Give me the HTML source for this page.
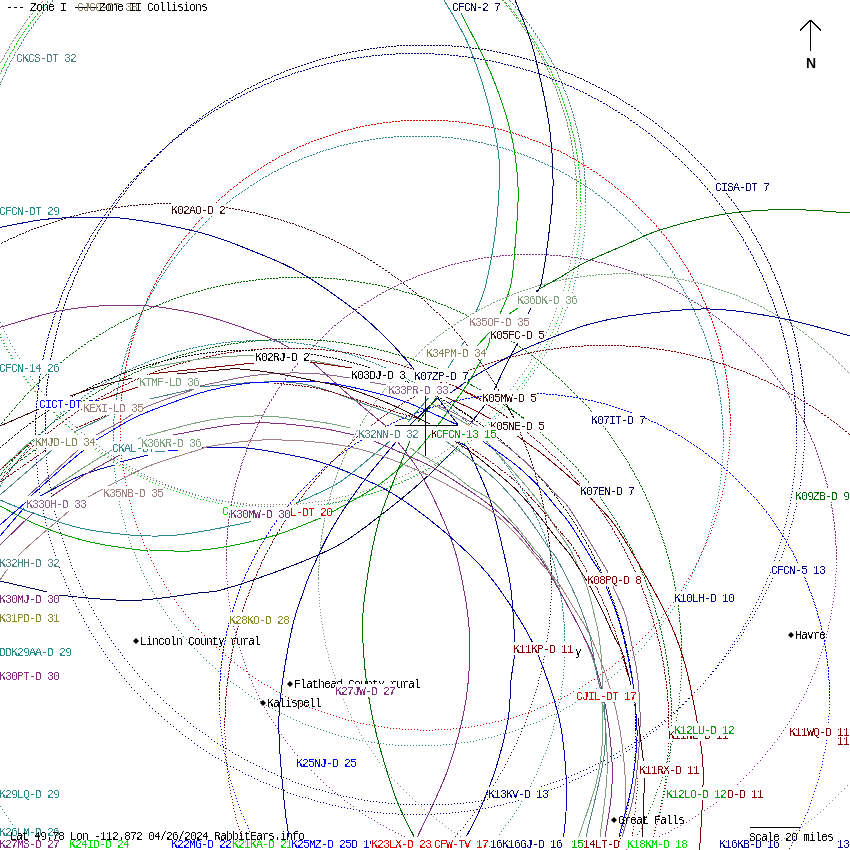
<!DOCTYPE html>
<html><head><meta charset="utf-8"><title>RabbitEars Zone Collisions</title>
<style>
html,body{margin:0;padding:0;background:#fff;}
svg{display:block}
.c path{fill:none;stroke-width:1;shape-rendering:crispEdges}
text{filter:url(#t);font-family:"Liberation Mono",monospace;font-size:11.5px;letter-spacing:-0.9px;}
.n{filter:url(#g);font-family:"Liberation Sans",sans-serif;font-weight:bold;font-size:14px;letter-spacing:0}
</style></head><body>
<svg width="850" height="850" viewBox="0 0 850 850">
<rect width="850" height="850" fill="#fff"/>
<g class="c">
<path d="M502 0.5h1M42 1.5h1M41 2.5h1M504 2.5h1M505 3.5h1M39 4.5h1M38 5.5h1M506 5.5h1M507 6.5h1M37 7.5h1M36 8.5h1M509 8.5h1M510 9.5h1M34 10.5h1M33 11.5h1M511 11.5h1M512 12.5h1M32 13.5h1M31 14.5h1M513 14.5h1M514 15.5h1M29 16.5h1M29 17.5h1M516 17.5h1M516 18.5h1M27 19.5h1M26 20.5h1M518 20.5h1M519 21.5h1M25 22.5h1M24 23.5h1M520 23.5h1M521 24.5h1M23 25.5h1M22 26.5h1M522 26.5h1M523 27.5h1M21 28.5h1M20 29.5h1M524 29.5h1M525 30.5h1M19 31.5h1M18 32.5h1M526 32.5h1M527 33.5h1M17 34.5h1M16 35.5h1M528 35.5h1M529 36.5h1M15 37.5h1M14 38.5h1M530 38.5h1M531 39.5h1M13 40.5h1M12 41.5h1M532 41.5h1M533 42.5h1M11 43.5h1M10 44.5h1M534 44.5h1M534 45.5h1M9 46.5h1M9 47.5h1M536 47.5h1M536 48.5h1M8 49.5h1M7 50.5h1M537 50.5h1M538 51.5h1M6 52.5h1M5 53.5h1M539 53.5h1M539 54.5h1M4 55.5h1M4 56.5h1M541 56.5h1M541 57.5h1M3 58.5h1M2 59.5h1M542 59.5h1M543 60.5h1M1 61.5h1M0 62.5h1M544 62.5h1M544 63.5h1M545 65.5h1M546 66.5h1M547 68.5h1M547 69.5h1M548 71.5h1M549 72.5h1M549 74.5h1M550 75.5h1M551 77.5h1M551 78.5h1M552 80.5h1M552 81.5h1M553 83.5h1M554 84.5h1M555 86.5h1M555 87.5h1M556 89.5h1M556 90.5h1M557 92.5h1M557 93.5h1M558 95.5h1M558 96.5h1M559 98.5h1M559 99.5h1M560 101.5h1M560 102.5h1M561 104.5h1M561 105.5h1M562 107.5h1M562 108.5h1M563 110.5h1M563 111.5h1M564 113.5h1M564 114.5h1M565 116.5h1M565 117.5h1M566 119.5h1M566 120.5h1M567 122.5h1M567 123.5h1M567 125.5h1M567 126.5h1M568 128.5h1M568 129.5h1M569 131.5h1M569 132.5h1M569 134.5h1M570 135.5h1M570 137.5h1M570 138.5h1M571 140.5h1M571 141.5h1M571 143.5h1M571 144.5h1M572 146.5h1M572 147.5h1M572 149.5h1M572 150.5h1M573 152.5h1M573 153.5h1M573 155.5h1M573 156.5h1M574 158.5h1M574 159.5h1M574 161.5h1M574 162.5h1M574 164.5h1M575 165.5h1M575 167.5h1M575 168.5h1M575 170.5h1M575 171.5h1M575 173.5h1M575 174.5h1M576 176.5h1M576 177.5h1M576 179.5h1M576 180.5h1M576 182.5h1M576 183.5h1M576 185.5h1M576 186.5h1M576 188.5h1M576 189.5h1M576 191.5h1M576 192.5h1M576 194.5h1M576 195.5h1M576 197.5h1M576 198.5h1M577 200.5h1M576 203.5h1M576 206.5h1M576 209.5h1M576 212.5h1M576 215.5h1M576 218.5h1M576 221.5h1M576 224.5h1M575 227.5h1M575 230.5h1M575 233.5h1M574 236.5h1M574 239.5h1M574 242.5h1M573 245.5h1M573 248.5h1M572 251.5h1M572 254.5h1M571 257.5h1M570 260.5h1M570 263.5h1M569 266.5h1M568 269.5h1M568 272.5h1M567 275.5h1M566 278.5h1M565 281.5h1M565 284.5h1M564 287.5h1M563 290.5h1M562 293.5h1M561 296.5h1M560 299.5h1M559 302.5h1M558 305.5h1M556 308.5h1M555 311.5h1M554 314.5h1M553 317.5h1M552 320.5h1M550 323.5h1M549 326.5h1M548 329.5h1M546 332.5h1M545 335.5h1M0 337.5h1M543 338.5h1M1 340.5h1M542 341.5h1M3 343.5h1M540 344.5h1M4 346.5h1M538 347.5h1M6 349.5h1M537 350.5h1M8 352.5h1M535 353.5h1M10 355.5h1M533 356.5h1M11 358.5h1M531 359.5h1M13 361.5h1M530 362.5h1M15 364.5h1M528 365.5h1M17 367.5h1M526 368.5h1M19 370.5h1M524 371.5h1M21 373.5h1M522 374.5h1M23 376.5h1M519 377.5h1M25 379.5h1M517 380.5h1M27 382.5h1M515 383.5h1M30 385.5h1M513 386.5h1M32 388.5h1M510 389.5h1M34 391.5h1M508 392.5h1M37 394.5h1M505 395.5h1M39 397.5h1M503 398.5h1M42 400.5h1M500 401.5h1M45 403.5h1M498 404.5h1M48 406.5h1M495 407.5h1M51 409.5h1M492 410.5h1M54 412.5h1M489 413.5h1M57 415.5h1M486 416.5h1M60 418.5h1M483 419.5h1M63 421.5h1M480 422.5h1M66 424.5h1M477 425.5h1M69 427.5h1M474 428.5h1M72 429.5h1M471 431.5h1M75 432.5h1M468 433.5h1M78 435.5h1M465 436.5h1M81 437.5h1M462 438.5h1M84 439.5h1M459 441.5h1M87 442.5h1M456 443.5h1M90 444.5h1M453 445.5h1M93 446.5h1M450 447.5h1M96 448.5h1M447 449.5h1M99 450.5h1M444 451.5h1M102 452.5h1M441 453.5h1M105 454.5h1M108 456.5h1M438 456.5h1M435 457.5h1M111 458.5h1M432 459.5h1M114 460.5h1M429 461.5h1M117 462.5h1M426 463.5h1M120 464.5h1M123 465.5h1M423 465.5h1M420 466.5h1M126 467.5h1M417 468.5h1M129 469.5h1M132 470.5h1M414 470.5h1M411 471.5h1M135 472.5h1M138 473.5h1M408 473.5h1M405 474.5h1M141 475.5h1M144 476.5h1M402 476.5h1M399 477.5h1M147 478.5h1M396 478.5h1M150 479.5h1M153 480.5h1M393 480.5h1M156 481.5h1M390 481.5h1M387 482.5h1M159 483.5h1M384 483.5h1M162 484.5h1M381 484.5h1M165 485.5h1M168 486.5h1M378 486.5h1M171 487.5h1M375 487.5h1M174 488.5h1M372 488.5h1M177 489.5h1M369 489.5h1M180 490.5h1M366 490.5h1M183 491.5h1M363 491.5h1M186 492.5h1M357 492.5h1M360 492.5h1M189 493.5h1M354 493.5h1M192 494.5h1M351 494.5h1M195 495.5h1M198 495.5h1M348 495.5h1M201 496.5h1M342 496.5h1M345 496.5h1M204 497.5h1M207 497.5h1M339 497.5h1M210 498.5h1M333 498.5h1M336 498.5h1M213 499.5h1M216 499.5h1M330 499.5h1M219 500.5h1M222 500.5h1M324 500.5h1M327 500.5h1M225 501.5h1M228 501.5h1M315 501.5h1M318 501.5h1M321 501.5h1M231 502.5h1M234 502.5h1M237 502.5h1M309 502.5h1M312 502.5h1M240 503.5h1M243 503.5h1M246 503.5h1M300 503.5h1M303 503.5h1M306 503.5h1M249 504.5h1M252 504.5h1M255 504.5h1M258 504.5h1M261 504.5h1M264 504.5h1M267 504.5h1M270 504.5h1M273 504.5h1M276 504.5h1M279 504.5h1M282 504.5h1M285 504.5h1M288 504.5h1M291 504.5h1M294 504.5h1M297 504.5h1" stroke="#8a8468" style="shape-rendering:auto"/>
<path d="M503 0.5h1M47 1.5h1M47 2.5h1M505 2.5h1M506 3.5h1M45 4.5h1M44 5.5h1M508 5.5h1M509 6.5h1M42 7.5h1M41 8.5h1M510 8.5h1M511 9.5h1M40 10.5h1M39 11.5h1M513 11.5h1M514 12.5h1M37 13.5h1M37 14.5h1M515 14.5h1M516 15.5h1M35 16.5h1M34 17.5h1M517 17.5h1M518 18.5h1M33 19.5h1M32 20.5h1M520 20.5h1M520 21.5h1M30 22.5h1M30 23.5h1M522 23.5h1M523 24.5h1M28 25.5h1M28 26.5h1M524 26.5h1M525 27.5h1M26 28.5h1M25 29.5h1M526 29.5h1M527 30.5h1M24 31.5h1M23 32.5h1M528 32.5h1M529 33.5h1M22 34.5h1M21 35.5h1M530 35.5h1M531 36.5h1M20 37.5h1M19 38.5h1M532 38.5h1M533 39.5h1M18 40.5h1M17 41.5h1M534 41.5h1M535 42.5h1M16 43.5h1M16 44.5h1M536 44.5h1M537 45.5h1M14 46.5h1M14 47.5h1M538 47.5h1M538 48.5h1M13 49.5h1M12 50.5h1M539 50.5h1M540 51.5h1M11 52.5h1M10 53.5h1M541 53.5h1M542 54.5h1M9 55.5h1M9 56.5h1M543 56.5h1M543 57.5h1M7 58.5h1M7 59.5h1M544 59.5h1M545 60.5h1M6 61.5h1M5 62.5h1M546 62.5h1M547 63.5h1M4 64.5h1M4 65.5h1M548 65.5h1M548 66.5h1M3 67.5h1M2 68.5h1M549 68.5h1M550 69.5h1M1 70.5h1M1 71.5h1M551 71.5h1M551 72.5h1M0 73.5h1M552 74.5h1M552 75.5h1M553 77.5h1M554 78.5h1M555 80.5h1M555 81.5h1M556 83.5h1M556 84.5h1M557 86.5h1M558 87.5h1M559 89.5h1M559 90.5h1M560 92.5h1M560 93.5h1M561 95.5h1M561 96.5h1M562 98.5h1M562 99.5h1M563 101.5h1M563 102.5h1M564 104.5h1M564 105.5h1M565 107.5h1M565 108.5h1M566 110.5h1M566 111.5h1M567 113.5h1M567 114.5h1M568 116.5h1M568 117.5h1M569 119.5h1M569 120.5h1M570 122.5h1M570 123.5h1M570 125.5h1M571 126.5h1M571 128.5h1M571 129.5h1M572 131.5h1M572 132.5h1M573 134.5h1M573 135.5h1M573 137.5h1M574 138.5h1M574 140.5h1M574 141.5h1M575 143.5h1M575 144.5h1M575 146.5h1M575 147.5h1M576 149.5h1M576 150.5h1M576 152.5h1M576 153.5h1M577 155.5h1M577 156.5h1M577 158.5h1M577 159.5h1M578 161.5h1M578 162.5h1M578 164.5h1M578 165.5h1M578 167.5h1M578 168.5h1M579 170.5h1M579 171.5h1M579 173.5h1M579 174.5h1M579 176.5h1M579 177.5h1M580 179.5h1M580 180.5h1M580 182.5h1M580 183.5h1M580 185.5h1M580 186.5h1M580 188.5h1M580 189.5h1M580 191.5h1M580 192.5h1M580 194.5h1M580 195.5h1M580 197.5h1M580 198.5h1M580 200.5h1M580 201.5h1M581 203.5h1M580 206.5h1M580 209.5h1M580 212.5h1M580 215.5h1M580 218.5h1M580 221.5h1M580 224.5h1M580 227.5h1M579 230.5h1M579 233.5h1M579 236.5h1M578 239.5h1M578 242.5h1M578 245.5h1M577 248.5h1M577 251.5h1M576 254.5h1M576 257.5h1M575 260.5h1M575 263.5h1M574 266.5h1M573 269.5h1M573 272.5h1M572 275.5h1M571 278.5h1M570 281.5h1M569 284.5h1M569 287.5h1M568 290.5h1M567 293.5h1M566 296.5h1M565 299.5h1M564 302.5h1M563 305.5h1M562 308.5h1M561 311.5h1M560 314.5h1M558 317.5h1M557 320.5h1M556 323.5h1M555 326.5h1M553 329.5h1M552 332.5h1M0 334.5h1M550 335.5h1M1 337.5h1M549 338.5h1M3 340.5h1M547 341.5h1M4 343.5h1M546 344.5h1M6 346.5h1M544 347.5h1M7 349.5h1M543 350.5h1M9 352.5h1M541 353.5h1M11 355.5h1M539 356.5h1M12 358.5h1M537 359.5h1M14 361.5h1M536 362.5h1M16 364.5h1M534 365.5h1M18 367.5h1M532 368.5h1M20 370.5h1M530 371.5h1M22 373.5h1M528 374.5h1M24 376.5h1M526 377.5h1M26 379.5h1M524 380.5h1M28 382.5h1M522 383.5h1M30 385.5h1M519 386.5h1M33 388.5h1M517 389.5h1M35 391.5h1M515 392.5h1M37 394.5h1M512 395.5h1M40 397.5h1M510 398.5h1M42 400.5h1M507 401.5h1M45 403.5h1M505 404.5h1M47 406.5h1M502 407.5h1M50 409.5h1M499 410.5h1M53 412.5h1M496 413.5h1M56 415.5h1M494 416.5h1M59 418.5h1M491 419.5h1M62 421.5h1M488 422.5h1M65 424.5h1M485 425.5h1M68 426.5h1M482 428.5h1M71 429.5h1M479 431.5h1M74 432.5h1M476 433.5h1M77 434.5h1M473 436.5h1M80 437.5h1M83 439.5h1M470 439.5h1M467 441.5h1M86 442.5h1M464 443.5h1M89 444.5h1M461 446.5h1M92 447.5h1M458 448.5h1M95 449.5h1M455 450.5h1M98 451.5h1M452 452.5h1M101 453.5h1M449 454.5h1M104 455.5h1M446 456.5h1M107 457.5h1M443 458.5h1M110 459.5h1M440 460.5h1M113 461.5h1M437 462.5h1M116 463.5h1M434 464.5h1M119 465.5h1M431 466.5h1M122 467.5h1M125 468.5h1M428 468.5h1M425 469.5h1M128 470.5h1M422 471.5h1M131 472.5h1M134 473.5h1M419 473.5h1M416 474.5h1M137 475.5h1M140 476.5h1M413 476.5h1M410 477.5h1M143 478.5h1M146 479.5h1M407 479.5h1M404 480.5h1M149 481.5h1M401 481.5h1M152 482.5h1M155 483.5h1M398 483.5h1M395 484.5h1M158 485.5h1M392 485.5h1M161 486.5h1M389 486.5h1M164 487.5h1M167 488.5h1M386 488.5h1M170 489.5h1M383 489.5h1M173 490.5h1M380 490.5h1M176 491.5h1M377 491.5h1M179 492.5h1M374 492.5h1M182 493.5h1M371 493.5h1M185 494.5h1M368 494.5h1M188 495.5h1M365 495.5h1M191 496.5h1M362 496.5h1M194 497.5h1M359 497.5h1M197 498.5h1M353 498.5h1M356 498.5h1M200 499.5h1M203 499.5h1M350 499.5h1M206 500.5h1M344 500.5h1M347 500.5h1M209 501.5h1M212 501.5h1M341 501.5h1M215 502.5h1M335 502.5h1M338 502.5h1M218 503.5h1M221 503.5h1M332 503.5h1M224 504.5h1M227 504.5h1M326 504.5h1M329 504.5h1M230 505.5h1M233 505.5h1M317 505.5h1M320 505.5h1M323 505.5h1M236 506.5h1M239 506.5h1M242 506.5h1M308 506.5h1M311 506.5h1M314 506.5h1M245 507.5h1M248 507.5h1M251 507.5h1M254 507.5h1M299 507.5h1M302 507.5h1M305 507.5h1M257 508.5h1M260 508.5h1M263 508.5h1M266 508.5h1M269 508.5h1M272 508.5h1M275 508.5h1M278 508.5h1M281 508.5h1M284 508.5h1M287 508.5h1M290 508.5h1M293 508.5h1M296 508.5h1" stroke="#00dc00" style="shape-rendering:auto"/>
<path d="M52 0.5h1M509 0.5h1M52 1.5h1M510 1.5h1M50 3.5h1M512 3.5h1M49 4.5h1M513 4.5h1M47 6.5h1M515 6.5h1M46 7.5h1M515 7.5h1M45 9.5h1M517 9.5h1M44 10.5h1M518 10.5h1M42 12.5h1M519 12.5h1M42 13.5h1M520 13.5h1M40 15.5h1M522 15.5h1M39 16.5h1M523 16.5h1M38 18.5h1M524 18.5h1M37 19.5h1M525 19.5h1M35 21.5h1M526 21.5h1M35 22.5h1M527 22.5h1M33 24.5h1M529 24.5h1M33 25.5h1M529 25.5h1M31 27.5h1M531 27.5h1M31 28.5h1M531 28.5h1M29 30.5h1M533 30.5h1M28 31.5h1M533 31.5h1M27 33.5h1M535 33.5h1M26 34.5h1M535 34.5h1M25 36.5h1M537 36.5h1M24 37.5h1M537 37.5h1M23 39.5h1M539 39.5h1M23 40.5h1M539 40.5h1M21 42.5h1M540 42.5h1M21 43.5h1M541 43.5h1M20 45.5h1M542 45.5h1M19 46.5h1M543 46.5h1M18 48.5h1M544 48.5h1M17 49.5h1M545 49.5h1M16 51.5h1M546 51.5h1M15 52.5h1M546 52.5h1M14 54.5h1M547 54.5h1M14 55.5h1M548 55.5h1M13 57.5h1M549 57.5h1M12 58.5h1M550 58.5h1M11 60.5h1M551 60.5h1M10 61.5h1M551 61.5h1M9 63.5h1M552 63.5h1M9 64.5h1M553 64.5h1M8 66.5h1M554 66.5h1M7 67.5h1M554 67.5h1M6 69.5h1M555 69.5h1M6 70.5h1M556 70.5h1M5 72.5h1M557 72.5h1M5 73.5h1M557 73.5h1M4 75.5h1M558 75.5h1M3 76.5h1M558 76.5h1M2 78.5h1M559 78.5h1M2 79.5h1M560 79.5h1M1 81.5h1M561 81.5h1M0 82.5h1M561 82.5h1M0 84.5h1M562 84.5h1M562 85.5h1M563 87.5h1M563 88.5h1M564 90.5h1M565 91.5h1M565 93.5h1M566 94.5h1M567 96.5h1M567 97.5h1M568 99.5h1M568 100.5h1M569 102.5h1M569 103.5h1M570 105.5h1M570 106.5h1M571 108.5h1M571 109.5h1M572 111.5h1M572 112.5h1M573 114.5h1M573 115.5h1M573 117.5h1M574 118.5h1M574 120.5h1M575 121.5h1M575 123.5h1M575 124.5h1M576 126.5h1M576 127.5h1M577 129.5h1M577 130.5h1M577 132.5h1M578 133.5h1M578 135.5h1M578 136.5h1M579 138.5h1M579 139.5h1M579 141.5h1M580 142.5h1M580 144.5h1M580 145.5h1M580 147.5h1M581 148.5h1M581 150.5h1M581 151.5h1M582 153.5h1M582 154.5h1M582 156.5h1M582 157.5h1M582 159.5h1M583 160.5h1M583 162.5h1M583 163.5h1M583 165.5h1M583 166.5h1M584 168.5h1M584 169.5h1M584 171.5h1M584 172.5h1M584 174.5h1M584 175.5h1M584 177.5h1M584 178.5h1M585 180.5h1M585 181.5h1M585 183.5h1M585 184.5h1M585 186.5h1M585 187.5h1M585 189.5h1M585 190.5h1M585 192.5h1M585 193.5h1M585 195.5h1M585 196.5h1M585 198.5h1M585 199.5h1M585 201.5h1M585 202.5h1M585 205.5h1M585 208.5h1M585 211.5h1M585 214.5h1M585 217.5h1M585 220.5h1M585 223.5h1M584 226.5h1M584 229.5h1M584 232.5h1M584 235.5h1M583 238.5h1M583 241.5h1M582 244.5h1M582 247.5h1M582 250.5h1M581 253.5h1M580 256.5h1M580 259.5h1M579 262.5h1M579 265.5h1M578 268.5h1M577 271.5h1M577 274.5h1M576 277.5h1M575 280.5h1M574 283.5h1M573 286.5h1M573 289.5h1M572 292.5h1M571 295.5h1M570 298.5h1M569 301.5h1M568 304.5h1M567 307.5h1M565 310.5h1M564 313.5h1M563 316.5h1M562 319.5h1M0 322.5h1M561 322.5h1M2 325.5h1M559 325.5h1M3 328.5h1M558 328.5h1M4 331.5h1M557 331.5h1M6 334.5h1M555 334.5h1M7 337.5h1M554 337.5h1M9 340.5h1M552 340.5h1M10 343.5h1M551 343.5h1M12 346.5h1M549 346.5h1M14 349.5h1M547 349.5h1M15 352.5h1M546 352.5h1M17 355.5h1M544 355.5h1M19 358.5h1M542 358.5h1M20 361.5h1M540 361.5h1M22 364.5h1M538 364.5h1M24 367.5h1M537 367.5h1M26 370.5h1M534 370.5h1M28 373.5h1M533 373.5h1M30 376.5h1M530 376.5h1M32 379.5h1M528 379.5h1M34 382.5h1M526 382.5h1M37 385.5h1M524 385.5h1M39 388.5h1M522 388.5h1M41 391.5h1M519 391.5h1M44 394.5h1M517 394.5h1M46 397.5h1M514 397.5h1M49 400.5h1M512 400.5h1M51 403.5h1M509 403.5h1M54 406.5h1M507 406.5h1M57 409.5h1M504 409.5h1M60 412.5h1M501 412.5h1M63 415.5h1M498 415.5h1M66 418.5h1M495 418.5h1M69 421.5h1M492 421.5h1M72 424.5h1M489 424.5h1M75 426.5h1M486 427.5h1M78 429.5h1M483 430.5h1M81 432.5h1M480 433.5h1M84 434.5h1M477 435.5h1M87 437.5h1M474 438.5h1M90 439.5h1M471 440.5h1M93 442.5h1M468 443.5h1M96 444.5h1M465 445.5h1M99 446.5h1M462 447.5h1M102 449.5h1M459 449.5h1M105 451.5h1M456 451.5h1M108 453.5h1M453 453.5h1M111 455.5h1M450 455.5h1M114 457.5h1M447 457.5h1M117 459.5h1M444 459.5h1M120 461.5h1M441 461.5h1M123 462.5h1M438 463.5h1M126 464.5h1M435 465.5h1M129 466.5h1M432 467.5h1M132 468.5h1M429 468.5h1M135 469.5h1M426 470.5h1M138 471.5h1M423 471.5h1M141 473.5h1M420 473.5h1M144 474.5h1M417 475.5h1M147 476.5h1M414 476.5h1M150 477.5h1M153 478.5h1M411 478.5h1M408 479.5h1M156 480.5h1M405 480.5h1M159 481.5h1M162 482.5h1M402 482.5h1M399 483.5h1M165 484.5h1M396 484.5h1M168 485.5h1M393 485.5h1M171 486.5h1M390 486.5h1M174 487.5h1M177 488.5h1M387 488.5h1M180 489.5h1M384 489.5h1M183 490.5h1M381 490.5h1M186 491.5h1M378 491.5h1M189 492.5h1M375 492.5h1M192 493.5h1M372 493.5h1M195 494.5h1M366 494.5h1M369 494.5h1M198 495.5h1M363 495.5h1M201 496.5h1M360 496.5h1M204 497.5h1M207 497.5h1M357 497.5h1M210 498.5h1M351 498.5h1M354 498.5h1M213 499.5h1M348 499.5h1M216 500.5h1M219 500.5h1M342 500.5h1M345 500.5h1M222 501.5h1M225 501.5h1M339 501.5h1M228 502.5h1M231 502.5h1M333 502.5h1M336 502.5h1M234 503.5h1M237 503.5h1M327 503.5h1M330 503.5h1M240 504.5h1M243 504.5h1M318 504.5h1M321 504.5h1M324 504.5h1M246 505.5h1M249 505.5h1M252 505.5h1M255 505.5h1M309 505.5h1M312 505.5h1M315 505.5h1M258 506.5h1M261 506.5h1M264 506.5h1M267 506.5h1M270 506.5h1M273 506.5h1M291 506.5h1M294 506.5h1M297 506.5h1M300 506.5h1M303 506.5h1M306 506.5h1M276 507.5h1M279 507.5h1M282 507.5h1M285 507.5h1M288 507.5h1" stroke="#4f8282" style="shape-rendering:auto"/>
<path d="M397 45.5h2M400 45.5h2M403 45.5h2M406 45.5h2M409 45.5h2M412 45.5h2M415 45.5h2M418 45.5h2M421 45.5h2M424 45.5h2M427 45.5h2M430 45.5h2M433 45.5h2M436 45.5h2M439 45.5h2M442 45.5h2M445 45.5h2M448 45.5h2M451 45.5h1M386 46.5h1M388 46.5h2M391 46.5h2M394 46.5h2M452 46.5h1M454 46.5h2M457 46.5h2M460 46.5h2M463 46.5h1M377 47.5h1M379 47.5h2M382 47.5h2M385 47.5h1M464 47.5h1M466 47.5h2M469 47.5h2M370 48.5h2M373 48.5h2M376 48.5h1M472 48.5h2M475 48.5h2M478 48.5h2M364 49.5h2M367 49.5h2M481 49.5h2M484 49.5h2M358 50.5h2M361 50.5h2M487 50.5h2M490 50.5h2M352 51.5h2M355 51.5h2M493 51.5h2M496 51.5h1M347 52.5h1M349 52.5h2M497 52.5h1M499 52.5h2M343 53.5h2M346 53.5h1M502 53.5h2M505 53.5h2M338 54.5h1M340 54.5h2M508 54.5h2M334 55.5h2M337 55.5h1M511 55.5h2M514 55.5h1M331 56.5h2M515 56.5h1M517 56.5h2M326 57.5h1M328 57.5h2M520 57.5h2M322 58.5h2M325 58.5h1M523 58.5h2M526 58.5h1M319 59.5h2M527 59.5h1M529 59.5h1M316 60.5h2M530 60.5h1M532 60.5h2M313 61.5h2M535 61.5h2M310 62.5h2M538 62.5h2M307 63.5h2M541 63.5h2M304 64.5h2M544 64.5h2M301 65.5h2M547 65.5h2M298 66.5h2M550 66.5h2M295 67.5h2M553 67.5h2M292 68.5h2M556 68.5h2M289 69.5h2M559 69.5h1M286 70.5h2M560 70.5h1M562 70.5h1M284 71.5h1M563 71.5h1M281 72.5h1M283 72.5h1M565 72.5h2M280 73.5h1M568 73.5h2M277 74.5h2M571 74.5h2M274 75.5h2M574 75.5h1M272 76.5h1M575 76.5h1M271 77.5h1M577 77.5h2M268 78.5h2M580 78.5h2M265 79.5h2M583 79.5h1M263 80.5h1M584 80.5h1M262 81.5h1M586 81.5h2M259 82.5h2M589 82.5h1M257 83.5h1M590 83.5h1M256 84.5h1M592 84.5h2M253 85.5h2M595 85.5h1M251 86.5h1M596 86.5h1M250 87.5h1M598 87.5h2M247 88.5h2M601 88.5h1M245 89.5h1M602 89.5h1M244 90.5h1M604 90.5h2M242 91.5h1M607 91.5h1M241 92.5h1M608 92.5h1M238 93.5h2M610 93.5h1M236 94.5h1M611 94.5h1M235 95.5h1M613 95.5h2M233 96.5h1M616 96.5h1M232 97.5h1M617 97.5h1M229 98.5h2M619 98.5h1M620 99.5h1M226 100.5h2M622 100.5h1M224 101.5h1M623 101.5h1M223 102.5h1M625 102.5h1M221 103.5h1M626 103.5h1M220 104.5h1M628 104.5h2M218 105.5h1M217 106.5h1M631 106.5h2M215 107.5h1M214 108.5h1M634 108.5h2M212 109.5h1M211 110.5h1M637 110.5h2M209 111.5h1M208 112.5h1M640 112.5h1M206 113.5h1M641 113.5h1M205 114.5h1M643 114.5h1M203 115.5h1M644 115.5h1M202 116.5h1M646 116.5h1M647 117.5h1M199 118.5h2M649 118.5h1M650 119.5h1M197 120.5h1M652 120.5h1M196 121.5h1M653 121.5h1M194 122.5h1M193 123.5h1M655 123.5h2M191 124.5h1M190 125.5h1M658 125.5h1M659 126.5h1M188 127.5h1M661 127.5h1M187 128.5h1M662 128.5h1M185 129.5h1M184 130.5h1M664 130.5h1M665 131.5h1M182 132.5h1M667 132.5h1M181 133.5h1M668 133.5h1M179 134.5h1M178 135.5h1M670 135.5h1M671 136.5h1M176 137.5h1M673 137.5h1M175 138.5h1M674 138.5h1M173 139.5h1M172 140.5h1M676 140.5h1M677 141.5h1M170 142.5h1M169 143.5h1M679 143.5h1M680 144.5h1M167 145.5h1M682 145.5h1M166 146.5h1M683 146.5h1M164 148.5h1M685 148.5h1M163 149.5h1M686 149.5h1M161 151.5h1M688 151.5h1M160 152.5h1M689 152.5h1M158 154.5h1M691 154.5h1M157 155.5h1M692 155.5h1M155 157.5h1M694 157.5h1M154 158.5h1M695 158.5h1M152 160.5h1M697 160.5h1M151 161.5h1M698 161.5h1M149 163.5h1M700 163.5h1M148 164.5h1M701 164.5h1M146 166.5h1M703 166.5h1M145 167.5h1M704 167.5h1M144 169.5h1M706 169.5h1M143 170.5h1M707 170.5h1M141 172.5h1M709 172.5h1M140 173.5h1M710 173.5h1M138 175.5h1M711 175.5h1M137 176.5h1M712 176.5h1M136 178.5h1M714 178.5h1M135 179.5h1M715 179.5h1M133 181.5h1M717 181.5h1M132 182.5h1M717 182.5h1M131 184.5h1M719 184.5h1M130 185.5h1M720 185.5h1M128 187.5h1M721 187.5h1M127 188.5h1M722 188.5h1M126 190.5h1M724 190.5h1M125 191.5h1M725 191.5h1M124 193.5h1M726 193.5h1M123 194.5h1M727 194.5h1M121 196.5h1M728 196.5h1M120 197.5h1M729 197.5h1M119 199.5h1M731 199.5h1M118 200.5h1M731 200.5h1M117 202.5h1M733 202.5h1M116 203.5h1M734 203.5h1M115 205.5h1M735 205.5h1M114 206.5h1M736 206.5h1M112 208.5h1M737 208.5h1M112 209.5h1M738 209.5h1M110 211.5h1M739 211.5h1M110 212.5h1M740 212.5h1M108 214.5h1M741 214.5h1M108 215.5h1M742 215.5h1M106 217.5h1M743 217.5h1M106 218.5h1M744 218.5h1M105 220.5h1M745 220.5h1M104 221.5h1M746 221.5h1M103 223.5h1M747 223.5h1M102 224.5h1M748 224.5h1M101 226.5h1M749 226.5h1M100 227.5h1M749 227.5h1M99 229.5h1M751 229.5h1M98 230.5h1M751 230.5h1M97 232.5h1M752 232.5h1M97 233.5h1M753 233.5h1M95 235.5h1M754 235.5h1M95 236.5h1M755 236.5h1M94 238.5h1M756 238.5h1M93 239.5h1M756 239.5h1M92 241.5h1M757 241.5h1M91 242.5h1M758 242.5h1M90 244.5h1M759 244.5h1M90 245.5h1M760 245.5h1M89 247.5h1M761 247.5h1M88 248.5h1M761 248.5h1M87 250.5h1M762 250.5h1M87 251.5h1M763 251.5h1M86 253.5h1M764 253.5h1M85 254.5h1M764 254.5h1M84 256.5h1M765 256.5h1M84 257.5h1M766 257.5h1M83 259.5h1M767 259.5h1M82 260.5h1M767 260.5h1M81 262.5h1M768 262.5h1M81 263.5h1M769 263.5h1M80 265.5h1M770 265.5h1M79 266.5h1M770 266.5h1M78 268.5h1M771 268.5h1M78 269.5h1M771 269.5h1M77 271.5h1M772 271.5h1M77 272.5h1M773 272.5h1M76 274.5h1M774 274.5h1M75 275.5h1M774 275.5h1M74 277.5h1M775 277.5h1M74 278.5h1M775 278.5h1M73 280.5h1M776 280.5h1M73 281.5h1M777 281.5h1M72 283.5h1M777 283.5h1M72 284.5h1M778 284.5h1M71 286.5h1M779 286.5h1M70 287.5h1M779 287.5h1M70 289.5h1M780 289.5h1M69 290.5h1M780 290.5h1M68 292.5h1M781 292.5h1M68 293.5h1M781 293.5h1M67 295.5h1M782 295.5h1M67 296.5h1M782 296.5h1M66 298.5h1M783 298.5h1M66 299.5h1M783 299.5h1M65 301.5h1M784 301.5h1M65 302.5h1M784 302.5h1M64 304.5h1M785 304.5h1M64 305.5h1M785 305.5h1M63 307.5h1M786 307.5h1M63 308.5h1M786 308.5h1M62 310.5h1M787 310.5h1M62 311.5h1M787 311.5h1M61 313.5h1M788 313.5h1M61 314.5h1M788 314.5h1M60 316.5h1M789 316.5h1M60 317.5h1M789 317.5h1M60 319.5h1M790 319.5h1M59 320.5h1M790 320.5h1M59 322.5h1M790 322.5h1M58 323.5h1M791 323.5h1M58 325.5h1M791 325.5h1M58 326.5h1M792 326.5h1M57 328.5h1M792 328.5h1M57 329.5h1M792 329.5h1M56 331.5h1M793 331.5h1M56 332.5h1M793 332.5h1M56 334.5h1M794 334.5h1M55 335.5h1M794 335.5h1M55 337.5h1M794 337.5h1M55 338.5h1M795 338.5h1M54 340.5h1M795 340.5h1M54 341.5h1M795 341.5h1M53 343.5h1M796 343.5h1M53 344.5h1M796 344.5h1M53 346.5h1M796 346.5h1M53 347.5h1M797 347.5h1M52 349.5h1M797 349.5h1M52 350.5h1M797 350.5h1M52 352.5h1M798 352.5h1M51 353.5h1M798 353.5h1M51 355.5h1M798 355.5h1M51 356.5h1M798 356.5h1M50 358.5h1M799 358.5h1M50 359.5h1M799 359.5h1M50 361.5h1M799 361.5h1M50 362.5h1M799 362.5h1M49 364.5h1M800 364.5h1M49 365.5h1M800 365.5h1M49 367.5h1M800 367.5h1M49 368.5h1M800 368.5h1M48 370.5h1M801 370.5h1M48 371.5h1M801 371.5h1M48 373.5h1M801 373.5h1M48 374.5h1M801 374.5h1M48 376.5h1M801 376.5h1M48 377.5h1M802 377.5h1M47 379.5h1M802 379.5h1M47 380.5h1M802 380.5h1M47 382.5h1M802 382.5h1M47 383.5h1M802 383.5h1M47 385.5h1M802 385.5h1M46 386.5h1M803 386.5h1M46 388.5h1M803 388.5h1M46 389.5h1M803 389.5h1M46 391.5h1M803 391.5h1M46 392.5h1M803 392.5h1M46 394.5h1M803 394.5h1M46 395.5h1M803 395.5h1M46 397.5h1M804 397.5h1M45 398.5h1M804 398.5h1M45 400.5h1M804 400.5h1M45 401.5h1M804 401.5h1M45 403.5h1M804 403.5h1M45 404.5h1M804 404.5h1M45 406.5h1M804 406.5h1M45 407.5h1M804 407.5h1M45 409.5h1M804 409.5h1M45 410.5h1M804 410.5h1M45 412.5h1M804 412.5h1M45 413.5h1M804 413.5h1M45 415.5h1M804 415.5h1M45 416.5h1M804 416.5h1M45 418.5h1M804 418.5h1M45 419.5h1M804 419.5h1M45 421.5h1M804 421.5h1M45 422.5h1M804 422.5h1M45 424.5h1M805 424.5h1M45 425.5h1M805 425.5h1M45 427.5h1M804 428.5h1M45 430.5h1M804 431.5h1M45 433.5h1M804 434.5h1M45 436.5h1M804 437.5h1M45 439.5h1M804 440.5h1M45 442.5h1M804 443.5h1M45 445.5h1M804 446.5h1M45 448.5h1M804 449.5h1M45 451.5h1M803 452.5h1M46 454.5h1M803 455.5h1M46 457.5h1M803 458.5h1M46 460.5h1M803 461.5h1M46 463.5h1M802 464.5h1M47 466.5h1M802 467.5h1M47 469.5h1M802 470.5h1M47 472.5h1M801 473.5h1M48 475.5h1M801 476.5h1M48 478.5h1M801 479.5h1M49 481.5h1M800 482.5h1M49 484.5h1M800 485.5h1M50 487.5h1M799 488.5h1M50 490.5h1M799 491.5h1M51 493.5h1M798 494.5h1M51 496.5h1M797 497.5h1M52 499.5h1M797 500.5h1M52 502.5h1M796 503.5h1M53 505.5h1M796 506.5h1M54 508.5h1M795 509.5h1M54 511.5h1M794 512.5h1M55 514.5h1M793 515.5h1M56 517.5h1M793 518.5h1M57 520.5h1M792 521.5h1M57 523.5h1M791 524.5h1M58 526.5h1M790 527.5h1M59 529.5h1M789 530.5h1M60 532.5h1M789 533.5h1M61 535.5h1M788 536.5h1M62 538.5h1M787 539.5h1M63 541.5h1M786 542.5h1M64 544.5h1M785 545.5h1M65 547.5h1M784 548.5h1M66 550.5h1M783 551.5h1M67 553.5h1M782 554.5h1M68 556.5h1M781 557.5h1M69 559.5h1M779 560.5h1M70 562.5h1M778 563.5h1M71 565.5h1M777 566.5h1M72 568.5h1M776 569.5h1M74 571.5h1M775 572.5h1M75 574.5h1M773 575.5h1M76 577.5h1M772 578.5h1M78 580.5h1M771 581.5h1M79 583.5h1M769 584.5h1M80 586.5h1M768 587.5h1M82 589.5h1M766 590.5h1M83 592.5h1M765 593.5h1M85 595.5h1M763 596.5h1M86 598.5h1M762 599.5h1M88 601.5h1M760 602.5h1M89 604.5h1M759 605.5h1M91 607.5h1M757 608.5h1M93 610.5h1M755 611.5h1M94 613.5h1M754 614.5h1M96 616.5h1M752 617.5h1M98 619.5h1M750 620.5h1M100 622.5h1M748 623.5h1M101 625.5h1M746 626.5h1M103 628.5h1M744 629.5h1M105 631.5h1M743 632.5h1M107 634.5h1M741 635.5h1M109 637.5h1M739 638.5h1M111 640.5h1M737 641.5h1M113 643.5h1M734 644.5h1M115 646.5h1M732 647.5h1M118 649.5h1M730 650.5h1M120 652.5h1M728 653.5h1M122 655.5h1M725 656.5h1M124 658.5h1M723 659.5h1M127 661.5h1M721 662.5h1M129 664.5h1M718 665.5h1M132 667.5h1M716 668.5h1M134 670.5h1M713 671.5h1M137 673.5h1M711 674.5h1M139 676.5h1M708 677.5h1M142 679.5h1M705 680.5h1M145 682.5h1M703 683.5h1M148 685.5h1M700 686.5h1M151 688.5h1M697 689.5h1M154 691.5h1M694 692.5h1M157 694.5h1M691 695.5h1M160 697.5h1M688 698.5h1M163 700.5h1M685 701.5h1M166 703.5h1M682 704.5h1M169 705.5h1M679 707.5h1M172 708.5h1M676 710.5h1M175 711.5h1M673 712.5h1M178 713.5h1M670 715.5h1M181 716.5h1M667 717.5h1M184 718.5h1M664 720.5h1M187 721.5h1M661 722.5h1M190 723.5h1M658 725.5h1M193 726.5h1M655 727.5h1M196 728.5h1M652 729.5h1M199 730.5h1M649 731.5h1M202 732.5h1M205 734.5h1M646 734.5h1M208 736.5h1M643 736.5h1M640 738.5h1M211 739.5h1M637 740.5h1M214 741.5h1M634 742.5h1M217 743.5h1M631 744.5h1M220 745.5h1M223 746.5h1M628 746.5h1M226 748.5h1M625 748.5h1M622 749.5h1M229 750.5h1M619 751.5h1M232 752.5h1M616 753.5h1M235 754.5h1M238 755.5h1M613 755.5h1M610 756.5h1M241 757.5h1M607 758.5h1M244 759.5h1M247 760.5h1M604 760.5h1M601 761.5h1M250 762.5h1M253 763.5h1M598 763.5h1M595 764.5h1M256 765.5h1M259 766.5h1M592 766.5h1M589 767.5h1M262 768.5h1M265 769.5h1M586 769.5h1M583 770.5h1M268 771.5h1M580 771.5h1M271 772.5h1M274 773.5h1M577 773.5h1M574 774.5h1M277 775.5h1M571 775.5h1M280 776.5h1M283 777.5h1M568 777.5h1M286 778.5h1M565 778.5h1M289 779.5h1M562 779.5h1M559 780.5h1M292 781.5h1M556 781.5h1M295 782.5h1M553 782.5h1M298 783.5h1M550 783.5h1M301 784.5h1M547 784.5h1M304 785.5h1M544 785.5h1M307 786.5h1M541 786.5h1M310 787.5h1M538 787.5h1M313 788.5h1M535 788.5h1M316 789.5h1M319 789.5h1M532 789.5h1M322 790.5h1M529 790.5h1M325 791.5h1M526 791.5h1M328 792.5h1M520 792.5h1M523 792.5h1M331 793.5h1M334 793.5h1M517 793.5h1M337 794.5h1M514 794.5h1M340 795.5h1M508 795.5h1M511 795.5h1M343 796.5h1M346 796.5h1M505 796.5h1M349 797.5h1M352 797.5h1M499 797.5h1M502 797.5h1M355 798.5h1M493 798.5h1M496 798.5h1M358 799.5h1M361 799.5h1M487 799.5h1M490 799.5h1M364 800.5h1M367 800.5h1M481 800.5h1M484 800.5h1M370 801.5h1M373 801.5h1M376 801.5h1M475 801.5h1M478 801.5h1M379 802.5h1M382 802.5h1M385 802.5h1M466 802.5h1M469 802.5h1M472 802.5h1M388 803.5h1M391 803.5h1M394 803.5h1M397 803.5h1M454 803.5h1M457 803.5h1M460 803.5h1M463 803.5h1M400 804.5h1M403 804.5h1M406 804.5h1M409 804.5h1M412 804.5h1M415 804.5h1M418 804.5h1M421 804.5h1M424 804.5h1M427 804.5h1M430 804.5h1M433 804.5h1M436 804.5h1M439 804.5h1M442 804.5h1M445 804.5h1M448 804.5h1M451 804.5h1" stroke="#000058" style="shape-rendering:auto"/>
<path d="M396 53.5h2M399 53.5h2M402 53.5h2M405 53.5h2M408 53.5h2M411 53.5h2M414 53.5h2M417 53.5h2M420 53.5h2M423 53.5h2M426 53.5h2M429 53.5h2M432 53.5h2M382 54.5h1M384 54.5h2M387 54.5h2M390 54.5h2M393 54.5h2M435 54.5h2M438 54.5h2M441 54.5h2M444 54.5h2M447 54.5h2M372 55.5h2M375 55.5h2M378 55.5h2M381 55.5h1M450 55.5h2M453 55.5h2M456 55.5h2M364 56.5h1M366 56.5h2M369 56.5h2M459 56.5h2M462 56.5h2M465 56.5h2M357 57.5h2M360 57.5h2M363 57.5h1M468 57.5h2M471 57.5h2M351 58.5h2M354 58.5h2M474 58.5h2M477 58.5h2M346 59.5h1M348 59.5h2M480 59.5h2M483 59.5h2M340 60.5h1M342 60.5h2M345 60.5h1M486 60.5h2M489 60.5h2M336 61.5h2M339 61.5h1M492 61.5h2M495 61.5h1M331 62.5h1M333 62.5h2M496 62.5h1M498 62.5h2M327 63.5h2M330 63.5h1M501 63.5h2M324 64.5h2M504 64.5h2M507 64.5h1M319 65.5h1M321 65.5h2M508 65.5h1M510 65.5h2M315 66.5h2M318 66.5h1M513 66.5h2M312 67.5h2M516 67.5h2M519 67.5h1M309 68.5h2M520 68.5h1M522 68.5h1M306 69.5h2M523 69.5h1M525 69.5h1M303 70.5h2M526 70.5h1M528 70.5h2M298 71.5h1M300 71.5h2M531 71.5h2M295 72.5h1M297 72.5h1M534 72.5h2M292 73.5h1M294 73.5h1M537 73.5h2M291 74.5h1M540 74.5h2M288 75.5h2M543 75.5h2M285 76.5h2M546 76.5h1M282 77.5h2M547 77.5h1M549 77.5h1M279 78.5h2M550 78.5h1M276 79.5h2M552 79.5h2M274 80.5h1M555 80.5h2M271 81.5h1M273 81.5h1M558 81.5h2M270 82.5h1M561 82.5h1M267 83.5h2M562 83.5h1M564 83.5h1M264 84.5h2M565 84.5h1M262 85.5h1M567 85.5h2M261 86.5h1M570 86.5h2M258 87.5h2M573 87.5h1M255 88.5h2M574 88.5h1M253 89.5h1M576 89.5h2M252 90.5h1M579 90.5h1M249 91.5h2M580 91.5h1M582 91.5h1M247 92.5h1M583 92.5h1M246 93.5h1M585 93.5h2M243 94.5h2M241 95.5h1M588 95.5h2M240 96.5h1M591 96.5h1M237 97.5h2M592 97.5h1M235 98.5h1M594 98.5h2M234 99.5h1M597 99.5h1M231 100.5h2M598 100.5h1M600 101.5h2M228 102.5h2M226 103.5h1M603 103.5h2M225 104.5h1M606 104.5h1M223 105.5h1M607 105.5h1M222 106.5h1M609 106.5h1M219 107.5h2M610 107.5h1M612 108.5h1M216 109.5h2M613 109.5h1M214 110.5h1M615 110.5h2M213 111.5h1M211 112.5h1M618 112.5h2M210 113.5h1M208 114.5h1M621 114.5h2M207 115.5h1M624 115.5h1M205 116.5h1M625 116.5h1M204 117.5h1M627 117.5h1M202 118.5h1M628 118.5h1M201 119.5h1M199 120.5h1M630 120.5h2M198 121.5h1M196 122.5h1M633 122.5h2M195 123.5h1M636 124.5h2M192 125.5h2M639 126.5h1M189 127.5h2M640 127.5h1M642 128.5h1M187 129.5h1M643 129.5h1M186 130.5h1M645 130.5h1M184 131.5h1M646 131.5h1M183 132.5h1M648 133.5h2M180 134.5h2M651 135.5h1M178 136.5h1M652 136.5h1M177 137.5h1M654 137.5h1M175 138.5h1M655 138.5h1M174 139.5h1M657 140.5h1M172 141.5h1M658 141.5h1M171 142.5h1M660 142.5h1M169 143.5h1M661 143.5h1M168 144.5h1M663 145.5h1M166 146.5h1M664 146.5h1M165 147.5h1M666 147.5h1M667 148.5h1M162 149.5h2M669 150.5h1M160 151.5h1M670 151.5h1M159 152.5h1M672 153.5h1M157 154.5h1M673 154.5h1M156 155.5h1M675 156.5h2M154 157.5h1M153 158.5h1M678 158.5h1M679 159.5h1M151 160.5h1M150 161.5h1M681 161.5h1M682 162.5h1M148 163.5h1M147 164.5h1M684 164.5h1M685 165.5h1M145 166.5h1M144 167.5h1M687 167.5h1M688 168.5h1M142 169.5h1M141 170.5h1M690 170.5h1M691 171.5h1M139 172.5h1M139 173.5h1M693 173.5h1M694 174.5h1M137 175.5h1M136 176.5h1M696 176.5h1M697 177.5h1M134 178.5h1M133 179.5h1M699 179.5h1M700 180.5h1M131 181.5h1M130 182.5h1M701 182.5h1M702 183.5h1M128 184.5h1M128 185.5h1M704 185.5h1M705 186.5h1M126 187.5h1M125 188.5h1M707 188.5h1M707 189.5h1M123 190.5h1M123 191.5h1M709 191.5h1M710 192.5h1M121 193.5h1M120 194.5h1M712 194.5h1M712 195.5h1M119 196.5h1M118 197.5h1M714 197.5h1M715 198.5h1M116 199.5h1M115 200.5h1M716 200.5h1M717 201.5h1M114 202.5h1M113 203.5h1M719 203.5h1M719 204.5h1M112 205.5h1M111 206.5h1M721 206.5h1M722 207.5h1M109 208.5h1M109 209.5h1M723 209.5h1M724 210.5h1M107 211.5h1M106 212.5h1M725 212.5h1M726 213.5h1M105 214.5h1M104 215.5h1M727 215.5h1M728 216.5h1M103 217.5h1M102 218.5h1M729 218.5h1M730 219.5h1M101 220.5h1M100 221.5h1M731 221.5h1M732 222.5h1M99 223.5h1M98 224.5h1M733 224.5h1M734 225.5h1M97 226.5h1M96 227.5h1M735 227.5h1M736 228.5h1M95 229.5h1M94 230.5h1M737 230.5h1M738 231.5h1M93 232.5h1M92 233.5h1M739 233.5h1M740 234.5h1M91 235.5h1M90 236.5h1M741 236.5h1M742 237.5h1M89 238.5h1M89 239.5h1M743 239.5h1M743 240.5h1M88 241.5h1M87 242.5h1M745 242.5h1M745 243.5h1M86 244.5h1M85 245.5h1M746 245.5h1M747 246.5h1M84 247.5h1M84 248.5h1M748 248.5h1M748 249.5h1M82 250.5h1M82 251.5h1M750 251.5h1M750 252.5h1M81 253.5h1M80 254.5h1M751 254.5h1M752 255.5h1M79 256.5h1M79 257.5h1M753 257.5h1M753 258.5h1M78 259.5h1M77 260.5h1M754 260.5h1M755 261.5h1M76 262.5h1M76 263.5h1M756 263.5h1M756 264.5h1M75 265.5h1M74 266.5h1M757 266.5h1M758 267.5h1M73 268.5h1M73 269.5h1M759 269.5h1M759 270.5h1M72 271.5h1M71 272.5h1M760 272.5h1M761 273.5h1M70 274.5h1M70 275.5h1M762 275.5h1M762 276.5h1M69 277.5h1M68 278.5h1M763 278.5h1M763 279.5h1M68 280.5h1M67 281.5h1M764 281.5h1M765 282.5h1M66 283.5h1M66 284.5h1M766 284.5h1M766 285.5h1M65 286.5h1M64 287.5h1M767 287.5h1M767 288.5h1M64 289.5h1M63 290.5h1M768 290.5h1M768 291.5h1M62 292.5h1M62 293.5h1M769 293.5h1M770 294.5h1M61 295.5h1M61 296.5h1M770 296.5h1M771 297.5h1M60 298.5h1M60 299.5h1M772 299.5h1M772 300.5h1M59 301.5h1M59 302.5h1M773 302.5h1M773 303.5h1M58 304.5h1M58 305.5h1M774 305.5h1M774 306.5h1M57 307.5h1M56 308.5h1M775 308.5h1M775 309.5h1M56 310.5h1M55 311.5h1M776 311.5h1M776 312.5h1M55 313.5h1M54 314.5h1M777 314.5h1M777 315.5h1M54 316.5h1M53 317.5h1M778 317.5h1M778 318.5h1M53 319.5h1M52 320.5h1M779 320.5h1M779 321.5h1M52 322.5h1M52 323.5h1M780 323.5h1M780 324.5h1M51 325.5h1M51 326.5h1M781 326.5h1M781 327.5h1M50 328.5h1M50 329.5h1M781 329.5h1M782 330.5h1M49 331.5h1M49 332.5h1M782 332.5h1M783 333.5h1M48 334.5h1M48 335.5h1M783 335.5h1M783 336.5h1M48 337.5h1M47 338.5h1M784 338.5h1M784 339.5h1M47 340.5h1M46 341.5h1M785 341.5h1M785 342.5h1M46 343.5h1M46 344.5h1M785 344.5h1M786 345.5h1M45 346.5h1M45 347.5h1M786 347.5h1M786 348.5h1M45 349.5h1M44 350.5h1M787 350.5h1M787 351.5h1M44 352.5h1M44 353.5h1M787 353.5h1M788 354.5h1M43 355.5h1M43 356.5h1M788 356.5h1M788 357.5h1M43 358.5h1M42 359.5h1M789 359.5h1M789 360.5h1M42 361.5h1M42 362.5h1M789 362.5h1M789 363.5h1M41 364.5h1M41 365.5h1M790 365.5h1M790 366.5h1M41 367.5h1M41 368.5h1M790 368.5h1M791 369.5h1M40 370.5h1M40 371.5h1M791 371.5h1M791 372.5h1M40 373.5h1M40 374.5h1M791 374.5h1M792 375.5h1M39 376.5h1M39 377.5h1M792 377.5h1M792 378.5h1M39 379.5h1M39 380.5h1M792 380.5h1M792 381.5h1M39 382.5h1M38 383.5h1M793 383.5h1M793 384.5h1M38 385.5h1M38 386.5h1M793 386.5h1M793 387.5h1M38 388.5h1M38 389.5h1M793 389.5h1M794 390.5h1M37 391.5h1M37 392.5h1M794 392.5h1M794 393.5h1M37 394.5h1M37 395.5h1M794 395.5h1M794 396.5h1M37 397.5h1M37 398.5h1M794 398.5h1M794 399.5h1M37 400.5h1M36 401.5h1M795 401.5h1M795 402.5h1M36 403.5h1M36 404.5h1M795 404.5h1M795 405.5h1M36 406.5h1M36 407.5h1M795 407.5h1M795 408.5h1M36 409.5h1M36 410.5h1M795 410.5h1M795 411.5h1M36 412.5h1M36 413.5h1M795 413.5h1M796 414.5h1M35 415.5h1M35 416.5h1M796 416.5h1M796 417.5h1M35 418.5h1M35 419.5h1M796 419.5h1M796 420.5h1M35 421.5h1M35 422.5h1M796 422.5h1M796 423.5h1M35 424.5h1M35 425.5h1M796 425.5h1M796 426.5h1M35 427.5h1M35 428.5h1M796 428.5h1M796 429.5h1M35 430.5h1M35 431.5h1M796 431.5h1M796 432.5h1M35 433.5h1M35 434.5h1M796 434.5h1M35 435.5h1M796 437.5h1M35 438.5h1M796 440.5h1M35 441.5h1M796 443.5h1M35 444.5h1M796 446.5h1M35 447.5h1M796 449.5h1M35 450.5h1M796 452.5h1M35 453.5h1M795 455.5h1M36 456.5h1M795 458.5h1M36 459.5h1M795 461.5h1M36 462.5h1M795 464.5h1M36 465.5h1M794 467.5h1M37 468.5h1M794 470.5h1M37 471.5h1M794 473.5h1M37 474.5h1M794 476.5h1M37 477.5h1M793 479.5h1M38 480.5h1M793 482.5h1M38 483.5h1M792 485.5h1M39 486.5h1M792 488.5h1M39 489.5h1M792 491.5h1M39 492.5h1M791 494.5h1M40 495.5h1M791 497.5h1M40 498.5h1M790 500.5h1M41 501.5h1M790 503.5h1M42 504.5h1M789 506.5h1M42 507.5h1M788 509.5h1M43 510.5h1M788 512.5h1M43 513.5h1M787 515.5h1M44 516.5h1M786 518.5h1M45 519.5h1M786 521.5h1M45 522.5h1M785 524.5h1M46 525.5h1M784 527.5h1M47 528.5h1M783 530.5h1M48 531.5h1M783 533.5h1M48 534.5h1M782 536.5h1M49 537.5h1M781 539.5h1M50 540.5h1M780 542.5h1M51 543.5h1M779 545.5h1M52 546.5h1M778 548.5h1M53 549.5h1M777 551.5h1M54 552.5h1M776 554.5h1M55 555.5h1M775 557.5h1M56 558.5h1M774 560.5h1M57 561.5h1M773 563.5h1M58 564.5h1M772 566.5h1M59 567.5h1M771 569.5h1M60 570.5h1M770 572.5h1M61 573.5h1M769 575.5h1M63 576.5h1M767 578.5h1M64 579.5h1M766 581.5h1M65 582.5h1M765 584.5h1M66 585.5h1M763 587.5h1M68 588.5h1M762 590.5h1M69 591.5h1M761 593.5h1M70 594.5h1M759 596.5h1M72 597.5h1M758 599.5h1M73 600.5h1M756 602.5h1M75 603.5h1M755 605.5h1M76 606.5h1M753 608.5h1M78 609.5h1M752 611.5h1M79 612.5h1M750 614.5h1M81 615.5h1M749 617.5h1M83 618.5h1M747 620.5h1M84 621.5h1M745 623.5h1M86 624.5h1M743 626.5h1M88 627.5h1M742 629.5h1M89 630.5h1M740 632.5h1M91 633.5h1M738 635.5h1M93 636.5h1M736 638.5h1M95 639.5h1M734 641.5h1M97 642.5h1M732 644.5h1M99 645.5h1M730 647.5h1M101 648.5h1M728 650.5h1M103 651.5h1M726 653.5h1M105 654.5h1M724 656.5h1M107 657.5h1M722 659.5h1M109 660.5h1M719 662.5h1M112 663.5h1M717 665.5h1M114 666.5h1M715 668.5h1M116 669.5h1M712 671.5h1M119 672.5h1M710 674.5h1M121 675.5h1M708 677.5h1M124 678.5h1M705 680.5h1M126 681.5h1M703 683.5h1M129 684.5h1M700 686.5h1M131 687.5h1M697 689.5h1M134 690.5h1M694 692.5h1M137 693.5h1M692 695.5h1M140 696.5h1M689 698.5h1M143 699.5h1M686 701.5h1M146 702.5h1M683 704.5h1M149 705.5h1M680 707.5h1M152 708.5h1M677 710.5h1M155 711.5h1M158 713.5h1M674 713.5h1M161 716.5h1M671 716.5h1M668 718.5h1M164 719.5h1M167 721.5h1M665 721.5h1M170 724.5h1M662 724.5h1M173 726.5h1M659 726.5h1M176 729.5h1M656 729.5h1M179 731.5h1M653 731.5h1M650 733.5h1M182 734.5h1M185 736.5h1M647 736.5h1M188 738.5h1M644 738.5h1M191 740.5h1M641 740.5h1M638 742.5h1M194 743.5h1M197 745.5h1M635 745.5h1M200 747.5h1M632 747.5h1M203 749.5h1M629 749.5h1M206 751.5h1M626 751.5h1M209 753.5h1M623 753.5h1M212 755.5h1M620 755.5h1M215 757.5h1M617 757.5h1M218 758.5h1M614 758.5h1M221 760.5h1M611 760.5h1M224 762.5h1M608 762.5h1M227 764.5h1M605 764.5h1M602 765.5h1M230 766.5h1M233 767.5h1M599 767.5h1M236 769.5h1M596 769.5h1M239 770.5h1M593 770.5h1M242 772.5h1M590 772.5h1M587 773.5h1M245 774.5h1M248 775.5h1M584 775.5h1M251 776.5h1M581 776.5h1M254 778.5h1M578 778.5h1M257 779.5h1M575 779.5h1M572 780.5h1M260 781.5h1M263 782.5h1M569 782.5h1M266 783.5h1M566 783.5h1M269 784.5h1M563 784.5h1M272 786.5h1M560 786.5h1M275 787.5h1M557 787.5h1M278 788.5h1M554 788.5h1M281 789.5h1M551 789.5h1M284 790.5h1M548 790.5h1M545 791.5h1M287 792.5h1M542 792.5h1M290 793.5h1M293 794.5h1M539 794.5h1M296 795.5h1M536 795.5h1M299 796.5h1M530 796.5h1M533 796.5h1M302 797.5h1M305 797.5h1M527 797.5h1M308 798.5h1M524 798.5h1M311 799.5h1M521 799.5h1M314 800.5h1M518 800.5h1M317 801.5h1M515 801.5h1M320 802.5h1M323 802.5h1M509 802.5h1M512 802.5h1M326 803.5h1M506 803.5h1M329 804.5h1M503 804.5h1M332 805.5h1M335 805.5h1M497 805.5h1M500 805.5h1M338 806.5h1M494 806.5h1M341 807.5h1M344 807.5h1M488 807.5h1M491 807.5h1M347 808.5h1M350 808.5h1M482 808.5h1M485 808.5h1M353 809.5h1M356 809.5h1M476 809.5h1M479 809.5h1M359 810.5h1M362 810.5h1M470 810.5h1M473 810.5h1M365 811.5h1M368 811.5h1M371 811.5h1M461 811.5h1M464 811.5h1M467 811.5h1M374 812.5h1M377 812.5h1M380 812.5h1M452 812.5h1M455 812.5h1M458 812.5h1M383 813.5h1M386 813.5h1M389 813.5h1M392 813.5h1M395 813.5h1M437 813.5h1M440 813.5h1M443 813.5h1M446 813.5h1M449 813.5h1M398 814.5h1M401 814.5h1M404 814.5h1M407 814.5h1M410 814.5h1M413 814.5h1M416 814.5h1M419 814.5h1M422 814.5h1M425 814.5h1M428 814.5h1M431 814.5h1M434 814.5h1" stroke="#000090" style="shape-rendering:auto"/>
<path d="M401 120.5h2M404 120.5h2M407 120.5h2M410 120.5h2M413 120.5h2M416 120.5h2M419 120.5h2M422 120.5h2M425 120.5h2M428 120.5h2M431 120.5h2M434 120.5h2M437 120.5h2M440 120.5h2M443 120.5h2M446 120.5h2M392 121.5h2M395 121.5h2M398 121.5h2M449 121.5h2M452 121.5h2M455 121.5h2M458 121.5h1M383 122.5h2M386 122.5h2M389 122.5h2M459 122.5h1M461 122.5h2M464 122.5h2M377 123.5h2M380 123.5h2M467 123.5h2M470 123.5h2M371 124.5h2M374 124.5h2M473 124.5h2M476 124.5h2M365 125.5h2M368 125.5h2M479 125.5h2M482 125.5h2M360 126.5h1M362 126.5h2M485 126.5h2M488 126.5h1M356 127.5h2M359 127.5h1M489 127.5h1M491 127.5h2M353 128.5h2M494 128.5h2M497 128.5h1M348 129.5h1M350 129.5h2M498 129.5h1M500 129.5h2M344 130.5h2M347 130.5h1M503 130.5h2M341 131.5h2M506 131.5h2M338 132.5h2M509 132.5h2M512 132.5h1M335 133.5h2M513 133.5h1M515 133.5h1M332 134.5h2M516 134.5h1M518 134.5h1M329 135.5h2M519 135.5h1M521 135.5h1M326 136.5h2M522 136.5h1M524 136.5h1M323 137.5h2M525 137.5h1M527 137.5h1M320 138.5h2M528 138.5h1M317 139.5h2M530 139.5h2M314 140.5h2M533 140.5h2M311 141.5h2M536 141.5h2M309 142.5h1M539 142.5h2M306 143.5h1M308 143.5h1M542 143.5h1M305 144.5h1M543 144.5h1M545 144.5h1M302 145.5h2M546 145.5h1M299 146.5h2M548 146.5h2M297 147.5h1M551 147.5h1M296 148.5h1M552 148.5h1M293 149.5h2M554 149.5h2M291 150.5h1M557 150.5h2M290 151.5h1M560 151.5h1M287 152.5h2M561 152.5h1M285 153.5h1M563 153.5h2M284 154.5h1M566 154.5h1M281 155.5h2M567 155.5h1M279 156.5h1M569 156.5h1M278 157.5h1M570 157.5h1M276 158.5h1M572 158.5h2M275 159.5h1M575 159.5h1M272 160.5h2M576 160.5h1M578 161.5h1M269 162.5h2M579 162.5h1M267 163.5h1M581 163.5h1M266 164.5h1M582 164.5h1M264 165.5h1M584 165.5h2M263 166.5h1M261 167.5h1M587 167.5h2M260 168.5h1M258 169.5h1M590 169.5h2M257 170.5h1M255 171.5h1M593 171.5h2M254 172.5h1M596 172.5h1M252 173.5h1M597 173.5h1M251 174.5h1M249 175.5h1M599 175.5h2M248 176.5h1M246 177.5h1M602 177.5h2M245 178.5h1M243 179.5h1M605 179.5h1M242 180.5h1M606 180.5h1M608 181.5h1M239 182.5h2M609 182.5h1M611 183.5h1M237 184.5h1M612 184.5h1M236 185.5h1M234 186.5h1M614 186.5h1M233 187.5h1M615 187.5h1M617 188.5h1M230 189.5h2M618 189.5h1M228 191.5h1M620 191.5h1M227 192.5h1M621 192.5h1M623 193.5h1M225 194.5h1M624 194.5h1M224 195.5h1M222 196.5h1M626 196.5h1M221 197.5h1M627 197.5h1M629 198.5h1M219 199.5h1M630 199.5h1M218 200.5h1M632 201.5h1M216 202.5h1M633 202.5h1M215 203.5h1M635 204.5h1M213 205.5h1M636 205.5h1M212 206.5h1M638 207.5h1M210 208.5h1M639 208.5h1M209 209.5h1M641 210.5h1M207 211.5h1M642 211.5h1M206 212.5h1M644 213.5h1M204 214.5h1M645 214.5h1M203 215.5h1M647 216.5h1M202 217.5h1M648 217.5h1M201 218.5h1M650 219.5h1M199 220.5h1M651 220.5h1M198 221.5h1M653 222.5h1M196 223.5h1M654 223.5h1M195 224.5h1M656 225.5h1M194 226.5h1M656 226.5h1M193 227.5h1M658 228.5h1M191 229.5h1M659 229.5h1M190 230.5h1M661 231.5h1M189 232.5h1M661 232.5h1M188 233.5h1M663 234.5h1M186 235.5h1M664 235.5h1M185 236.5h1M666 237.5h1M184 238.5h1M666 238.5h1M183 239.5h1M668 240.5h1M181 241.5h1M669 241.5h1M181 242.5h1M670 243.5h1M179 244.5h1M671 244.5h1M178 245.5h1M672 246.5h1M177 247.5h1M673 247.5h1M176 248.5h1M674 249.5h1M175 250.5h1M675 250.5h1M174 251.5h1M676 252.5h1M173 253.5h1M677 253.5h1M172 254.5h1M679 255.5h1M171 256.5h1M679 256.5h1M170 257.5h1M680 258.5h1M169 259.5h1M681 259.5h1M168 260.5h1M682 261.5h1M167 262.5h1M683 262.5h1M166 263.5h1M684 264.5h1M165 265.5h1M685 265.5h1M164 266.5h1M686 267.5h1M163 268.5h1M687 268.5h1M163 269.5h1M688 270.5h1M161 271.5h1M688 271.5h1M161 272.5h1M690 273.5h1M160 274.5h1M690 274.5h1M159 275.5h1M691 276.5h1M158 277.5h1M692 277.5h1M157 278.5h1M693 279.5h1M156 280.5h1M693 280.5h1M156 281.5h1M694 282.5h1M155 283.5h1M695 283.5h1M154 284.5h1M696 285.5h1M153 286.5h1M697 286.5h1M153 287.5h1M698 288.5h1M152 289.5h1M698 289.5h1M151 290.5h1M699 291.5h1M150 292.5h1M700 292.5h1M150 293.5h1M701 294.5h1M149 295.5h1M701 295.5h1M148 296.5h1M702 297.5h1M147 298.5h1M702 298.5h1M147 299.5h1M703 300.5h1M146 301.5h1M704 301.5h1M146 302.5h1M705 303.5h1M145 304.5h1M705 304.5h1M144 305.5h1M706 306.5h1M143 307.5h1M706 307.5h1M143 308.5h1M707 309.5h1M142 310.5h1M708 310.5h1M142 311.5h1M708 312.5h1M141 313.5h1M709 313.5h1M141 314.5h1M709 315.5h1M140 316.5h1M710 316.5h1M139 317.5h1M711 318.5h1M139 319.5h1M711 319.5h1M138 320.5h1M712 321.5h1M138 322.5h1M712 322.5h1M137 323.5h1M713 324.5h1M137 325.5h1M713 325.5h1M136 326.5h1M714 327.5h1M136 328.5h1M714 328.5h1M135 329.5h1M715 330.5h1M135 331.5h1M715 331.5h1M134 332.5h1M716 333.5h1M134 334.5h1M716 334.5h1M133 335.5h1M717 336.5h1M133 337.5h1M717 337.5h1M132 338.5h1M718 339.5h1M132 340.5h1M718 340.5h1M131 341.5h1M718 342.5h1M131 343.5h1M719 343.5h1M131 344.5h1M719 345.5h1M130 346.5h1M720 346.5h1M130 347.5h1M720 348.5h1M129 349.5h1M720 349.5h1M129 350.5h1M721 351.5h1M129 352.5h1M721 352.5h1M128 353.5h1M722 354.5h1M128 355.5h1M722 355.5h1M128 356.5h1M722 357.5h1M127 358.5h1M722 358.5h1M127 359.5h1M723 360.5h1M126 361.5h1M723 361.5h1M126 362.5h1M723 363.5h1M126 364.5h1M724 364.5h1M126 365.5h1M724 366.5h1M125 367.5h1M724 367.5h1M125 368.5h1M725 369.5h1M125 370.5h1M725 370.5h1M125 371.5h1M725 372.5h1M124 373.5h1M725 373.5h1M124 374.5h1M726 375.5h1M124 376.5h1M726 376.5h1M124 377.5h1M726 378.5h1M123 379.5h1M726 379.5h1M123 380.5h1M727 381.5h1M123 382.5h1M727 382.5h1M123 383.5h1M727 384.5h1M122 385.5h1M727 385.5h1M122 386.5h1M727 387.5h1M122 388.5h1M728 388.5h1M122 389.5h1M728 390.5h1M122 391.5h1M728 391.5h1M121 392.5h1M728 393.5h1M121 394.5h1M728 394.5h1M121 395.5h1M728 396.5h1M121 397.5h1M728 397.5h1M121 398.5h1M729 399.5h1M121 400.5h1M729 400.5h1M121 401.5h1M729 402.5h1M120 403.5h1M729 403.5h1M120 404.5h1M729 405.5h1M120 406.5h1M729 406.5h1M120 407.5h1M729 408.5h1M120 409.5h1M729 409.5h1M120 410.5h1M729 411.5h1M120 412.5h1M729 412.5h1M120 413.5h1M730 414.5h1M120 415.5h1M730 415.5h1M120 416.5h1M730 417.5h1M120 418.5h1M730 418.5h1M120 419.5h1M730 420.5h1M120 421.5h1M730 421.5h1M120 422.5h1M730 423.5h1M120 424.5h1M730 424.5h1M120 425.5h1M730 425.5h1M120 428.5h1M730 428.5h1M120 431.5h1M730 431.5h1M120 434.5h1M730 434.5h1M120 437.5h1M729 437.5h1M120 440.5h1M729 440.5h1M120 443.5h1M729 443.5h1M120 446.5h1M729 446.5h1M121 449.5h1M729 449.5h1M121 452.5h1M728 452.5h1M121 455.5h1M728 455.5h1M121 458.5h1M728 458.5h1M122 461.5h1M727 461.5h1M122 464.5h1M727 464.5h1M123 467.5h1M727 467.5h1M123 470.5h1M726 470.5h1M124 473.5h1M726 473.5h1M124 476.5h1M725 476.5h1M125 479.5h1M725 479.5h1M125 482.5h1M724 482.5h1M126 485.5h1M724 485.5h1M126 488.5h1M723 488.5h1M127 491.5h1M722 491.5h1M128 494.5h1M722 494.5h1M128 497.5h1M721 497.5h1M129 500.5h1M720 500.5h1M130 503.5h1M719 503.5h1M131 506.5h1M719 506.5h1M131 509.5h1M718 509.5h1M132 512.5h1M717 512.5h1M133 515.5h1M716 515.5h1M134 518.5h1M715 518.5h1M135 521.5h1M714 521.5h1M136 524.5h1M713 524.5h1M137 527.5h1M712 527.5h1M138 530.5h1M711 530.5h1M140 533.5h1M710 533.5h1M141 536.5h1M708 536.5h1M142 539.5h1M707 539.5h1M143 542.5h1M706 542.5h1M144 545.5h1M705 545.5h1M146 548.5h1M703 548.5h1M147 551.5h1M702 551.5h1M148 554.5h1M701 554.5h1M150 557.5h1M699 557.5h1M151 560.5h1M698 560.5h1M153 563.5h1M696 563.5h1M154 566.5h1M695 566.5h1M156 569.5h1M693 569.5h1M157 572.5h1M692 572.5h1M159 575.5h1M690 575.5h1M161 578.5h1M688 578.5h1M163 581.5h1M686 581.5h1M164 584.5h1M684 584.5h1M166 587.5h1M683 587.5h1M168 590.5h1M681 590.5h1M170 593.5h1M679 593.5h1M172 596.5h1M677 596.5h1M174 599.5h1M675 599.5h1M176 602.5h1M673 602.5h1M178 605.5h1M670 605.5h1M181 608.5h1M668 608.5h1M183 611.5h1M666 611.5h1M185 614.5h1M663 614.5h1M188 617.5h1M661 617.5h1M190 620.5h1M659 620.5h1M193 623.5h1M656 623.5h1M195 626.5h1M653 626.5h1M198 629.5h1M651 629.5h1M201 632.5h1M648 632.5h1M204 635.5h1M645 635.5h1M207 638.5h1M642 638.5h1M210 641.5h1M639 641.5h1M213 644.5h1M636 644.5h1M216 647.5h1M633 647.5h1M219 649.5h1M630 650.5h1M222 652.5h1M627 653.5h1M225 655.5h1M624 656.5h1M228 657.5h1M621 658.5h1M231 660.5h1M618 661.5h1M234 662.5h1M615 663.5h1M237 665.5h1M612 666.5h1M240 667.5h1M609 668.5h1M243 669.5h1M606 670.5h1M246 671.5h1M603 672.5h1M249 674.5h1M600 674.5h1M252 676.5h1M597 677.5h1M255 678.5h1M594 679.5h1M258 680.5h1M591 680.5h1M261 682.5h1M588 682.5h1M264 684.5h1M585 684.5h1M267 685.5h1M582 686.5h1M270 687.5h1M579 688.5h1M273 689.5h1M576 690.5h1M276 691.5h1M573 691.5h1M279 692.5h1M570 693.5h1M282 694.5h1M567 695.5h1M285 696.5h1M564 696.5h1M288 697.5h1M561 698.5h1M291 699.5h1M558 699.5h1M294 700.5h1M297 701.5h1M555 701.5h1M552 702.5h1M300 703.5h1M549 703.5h1M303 704.5h1M306 705.5h1M546 705.5h1M543 706.5h1M309 707.5h1M540 707.5h1M312 708.5h1M537 708.5h1M315 709.5h1M318 710.5h1M534 710.5h1M321 711.5h1M531 711.5h1M324 712.5h1M528 712.5h1M327 713.5h1M525 713.5h1M330 714.5h1M522 714.5h1M333 715.5h1M519 715.5h1M336 716.5h1M516 716.5h1M339 717.5h1M513 717.5h1M342 718.5h1M507 718.5h1M510 718.5h1M345 719.5h1M504 719.5h1M348 720.5h1M351 720.5h1M501 720.5h1M354 721.5h1M495 721.5h1M498 721.5h1M357 722.5h1M492 722.5h1M360 723.5h1M363 723.5h1M486 723.5h1M489 723.5h1M366 724.5h1M369 724.5h1M483 724.5h1M372 725.5h1M375 725.5h1M477 725.5h1M480 725.5h1M378 726.5h1M381 726.5h1M471 726.5h1M474 726.5h1M384 727.5h1M387 727.5h1M462 727.5h1M465 727.5h1M468 727.5h1M390 728.5h1M393 728.5h1M396 728.5h1M399 728.5h1M453 728.5h1M456 728.5h1M459 728.5h1M402 729.5h1M405 729.5h1M408 729.5h1M411 729.5h1M414 729.5h1M417 729.5h1M435 729.5h1M438 729.5h1M441 729.5h1M444 729.5h1M447 729.5h1M450 729.5h1M420 730.5h1M423 730.5h1M426 730.5h1M429 730.5h1M432 730.5h1" stroke="#e00000" style="shape-rendering:auto"/>
<path d="M394 136.5h2M397 136.5h2M400 136.5h2M403 136.5h2M406 136.5h2M409 136.5h2M412 136.5h2M415 136.5h2M418 136.5h2M421 136.5h2M424 136.5h2M427 136.5h2M430 136.5h2M433 136.5h2M436 136.5h2M439 136.5h2M383 137.5h1M385 137.5h2M388 137.5h2M391 137.5h2M442 137.5h2M445 137.5h2M448 137.5h2M451 137.5h2M376 138.5h2M379 138.5h2M382 138.5h1M454 138.5h2M457 138.5h2M460 138.5h1M370 139.5h2M373 139.5h2M461 139.5h1M463 139.5h2M466 139.5h1M364 140.5h2M367 140.5h2M467 140.5h1M469 140.5h2M472 140.5h1M358 141.5h2M361 141.5h2M473 141.5h1M475 141.5h2M353 142.5h1M355 142.5h2M478 142.5h2M481 142.5h2M349 143.5h2M352 143.5h1M484 143.5h2M344 144.5h1M346 144.5h2M487 144.5h2M490 144.5h1M340 145.5h2M343 145.5h1M491 145.5h1M493 145.5h2M337 146.5h2M496 146.5h2M334 147.5h2M499 147.5h2M502 147.5h1M331 148.5h2M503 148.5h1M505 148.5h1M326 149.5h1M328 149.5h2M506 149.5h1M508 149.5h1M323 150.5h1M325 150.5h1M509 150.5h1M511 150.5h1M320 151.5h1M322 151.5h1M512 151.5h1M514 151.5h1M317 152.5h1M319 152.5h1M515 152.5h1M517 152.5h1M316 153.5h1M518 153.5h1M520 153.5h1M313 154.5h2M521 154.5h1M523 154.5h1M310 155.5h2M524 155.5h1M526 155.5h1M307 156.5h2M527 156.5h1M304 157.5h2M529 157.5h2M302 158.5h1M532 158.5h2M299 159.5h1M301 159.5h1M535 159.5h1M298 160.5h1M536 160.5h1M538 160.5h1M295 161.5h2M539 161.5h1M292 162.5h2M541 162.5h2M290 163.5h1M544 163.5h1M289 164.5h1M545 164.5h1M547 164.5h1M286 165.5h2M548 165.5h1M284 166.5h1M550 166.5h2M283 167.5h1M553 167.5h1M280 168.5h2M554 168.5h1M278 169.5h1M556 169.5h2M277 170.5h1M559 170.5h1M274 171.5h2M560 171.5h1M272 172.5h1M562 172.5h2M271 173.5h1M269 174.5h1M565 174.5h2M268 175.5h1M568 175.5h1M265 176.5h2M569 176.5h1M263 177.5h1M571 177.5h1M262 178.5h1M572 178.5h1M260 179.5h1M574 179.5h2M259 180.5h1M257 181.5h1M577 181.5h2M256 182.5h1M580 182.5h1M254 183.5h1M581 183.5h1M253 184.5h1M583 184.5h1M250 185.5h2M584 185.5h1M586 186.5h1M248 187.5h1M587 187.5h1M247 188.5h1M589 188.5h1M245 189.5h1M590 189.5h1M244 190.5h1M592 190.5h1M242 191.5h1M593 191.5h1M241 192.5h1M239 193.5h1M595 193.5h2M238 194.5h1M236 195.5h1M598 195.5h2M235 196.5h1M233 197.5h1M601 197.5h1M232 198.5h1M602 198.5h1M604 199.5h1M230 200.5h1M605 200.5h1M229 201.5h1M227 202.5h1M607 202.5h2M226 203.5h1M610 204.5h1M223 205.5h2M611 205.5h1M221 207.5h1M613 207.5h2M220 208.5h1M616 209.5h1M218 210.5h1M617 210.5h1M217 211.5h1M215 212.5h1M619 212.5h1M214 213.5h1M620 213.5h1M622 214.5h1M212 215.5h1M623 215.5h1M211 216.5h1M625 217.5h1M209 218.5h1M626 218.5h1M208 219.5h1M628 220.5h1M206 221.5h1M629 221.5h1M205 222.5h1M631 223.5h1M203 224.5h1M632 224.5h1M202 225.5h1M634 226.5h1M200 227.5h1M635 227.5h1M199 228.5h1M637 229.5h1M197 230.5h1M638 230.5h1M196 231.5h1M640 232.5h1M195 233.5h1M641 233.5h1M194 234.5h1M643 235.5h1M192 236.5h1M644 236.5h1M191 237.5h1M646 238.5h1M189 239.5h1M647 239.5h1M188 240.5h1M649 241.5h1M187 242.5h1M650 242.5h1M186 243.5h1M651 244.5h1M184 245.5h1M652 245.5h1M183 246.5h1M654 247.5h1M181 248.5h1M655 248.5h1M181 249.5h1M656 250.5h1M179 251.5h1M657 251.5h1M178 252.5h1M659 253.5h1M177 254.5h1M659 254.5h1M176 255.5h1M661 256.5h1M174 257.5h1M662 257.5h1M174 258.5h1M663 259.5h1M172 260.5h1M664 260.5h1M171 261.5h1M665 262.5h1M170 263.5h1M666 263.5h1M169 264.5h1M667 265.5h1M168 266.5h1M668 266.5h1M167 267.5h1M670 268.5h1M166 269.5h1M670 269.5h1M165 270.5h1M672 271.5h1M164 272.5h1M672 272.5h1M163 273.5h1M674 274.5h1M162 275.5h1M674 275.5h1M161 276.5h1M675 277.5h1M160 278.5h1M676 278.5h1M159 279.5h1M677 280.5h1M158 281.5h1M678 281.5h1M157 282.5h1M679 283.5h1M156 284.5h1M680 284.5h1M156 285.5h1M681 286.5h1M154 287.5h1M682 287.5h1M154 288.5h1M683 289.5h1M153 290.5h1M683 290.5h1M152 291.5h1M684 292.5h1M151 293.5h1M685 293.5h1M150 294.5h1M686 295.5h1M149 296.5h1M687 296.5h1M149 297.5h1M688 298.5h1M148 299.5h1M688 299.5h1M147 300.5h1M689 301.5h1M146 302.5h1M690 302.5h1M146 303.5h1M691 304.5h1M145 305.5h1M691 305.5h1M144 306.5h1M692 307.5h1M143 308.5h1M693 308.5h1M143 309.5h1M694 310.5h1M142 311.5h1M694 311.5h1M141 312.5h1M695 313.5h1M140 314.5h1M695 314.5h1M140 315.5h1M696 316.5h1M139 317.5h1M697 317.5h1M139 318.5h1M698 319.5h1M138 320.5h1M698 320.5h1M137 321.5h1M699 322.5h1M136 323.5h1M699 323.5h1M136 324.5h1M700 325.5h1M135 326.5h1M701 326.5h1M135 327.5h1M701 328.5h1M134 329.5h1M702 329.5h1M134 330.5h1M703 331.5h1M133 332.5h1M703 332.5h1M132 333.5h1M704 334.5h1M132 335.5h1M704 335.5h1M131 336.5h1M705 337.5h1M131 338.5h1M705 338.5h1M130 339.5h1M706 340.5h1M130 341.5h1M706 341.5h1M129 342.5h1M707 343.5h1M128 344.5h1M707 344.5h1M128 345.5h1M708 346.5h1M128 347.5h1M708 347.5h1M127 348.5h1M709 349.5h1M127 350.5h1M709 350.5h1M126 351.5h1M710 352.5h1M126 353.5h1M710 353.5h1M125 354.5h1M711 355.5h1M125 356.5h1M711 356.5h1M124 357.5h1M711 358.5h1M124 359.5h1M712 359.5h1M124 360.5h1M712 361.5h1M123 362.5h1M713 362.5h1M123 363.5h1M713 364.5h1M122 365.5h1M713 365.5h1M122 366.5h1M714 367.5h1M122 368.5h1M714 368.5h1M121 369.5h1M715 370.5h1M121 371.5h1M715 371.5h1M121 372.5h1M715 373.5h1M120 374.5h1M715 374.5h1M120 375.5h1M716 376.5h1M119 377.5h1M716 377.5h1M119 378.5h1M717 379.5h1M119 380.5h1M717 380.5h1M119 381.5h1M717 382.5h1M118 383.5h1M717 383.5h1M118 384.5h1M718 385.5h1M118 386.5h1M718 386.5h1M118 387.5h1M718 388.5h1M117 389.5h1M718 389.5h1M117 390.5h1M719 391.5h1M117 392.5h1M719 392.5h1M116 393.5h1M719 394.5h1M116 395.5h1M719 395.5h1M116 396.5h1M720 397.5h1M116 398.5h1M720 398.5h1M116 399.5h1M720 400.5h1M115 401.5h1M720 401.5h1M115 402.5h1M720 403.5h1M115 404.5h1M721 404.5h1M115 405.5h1M721 406.5h1M115 407.5h1M721 407.5h1M114 408.5h1M721 409.5h1M114 410.5h1M721 410.5h1M114 411.5h1M721 412.5h1M114 413.5h1M721 413.5h1M114 414.5h1M722 415.5h1M114 416.5h1M722 416.5h1M114 417.5h1M722 418.5h1M113 419.5h1M722 419.5h1M113 420.5h1M722 421.5h1M113 422.5h1M722 422.5h1M113 423.5h1M722 424.5h1M113 425.5h1M722 425.5h1M113 426.5h1M722 427.5h1M113 428.5h1M722 428.5h1M113 429.5h1M723 430.5h1M113 431.5h1M723 431.5h1M113 432.5h1M723 433.5h1M113 434.5h1M723 434.5h1M113 435.5h1M723 436.5h1M113 437.5h1M723 437.5h1M113 438.5h1M723 439.5h1M113 440.5h1M723 440.5h1M113 441.5h1M723 441.5h1M113 444.5h1M723 444.5h1M113 447.5h1M723 447.5h1M113 450.5h1M723 450.5h1M113 453.5h1M722 453.5h1M113 456.5h1M722 456.5h1M113 459.5h1M722 459.5h1M113 462.5h1M722 462.5h1M114 465.5h1M722 465.5h1M114 468.5h1M721 468.5h1M114 471.5h1M721 471.5h1M115 474.5h1M721 474.5h1M115 477.5h1M720 477.5h1M115 480.5h1M720 480.5h1M116 483.5h1M720 483.5h1M116 486.5h1M719 486.5h1M117 489.5h1M719 489.5h1M117 492.5h1M718 492.5h1M118 495.5h1M718 495.5h1M118 498.5h1M717 498.5h1M119 501.5h1M717 501.5h1M119 504.5h1M716 504.5h1M120 507.5h1M715 507.5h1M121 510.5h1M715 510.5h1M121 513.5h1M714 513.5h1M122 516.5h1M713 516.5h1M123 519.5h1M712 519.5h1M124 522.5h1M711 522.5h1M125 525.5h1M711 525.5h1M125 528.5h1M710 528.5h1M126 531.5h1M709 531.5h1M127 534.5h1M708 534.5h1M128 537.5h1M707 537.5h1M129 540.5h1M706 540.5h1M130 543.5h1M705 543.5h1M131 546.5h1M704 546.5h1M133 549.5h1M703 549.5h1M134 552.5h1M701 552.5h1M135 555.5h1M700 555.5h1M136 558.5h1M699 558.5h1M137 561.5h1M698 561.5h1M139 564.5h1M696 564.5h1M140 567.5h1M695 567.5h1M141 570.5h1M694 570.5h1M143 573.5h1M692 573.5h1M144 576.5h1M691 576.5h1M146 579.5h1M689 579.5h1M147 582.5h1M688 582.5h1M149 585.5h1M686 585.5h1M151 588.5h1M685 588.5h1M152 591.5h1M683 591.5h1M154 594.5h1M681 594.5h1M156 597.5h1M679 597.5h1M157 600.5h1M677 600.5h1M159 603.5h1M676 603.5h1M161 606.5h1M674 606.5h1M163 609.5h1M672 609.5h1M165 612.5h1M670 612.5h1M167 615.5h1M668 615.5h1M169 618.5h1M665 618.5h1M171 621.5h1M663 621.5h1M174 624.5h1M661 624.5h1M176 627.5h1M659 627.5h1M178 630.5h1M656 630.5h1M181 633.5h1M654 633.5h1M183 636.5h1M651 636.5h1M186 639.5h1M649 639.5h1M188 642.5h1M646 642.5h1M191 645.5h1M644 645.5h1M194 648.5h1M641 648.5h1M197 651.5h1M638 651.5h1M200 654.5h1M635 654.5h1M203 657.5h1M632 657.5h1M206 660.5h1M629 660.5h1M209 663.5h1M626 663.5h1M212 665.5h1M623 666.5h1M215 668.5h1M620 669.5h1M218 671.5h1M617 672.5h1M221 673.5h1M614 674.5h1M224 676.5h1M611 677.5h1M227 678.5h1M608 679.5h1M230 681.5h1M605 681.5h1M233 683.5h1M602 684.5h1M236 685.5h1M599 686.5h1M239 687.5h1M596 688.5h1M242 689.5h1M593 690.5h1M245 692.5h1M590 692.5h1M248 694.5h1M587 694.5h1M251 696.5h1M584 696.5h1M254 698.5h1M581 698.5h1M257 699.5h1M578 700.5h1M260 701.5h1M575 702.5h1M263 703.5h1M572 704.5h1M266 705.5h1M569 706.5h1M269 707.5h1M566 707.5h1M272 708.5h1M563 709.5h1M275 710.5h1M278 711.5h1M560 711.5h1M557 712.5h1M281 713.5h1M284 714.5h1M554 714.5h1M551 715.5h1M287 716.5h1M548 716.5h1M290 717.5h1M545 718.5h1M293 719.5h1M542 719.5h1M296 720.5h1M299 721.5h1M539 721.5h1M536 722.5h1M302 723.5h1M533 723.5h1M305 724.5h1M530 724.5h1M308 725.5h1M527 725.5h1M311 726.5h1M524 726.5h1M314 727.5h1M317 728.5h1M521 728.5h1M320 729.5h1M518 729.5h1M323 730.5h1M515 730.5h1M326 731.5h1M512 731.5h1M329 732.5h1M509 732.5h1M332 733.5h1M503 733.5h1M506 733.5h1M335 734.5h1M500 734.5h1M338 735.5h1M497 735.5h1M341 736.5h1M344 736.5h1M494 736.5h1M347 737.5h1M488 737.5h1M491 737.5h1M350 738.5h1M353 738.5h1M485 738.5h1M356 739.5h1M479 739.5h1M482 739.5h1M359 740.5h1M362 740.5h1M476 740.5h1M365 741.5h1M368 741.5h1M470 741.5h1M473 741.5h1M371 742.5h1M374 742.5h1M461 742.5h1M464 742.5h1M467 742.5h1M377 743.5h1M380 743.5h1M383 743.5h1M455 743.5h1M458 743.5h1M386 744.5h1M389 744.5h1M392 744.5h1M443 744.5h1M446 744.5h1M449 744.5h1M452 744.5h1M395 745.5h1M398 745.5h1M401 745.5h1M404 745.5h1M407 745.5h1M410 745.5h1M413 745.5h1M416 745.5h1M419 745.5h1M422 745.5h1M425 745.5h1M428 745.5h1M431 745.5h1M434 745.5h1M437 745.5h1M440 745.5h1" stroke="#2a8a8a" style="shape-rendering:auto"/>
<path d="M512 254.5h1M514 254.5h2M517 254.5h2M520 254.5h2M523 254.5h2M526 254.5h2M529 254.5h2M532 254.5h2M535 254.5h2M538 254.5h2M541 254.5h2M544 254.5h2M547 254.5h2M500 255.5h1M502 255.5h2M505 255.5h2M508 255.5h2M511 255.5h1M550 255.5h2M553 255.5h2M556 255.5h2M559 255.5h2M491 256.5h1M493 256.5h2M496 256.5h2M499 256.5h1M562 256.5h2M565 256.5h2M568 256.5h2M484 257.5h2M487 257.5h2M490 257.5h1M571 257.5h2M574 257.5h2M577 257.5h1M478 258.5h2M481 258.5h2M578 258.5h1M580 258.5h2M583 258.5h1M473 259.5h1M475 259.5h2M584 259.5h1M586 259.5h2M469 260.5h2M472 260.5h1M589 260.5h2M592 260.5h2M463 261.5h2M466 261.5h2M595 261.5h2M460 262.5h2M598 262.5h2M601 262.5h2M455 263.5h1M457 263.5h2M604 263.5h2M451 264.5h2M454 264.5h1M607 264.5h2M610 264.5h1M448 265.5h2M611 265.5h1M613 265.5h1M445 266.5h2M614 266.5h1M616 266.5h2M442 267.5h2M619 267.5h2M439 268.5h2M622 268.5h2M436 269.5h2M625 269.5h2M433 270.5h2M628 270.5h2M430 271.5h2M631 271.5h2M427 272.5h2M634 272.5h2M424 273.5h2M637 273.5h1M421 274.5h2M638 274.5h1M640 274.5h1M418 275.5h2M641 275.5h1M643 275.5h1M416 276.5h1M644 276.5h1M413 277.5h1M415 277.5h1M646 277.5h2M412 278.5h1M649 278.5h2M409 279.5h2M652 279.5h1M406 280.5h2M653 280.5h1M655 280.5h1M404 281.5h1M656 281.5h1M403 282.5h1M658 282.5h2M400 283.5h2M661 283.5h1M398 284.5h1M662 284.5h1M397 285.5h1M664 285.5h2M394 286.5h2M667 286.5h1M392 287.5h1M668 287.5h1M391 288.5h1M670 288.5h2M388 289.5h2M673 289.5h1M386 290.5h1M674 290.5h1M385 291.5h1M676 291.5h2M382 292.5h2M679 293.5h2M379 294.5h2M682 294.5h1M377 295.5h1M683 295.5h1M376 296.5h1M685 296.5h1M374 297.5h1M686 297.5h1M373 298.5h1M688 298.5h2M371 299.5h1M370 300.5h1M691 300.5h2M367 301.5h2M694 302.5h2M364 303.5h2M697 303.5h1M698 304.5h1M361 305.5h2M700 305.5h1M701 306.5h1M358 307.5h2M703 307.5h1M704 308.5h1M355 309.5h2M706 309.5h1M707 310.5h1M353 311.5h1M352 312.5h1M709 312.5h2M350 313.5h1M349 314.5h1M712 314.5h1M347 315.5h1M713 315.5h1M346 316.5h1M715 316.5h1M344 317.5h1M716 317.5h1M343 318.5h1M718 318.5h1M719 319.5h1M341 320.5h1M340 321.5h1M721 321.5h1M338 322.5h1M722 322.5h1M337 323.5h1M724 323.5h1M725 324.5h1M334 325.5h2M727 326.5h1M332 327.5h1M728 327.5h1M331 328.5h1M730 328.5h1M731 329.5h1M329 330.5h1M328 331.5h1M733 331.5h1M734 332.5h1M326 333.5h1M325 334.5h1M736 334.5h1M737 335.5h1M323 336.5h1M739 336.5h1M322 337.5h1M740 337.5h1M320 339.5h1M742 339.5h1M319 340.5h1M743 340.5h1M317 342.5h1M745 342.5h1M316 343.5h1M746 343.5h1M314 345.5h1M748 345.5h1M313 346.5h1M749 346.5h1M311 348.5h1M751 348.5h1M310 349.5h1M752 349.5h1M308 351.5h1M754 351.5h1M307 352.5h1M755 352.5h1M305 354.5h1M757 354.5h1M304 355.5h1M758 355.5h1M303 357.5h1M760 357.5h1M302 358.5h1M761 358.5h1M300 360.5h1M762 360.5h1M299 361.5h1M763 361.5h1M297 363.5h1M765 363.5h1M297 364.5h1M766 364.5h1M295 366.5h1M767 366.5h1M294 367.5h1M768 367.5h1M292 369.5h1M770 369.5h1M292 370.5h1M771 370.5h1M290 372.5h1M772 372.5h1M289 373.5h1M773 373.5h1M288 375.5h1M774 375.5h1M287 376.5h1M775 376.5h1M285 378.5h1M777 378.5h1M285 379.5h1M777 379.5h1M283 381.5h1M779 381.5h1M283 382.5h1M780 382.5h1M281 384.5h1M781 384.5h1M281 385.5h1M782 385.5h1M279 387.5h1M783 387.5h1M278 388.5h1M784 388.5h1M277 390.5h1M785 390.5h1M276 391.5h1M786 391.5h1M275 393.5h1M787 393.5h1M275 394.5h1M788 394.5h1M273 396.5h1M789 396.5h1M273 397.5h1M789 397.5h1M271 399.5h1M791 399.5h1M271 400.5h1M791 400.5h1M269 402.5h1M793 402.5h1M269 403.5h1M793 403.5h1M268 405.5h1M794 405.5h1M267 406.5h1M795 406.5h1M266 408.5h1M796 408.5h1M265 409.5h1M797 409.5h1M264 411.5h1M798 411.5h1M264 412.5h1M798 412.5h1M263 414.5h1M799 414.5h1M262 415.5h1M800 415.5h1M261 417.5h1M801 417.5h1M261 418.5h1M802 418.5h1M259 420.5h1M803 420.5h1M259 421.5h1M803 421.5h1M258 423.5h1M804 423.5h1M257 424.5h1M805 424.5h1M257 426.5h1M806 426.5h1M256 427.5h1M806 427.5h1M255 429.5h1M807 429.5h1M255 430.5h1M807 430.5h1M254 432.5h1M808 432.5h1M253 433.5h1M809 433.5h1M252 435.5h1M810 435.5h1M252 436.5h1M810 436.5h1M251 438.5h1M811 438.5h1M250 439.5h1M811 439.5h1M250 441.5h1M812 441.5h1M249 442.5h1M813 442.5h1M248 444.5h1M814 444.5h1M248 445.5h1M814 445.5h1M247 447.5h1M815 447.5h1M247 448.5h1M815 448.5h1M246 450.5h1M816 450.5h1M246 451.5h1M816 451.5h1M245 453.5h1M817 453.5h1M245 454.5h1M817 454.5h1M244 456.5h1M818 456.5h1M243 457.5h1M818 457.5h1M243 459.5h1M819 459.5h1M242 460.5h1M819 460.5h1M242 462.5h1M820 462.5h1M241 463.5h1M820 463.5h1M241 465.5h1M821 465.5h1M240 466.5h1M821 466.5h1M240 468.5h1M822 468.5h1M240 469.5h1M822 469.5h1M239 471.5h1M823 471.5h1M239 472.5h1M823 472.5h1M238 474.5h1M824 474.5h1M238 475.5h1M824 475.5h1M237 477.5h1M825 477.5h1M237 478.5h1M825 478.5h1M236 480.5h1M825 480.5h1M236 481.5h1M826 481.5h1M235 483.5h1M826 483.5h1M235 484.5h1M827 484.5h1M235 486.5h1M827 486.5h1M234 487.5h1M827 487.5h1M234 489.5h1M828 489.5h1M234 490.5h1M828 490.5h1M233 492.5h1M828 492.5h1M233 493.5h1M829 493.5h1M233 495.5h1M829 495.5h1M232 496.5h1M829 496.5h1M232 498.5h1M830 498.5h1M232 499.5h1M830 499.5h1M231 501.5h1M830 501.5h1M231 502.5h1M831 502.5h1M231 504.5h1M831 504.5h1M231 505.5h1M831 505.5h1M230 507.5h1M831 507.5h1M230 508.5h1M832 508.5h1M230 510.5h1M832 510.5h1M230 511.5h1M832 511.5h1M229 513.5h1M832 513.5h1M229 514.5h1M833 514.5h1M229 516.5h1M833 516.5h1M229 517.5h1M833 517.5h1M228 519.5h1M833 519.5h1M228 520.5h1M833 520.5h1M228 522.5h1M834 522.5h1M228 523.5h1M834 523.5h1M228 525.5h1M834 525.5h1M228 526.5h1M834 526.5h1M227 528.5h1M834 528.5h1M227 529.5h1M834 529.5h1M227 531.5h1M835 531.5h1M227 532.5h1M835 532.5h1M227 534.5h1M835 534.5h1M227 535.5h1M835 535.5h1M227 537.5h1M835 537.5h1M227 538.5h1M835 538.5h1M226 540.5h1M835 540.5h1M226 541.5h1M835 541.5h1M226 543.5h1M835 543.5h1M226 544.5h1M835 544.5h1M226 546.5h1M836 546.5h1M226 547.5h1M836 547.5h1M226 549.5h1M836 549.5h1M226 550.5h1M836 550.5h1M226 552.5h1M836 552.5h1M226 553.5h1M836 553.5h1M226 555.5h1M836 555.5h1M226 556.5h1M836 556.5h1M226 558.5h1M836 558.5h1M226 559.5h1M836 559.5h1M226 560.5h1M836 562.5h1M226 563.5h1M836 565.5h1M226 566.5h1M836 568.5h1M226 569.5h1M836 571.5h1M226 572.5h1M835 574.5h1M226 575.5h1M835 577.5h1M226 578.5h1M835 580.5h1M227 581.5h1M835 583.5h1M227 584.5h1M835 586.5h1M227 587.5h1M834 589.5h1M227 590.5h1M834 592.5h1M228 593.5h1M834 595.5h1M228 596.5h1M833 598.5h1M228 599.5h1M833 601.5h1M229 602.5h1M832 604.5h1M229 605.5h1M832 607.5h1M230 608.5h1M831 610.5h1M230 611.5h1M831 613.5h1M231 614.5h1M830 616.5h1M231 617.5h1M830 619.5h1M232 620.5h1M829 622.5h1M233 623.5h1M828 625.5h1M233 626.5h1M828 628.5h1M234 629.5h1M827 631.5h1M235 632.5h1M826 634.5h1M235 635.5h1M826 637.5h1M236 638.5h1M825 640.5h1M237 641.5h1M824 643.5h1M238 644.5h1M823 646.5h1M239 647.5h1M822 649.5h1M240 650.5h1M821 652.5h1M241 653.5h1M820 655.5h1M242 656.5h1M819 658.5h1M243 659.5h1M818 661.5h1M244 662.5h1M817 664.5h1M245 665.5h1M816 667.5h1M246 668.5h1M815 670.5h1M247 671.5h1M814 673.5h1M248 674.5h1M812 676.5h1M249 677.5h1M811 679.5h1M251 680.5h1M810 682.5h1M252 683.5h1M808 685.5h1M253 686.5h1M807 688.5h1M255 689.5h1M806 691.5h1M256 692.5h1M804 694.5h1M258 695.5h1M803 697.5h1M259 698.5h1M801 700.5h1M261 701.5h1M799 703.5h1M262 704.5h1M798 706.5h1M264 707.5h1M796 709.5h1M266 710.5h1M794 712.5h1M267 713.5h1M793 715.5h1M269 716.5h1M791 718.5h1M271 719.5h1M789 721.5h1M273 722.5h1M787 724.5h1M275 725.5h1M785 727.5h1M277 728.5h1M783 730.5h1M279 731.5h1M781 733.5h1M281 734.5h1M779 736.5h1M283 737.5h1M777 739.5h1M285 740.5h1M774 742.5h1M287 743.5h1M772 745.5h1M290 746.5h1M770 748.5h1M292 749.5h1M767 751.5h1M294 752.5h1M765 754.5h1M297 755.5h1M762 757.5h1M299 758.5h1M760 760.5h1M302 761.5h1M757 763.5h1M305 764.5h1M754 766.5h1M308 767.5h1M752 769.5h1M311 770.5h1M749 772.5h1M314 773.5h1M746 775.5h1M317 776.5h1M743 778.5h1M320 779.5h1M740 781.5h1M323 782.5h1M737 784.5h1M326 785.5h1M329 787.5h1M734 787.5h1M731 789.5h1M332 790.5h1M335 792.5h1M728 792.5h1M725 794.5h1M338 795.5h1M341 797.5h1M722 797.5h1M719 799.5h1M344 800.5h1M347 802.5h1M716 802.5h1M350 804.5h1M713 804.5h1M353 806.5h1M710 806.5h1M707 808.5h1M356 809.5h1M704 810.5h1M359 811.5h1M701 812.5h1M362 813.5h1M698 814.5h1M365 815.5h1M695 816.5h1M368 817.5h1M371 818.5h1M692 818.5h1M374 820.5h1M689 820.5h1M377 822.5h1M686 822.5h1M683 823.5h1M380 824.5h1M383 825.5h1M680 825.5h1M386 827.5h1M677 827.5h1M674 828.5h1M389 829.5h1M392 830.5h1M671 830.5h1M395 832.5h1M668 832.5h1M398 833.5h1M665 833.5h1M662 834.5h1M401 835.5h1M404 836.5h1M659 836.5h1M407 837.5h1M656 837.5h1M410 839.5h1M653 839.5h1M413 840.5h1M650 840.5h1M416 841.5h1M647 841.5h1M644 842.5h1M419 843.5h1M641 843.5h1M422 844.5h1M425 845.5h1M638 845.5h1M428 846.5h1M635 846.5h1M431 847.5h1M632 847.5h1M434 848.5h1M629 848.5h1M437 849.5h1M626 849.5h1" stroke="#823082" style="shape-rendering:auto"/>
<path d="M613 273.5h2M616 273.5h2M619 273.5h2M622 273.5h2M625 273.5h2M628 273.5h2M631 273.5h2M596 274.5h1M598 274.5h2M601 274.5h2M604 274.5h2M607 274.5h2M610 274.5h2M634 274.5h2M637 274.5h2M640 274.5h2M643 274.5h2M646 274.5h2M649 274.5h1M587 275.5h1M589 275.5h2M592 275.5h2M595 275.5h1M650 275.5h1M652 275.5h2M655 275.5h2M658 275.5h2M580 276.5h2M583 276.5h2M586 276.5h1M661 276.5h2M664 276.5h2M574 277.5h2M577 277.5h2M667 277.5h2M670 277.5h2M673 277.5h1M568 278.5h2M571 278.5h2M674 278.5h1M676 278.5h2M562 279.5h2M565 279.5h2M679 279.5h2M682 279.5h2M557 280.5h1M559 280.5h2M685 280.5h2M688 280.5h1M553 281.5h2M556 281.5h1M689 281.5h1M691 281.5h2M550 282.5h2M694 282.5h2M697 282.5h1M545 283.5h1M547 283.5h2M698 283.5h1M700 283.5h2M541 284.5h2M544 284.5h1M703 284.5h2M538 285.5h2M706 285.5h2M535 286.5h2M709 286.5h2M532 287.5h2M712 287.5h2M529 288.5h2M715 288.5h2M526 289.5h2M718 289.5h2M523 290.5h2M721 290.5h2M520 291.5h2M724 291.5h2M517 292.5h2M727 292.5h2M514 293.5h2M730 293.5h2M512 294.5h1M733 294.5h2M509 295.5h1M511 295.5h1M736 295.5h2M508 296.5h1M739 296.5h1M505 297.5h2M740 297.5h1M502 298.5h2M742 298.5h2M500 299.5h1M745 299.5h2M497 300.5h1M499 300.5h1M748 300.5h1M496 301.5h1M749 301.5h1M493 302.5h2M751 302.5h2M491 303.5h1M754 303.5h2M490 304.5h1M757 304.5h1M487 305.5h2M758 305.5h1M485 306.5h1M760 306.5h2M484 307.5h1M763 307.5h1M481 308.5h2M764 308.5h1M479 309.5h1M766 309.5h1M478 310.5h1M767 310.5h1M475 311.5h2M769 311.5h2M772 312.5h1M472 313.5h2M773 313.5h1M470 314.5h1M775 314.5h1M469 315.5h1M776 315.5h1M467 316.5h1M778 316.5h2M466 317.5h1M464 318.5h1M781 318.5h2M463 319.5h1M784 319.5h1M460 320.5h2M785 320.5h1M787 321.5h1M457 322.5h2M788 322.5h1M790 323.5h1M454 324.5h2M791 324.5h1M793 325.5h1M451 326.5h2M794 326.5h1M796 327.5h1M448 328.5h2M797 328.5h1M799 329.5h1M445 330.5h2M800 330.5h1M802 331.5h1M443 332.5h1M803 332.5h1M442 333.5h1M440 334.5h1M805 334.5h2M439 335.5h1M437 336.5h1M808 336.5h1M436 337.5h1M809 337.5h1M811 338.5h1M434 339.5h1M812 339.5h1M433 340.5h1M431 341.5h1M814 341.5h1M430 342.5h1M815 342.5h1M817 343.5h1M427 344.5h2M818 344.5h1M425 346.5h1M820 346.5h1M424 347.5h1M821 347.5h1M823 348.5h1M422 349.5h1M824 349.5h1M421 350.5h1M826 351.5h1M419 352.5h1M827 352.5h1M418 353.5h1M829 354.5h2M416 355.5h1M415 356.5h1M832 356.5h1M833 357.5h1M413 358.5h1M412 359.5h1M835 359.5h1M836 360.5h1M410 361.5h1M409 362.5h1M838 362.5h1M839 363.5h1M407 364.5h1M406 365.5h1M841 365.5h1M842 366.5h1M404 367.5h1M403 368.5h1M844 368.5h1M845 369.5h1M401 370.5h1M400 371.5h1M847 371.5h1M848 372.5h1M398 373.5h1M397 374.5h1M395 376.5h1M394 377.5h1M393 379.5h1M392 380.5h1M390 382.5h1M389 383.5h1M388 385.5h1M387 386.5h1M385 388.5h1M384 389.5h1M383 391.5h1M382 392.5h1M380 394.5h1M380 395.5h1M378 397.5h1M377 398.5h1M376 400.5h1M375 401.5h1M374 403.5h1M373 404.5h1M372 406.5h1M371 407.5h1M370 409.5h1M369 410.5h1M368 412.5h1M367 413.5h1M366 415.5h1M365 416.5h1M364 418.5h1M363 419.5h1M362 421.5h1M362 422.5h1M360 424.5h1M360 425.5h1M359 427.5h1M358 428.5h1M357 430.5h1M356 431.5h1M355 433.5h1M355 434.5h1M354 436.5h1M353 437.5h1M352 439.5h1M352 440.5h1M351 442.5h1M350 443.5h1M349 445.5h1M349 446.5h1M348 448.5h1M347 449.5h1M346 451.5h1M346 452.5h1M345 454.5h1M344 455.5h1M344 457.5h1M343 458.5h1M342 460.5h1M342 461.5h1M341 463.5h1M341 464.5h1M340 466.5h1M339 467.5h1M339 469.5h1M338 470.5h1M337 472.5h1M337 473.5h1M336 475.5h1M336 476.5h1M335 478.5h1M335 479.5h1M334 481.5h1M334 482.5h1M333 484.5h1M333 485.5h1M332 487.5h1M332 488.5h1M331 490.5h1M331 491.5h1M330 493.5h1M330 494.5h1M330 496.5h1M329 497.5h1M329 499.5h1M329 500.5h1M328 502.5h1M328 503.5h1M327 505.5h1M327 506.5h1M326 508.5h1M326 509.5h1M326 511.5h1M326 512.5h1M325 514.5h1M325 515.5h1M324 517.5h1M324 518.5h1M324 520.5h1M324 521.5h1M323 523.5h1M323 524.5h1M323 526.5h1M323 527.5h1M322 529.5h1M322 530.5h1M322 532.5h1M322 533.5h1M321 535.5h1M321 536.5h1M321 538.5h1M321 539.5h1M321 541.5h1M320 542.5h1M320 544.5h1M320 545.5h1M320 547.5h1M320 548.5h1M320 550.5h1M319 551.5h1M319 553.5h1M319 554.5h1M319 556.5h1M319 557.5h1M319 559.5h1M319 560.5h1M319 562.5h1M319 563.5h1M319 565.5h1M318 566.5h1M318 568.5h1M318 569.5h1M318 571.5h1M318 572.5h1M318 574.5h1M318 575.5h1M318 577.5h1M318 578.5h1M318 579.5h1M318 582.5h1M318 585.5h1M318 588.5h1M318 591.5h1M319 594.5h1M319 597.5h1M319 600.5h1M319 603.5h1M319 606.5h1M320 609.5h1M320 612.5h1M320 615.5h1M321 618.5h1M321 621.5h1M322 624.5h1M322 627.5h1M323 630.5h1M323 633.5h1M324 636.5h1M324 639.5h1M325 642.5h1M325 645.5h1M326 648.5h1M327 651.5h1M328 654.5h1M328 657.5h1M329 660.5h1M330 663.5h1M331 666.5h1M332 669.5h1M333 672.5h1M334 675.5h1M335 678.5h1M336 681.5h1M337 684.5h1M338 687.5h1M339 690.5h1M340 693.5h1M342 696.5h1M343 699.5h1M344 702.5h1M346 705.5h1M347 708.5h1M348 711.5h1M350 714.5h1M351 717.5h1M353 720.5h1M354 723.5h1M356 726.5h1M358 729.5h1M359 732.5h1M361 735.5h1M363 738.5h1M365 741.5h1M367 744.5h1M369 747.5h1M371 750.5h1M373 753.5h1M375 756.5h1M377 759.5h1M379 762.5h1M382 765.5h1M384 768.5h1M386 771.5h1M389 774.5h1M391 777.5h1M394 780.5h1M397 783.5h1M847 785.5h1M400 786.5h1M844 788.5h1M403 789.5h1M841 791.5h1M406 792.5h1M838 794.5h1M409 795.5h1M835 797.5h1M412 798.5h1M832 800.5h1M415 801.5h1M829 803.5h1M418 804.5h1M421 806.5h1M826 806.5h1M424 809.5h1M823 809.5h1M427 812.5h1M820 812.5h1M430 814.5h1M817 814.5h1M433 816.5h1M814 817.5h1M436 819.5h1M811 819.5h1M439 821.5h1M808 821.5h1M442 823.5h1M805 823.5h1M445 826.5h1M802 826.5h1M448 828.5h1M799 828.5h1M451 830.5h1M796 830.5h1M454 832.5h1M793 832.5h1M457 834.5h1M790 834.5h1M460 836.5h1M787 836.5h1M463 838.5h1M784 838.5h1M466 839.5h1M781 840.5h1M469 841.5h1M778 841.5h1M472 843.5h1M775 843.5h1M475 845.5h1M772 845.5h1M478 846.5h1M769 846.5h1M481 848.5h1M766 848.5h1M484 849.5h1" stroke="#7da07d" style="shape-rendering:auto"/>
<path d="M279 277.5h2M282 277.5h2M285 277.5h2M288 277.5h2M291 277.5h2M294 277.5h2M297 277.5h2M300 277.5h2M303 277.5h2M306 277.5h2M309 277.5h2M312 277.5h2M315 277.5h2M318 277.5h2M321 277.5h2M265 278.5h1M267 278.5h2M270 278.5h2M273 278.5h2M276 278.5h2M324 278.5h2M327 278.5h2M330 278.5h2M333 278.5h2M336 278.5h1M256 279.5h1M258 279.5h2M261 279.5h2M264 279.5h1M337 279.5h1M339 279.5h2M342 279.5h2M345 279.5h1M249 280.5h2M252 280.5h2M255 280.5h1M346 280.5h1M348 280.5h2M351 280.5h2M241 281.5h1M243 281.5h2M246 281.5h2M354 281.5h2M357 281.5h2M235 282.5h1M237 282.5h2M240 282.5h1M360 282.5h2M363 282.5h2M231 283.5h2M234 283.5h1M366 283.5h2M369 283.5h2M225 284.5h2M228 284.5h2M372 284.5h2M375 284.5h2M220 285.5h1M222 285.5h2M378 285.5h2M381 285.5h1M216 286.5h2M219 286.5h1M382 286.5h1M384 286.5h2M211 287.5h1M213 287.5h2M387 287.5h2M207 288.5h2M210 288.5h1M390 288.5h2M393 288.5h1M204 289.5h2M394 289.5h1M396 289.5h2M201 290.5h2M399 290.5h2M196 291.5h1M198 291.5h2M402 291.5h2M193 292.5h1M195 292.5h1M405 292.5h2M408 292.5h1M189 293.5h2M192 293.5h1M409 293.5h1M411 293.5h1M186 294.5h2M412 294.5h1M414 294.5h2M183 295.5h2M417 295.5h2M180 296.5h2M420 296.5h2M177 297.5h2M423 297.5h2M174 298.5h2M426 298.5h1M171 299.5h2M427 299.5h1M429 299.5h1M169 300.5h1M430 300.5h1M432 300.5h1M166 301.5h1M168 301.5h1M433 301.5h1M435 301.5h1M163 302.5h1M165 302.5h1M436 302.5h1M162 303.5h1M438 303.5h2M159 304.5h2M441 304.5h2M156 305.5h2M444 305.5h2M154 306.5h1M447 306.5h1M151 307.5h1M153 307.5h1M448 307.5h1M450 307.5h1M150 308.5h1M451 308.5h1M147 309.5h2M453 309.5h2M144 310.5h2M456 310.5h1M142 311.5h1M457 311.5h1M459 311.5h1M141 312.5h1M460 312.5h1M138 313.5h2M462 313.5h2M136 314.5h1M465 314.5h1M135 315.5h1M466 315.5h1M132 316.5h2M468 316.5h2M130 317.5h1M471 317.5h1M129 318.5h1M472 318.5h1M126 319.5h2M474 319.5h2M124 320.5h1M477 320.5h1M123 321.5h1M478 321.5h1M120 322.5h2M480 322.5h2M118 323.5h1M117 324.5h1M483 324.5h2M115 325.5h1M486 325.5h1M114 326.5h1M487 326.5h1M111 327.5h2M489 327.5h2M109 328.5h1M108 329.5h1M492 329.5h2M106 330.5h1M495 330.5h1M105 331.5h1M496 331.5h1M103 332.5h1M498 332.5h1M102 333.5h1M499 333.5h1M99 334.5h2M501 334.5h1M502 335.5h1M96 336.5h2M504 336.5h1M505 337.5h1M93 338.5h2M507 338.5h2M90 340.5h2M510 340.5h1M88 341.5h1M511 341.5h1M87 342.5h1M513 342.5h2M84 344.5h2M516 344.5h1M517 345.5h1M81 346.5h2M519 346.5h1M520 347.5h1M78 348.5h2M522 348.5h1M523 349.5h1M76 350.5h1M525 350.5h1M75 351.5h1M526 351.5h1M73 352.5h1M528 352.5h1M72 353.5h1M529 353.5h1M70 354.5h1M69 355.5h1M531 355.5h2M66 357.5h2M534 357.5h1M535 358.5h1M64 359.5h1M537 359.5h1M63 360.5h1M538 360.5h1M60 362.5h2M540 362.5h1M541 363.5h1M58 364.5h1M543 364.5h1M57 365.5h1M544 365.5h1M55 366.5h1M54 367.5h1M546 367.5h1M547 368.5h1M52 369.5h1M549 369.5h1M51 370.5h1M550 370.5h1M49 372.5h1M552 372.5h1M48 373.5h1M553 373.5h1M46 374.5h1M45 375.5h1M555 375.5h1M556 376.5h1M43 377.5h1M558 377.5h1M42 378.5h1M559 378.5h1M40 380.5h1M561 380.5h1M39 381.5h1M562 381.5h1M37 383.5h1M564 383.5h1M36 384.5h1M565 384.5h1M34 386.5h1M567 386.5h1M33 387.5h1M568 387.5h1M31 389.5h1M570 389.5h1M30 390.5h1M571 390.5h1M28 392.5h1M573 392.5h1M27 393.5h1M574 393.5h1M25 395.5h1M576 395.5h1M24 396.5h1M577 396.5h1M23 398.5h1M579 398.5h1M22 399.5h1M580 399.5h1M20 401.5h1M582 401.5h1M19 402.5h1M583 402.5h1M17 404.5h1M585 404.5h1M16 405.5h1M586 405.5h1M15 407.5h1M588 407.5h1M14 408.5h1M589 408.5h1M12 410.5h1M590 410.5h1M11 411.5h1M591 411.5h1M9 413.5h1M593 413.5h1M9 414.5h1M594 414.5h1M7 416.5h1M595 416.5h1M6 417.5h1M596 417.5h1M4 419.5h1M598 419.5h1M4 420.5h1M598 420.5h1M2 422.5h1M600 422.5h1M1 423.5h1M601 423.5h1M0 425.5h1M602 425.5h1M603 426.5h1M605 428.5h1M605 429.5h1M607 431.5h1M608 432.5h1M609 434.5h1M610 435.5h1M611 437.5h1M612 438.5h1M613 440.5h1M614 441.5h1M615 443.5h1M616 444.5h1M617 446.5h1M618 447.5h1M619 449.5h1M620 450.5h1M621 452.5h1M622 453.5h1M623 455.5h1M624 456.5h1M625 458.5h1M626 459.5h1M627 461.5h1M628 462.5h1M629 464.5h1M629 465.5h1M630 467.5h1M631 468.5h1M632 470.5h1M633 471.5h1M634 473.5h1M634 474.5h1M635 476.5h1M636 477.5h1M637 479.5h1M638 480.5h1M639 482.5h1M639 483.5h1M640 485.5h1M641 486.5h1M642 488.5h1M642 489.5h1M643 491.5h1M644 492.5h1M645 494.5h1M645 495.5h1M646 497.5h1M646 498.5h1M647 500.5h1M648 501.5h1M649 503.5h1M649 504.5h1M650 506.5h1M650 507.5h1M651 509.5h1M652 510.5h1M652 512.5h1M653 513.5h1M654 515.5h1M654 516.5h1M655 518.5h1M655 519.5h1M656 521.5h1M656 522.5h1M657 524.5h1M658 525.5h1M658 527.5h1M659 528.5h1M659 530.5h1M660 531.5h1M660 533.5h1M661 534.5h1M661 536.5h1M662 537.5h1M662 539.5h1M663 540.5h1M663 542.5h1M664 543.5h1M664 545.5h1M665 546.5h1M665 548.5h1M666 549.5h1M666 551.5h1M666 552.5h1M667 554.5h1M667 555.5h1M668 557.5h1M668 558.5h1M669 560.5h1M669 561.5h1M669 563.5h1M670 564.5h1M670 566.5h1M670 567.5h1M671 569.5h1M671 570.5h1M672 572.5h1M672 573.5h1M672 575.5h1M673 576.5h1M673 578.5h1M673 579.5h1M674 581.5h1M674 582.5h1M674 584.5h1M674 585.5h1M675 587.5h1M675 588.5h1M675 590.5h1M675 591.5h1M676 593.5h1M676 594.5h1M676 596.5h1M676 597.5h1M677 599.5h1M677 600.5h1M677 602.5h1M677 603.5h1M678 605.5h1M678 606.5h1M678 608.5h1M678 609.5h1M678 611.5h1M679 612.5h1M679 614.5h1M679 615.5h1M679 617.5h1M679 618.5h1M679 620.5h1M679 621.5h1M680 623.5h1M680 624.5h1M680 626.5h1M680 627.5h1M680 629.5h1M680 630.5h1M680 632.5h1M680 633.5h1M681 635.5h1M681 636.5h1M681 638.5h1M681 639.5h1M681 641.5h1M681 642.5h1M681 644.5h1M681 645.5h1M681 647.5h1M681 648.5h1M681 650.5h1M681 651.5h1M681 653.5h1M681 654.5h1M681 656.5h1M681 657.5h1M681 660.5h1M681 663.5h1M681 666.5h1M681 669.5h1M681 672.5h1M681 675.5h1M681 678.5h1M680 681.5h1M680 684.5h1M680 687.5h1M680 690.5h1M679 693.5h1M679 696.5h1M679 699.5h1M679 702.5h1M678 705.5h1M678 708.5h1M677 711.5h1M677 714.5h1M676 717.5h1M676 720.5h1M675 723.5h1M675 726.5h1M674 729.5h1M674 732.5h1M673 735.5h1M672 738.5h1M672 741.5h1M671 744.5h1M670 747.5h1M670 750.5h1M669 753.5h1M668 756.5h1M667 759.5h1M666 762.5h1M666 765.5h1M665 768.5h1M664 771.5h1M663 774.5h1M662 777.5h1M661 780.5h1M660 783.5h1M659 786.5h1M657 789.5h1M656 792.5h1M655 795.5h1M654 798.5h1M653 801.5h1M652 804.5h1M650 807.5h1M649 810.5h1M648 813.5h1M646 816.5h1M645 819.5h1M644 822.5h1M642 825.5h1M641 828.5h1M639 831.5h1M637 834.5h1M636 837.5h1M634 840.5h1M633 843.5h1M631 846.5h1M629 849.5h1" stroke="#006800" style="shape-rendering:auto"/>
<path d="M154 203.5h2M157 203.5h2M160 203.5h2M163 203.5h2M166 203.5h2M169 203.5h2M172 203.5h2M175 203.5h2M178 203.5h2M181 203.5h2M184 203.5h2M187 203.5h1M139 204.5h2M142 204.5h2M145 204.5h2M148 204.5h2M151 204.5h2M188 204.5h1M190 204.5h2M193 204.5h2M196 204.5h2M199 204.5h2M202 204.5h1M128 205.5h1M130 205.5h2M133 205.5h2M136 205.5h2M203 205.5h1M205 205.5h2M208 205.5h2M211 205.5h2M121 206.5h2M124 206.5h2M127 206.5h1M214 206.5h2M217 206.5h2M220 206.5h1M113 207.5h1M115 207.5h2M118 207.5h2M221 207.5h1M223 207.5h2M226 207.5h2M107 208.5h1M109 208.5h2M112 208.5h1M229 208.5h2M232 208.5h2M101 209.5h1M103 209.5h2M106 209.5h1M235 209.5h2M238 209.5h2M97 210.5h2M100 210.5h1M241 210.5h2M244 210.5h1M91 211.5h2M94 211.5h2M245 211.5h1M247 211.5h2M86 212.5h1M88 212.5h2M250 212.5h2M253 212.5h2M82 213.5h2M85 213.5h1M256 213.5h2M79 214.5h2M259 214.5h2M262 214.5h1M74 215.5h1M76 215.5h2M263 215.5h1M265 215.5h2M70 216.5h2M73 216.5h1M268 216.5h2M67 217.5h2M271 217.5h2M64 218.5h2M274 218.5h2M277 218.5h1M61 219.5h2M278 219.5h1M280 219.5h1M58 220.5h2M281 220.5h1M283 220.5h1M55 221.5h2M284 221.5h1M286 221.5h1M52 222.5h2M287 222.5h1M289 222.5h1M49 223.5h2M290 223.5h1M292 223.5h2M46 224.5h2M295 224.5h1M43 225.5h2M296 225.5h1M298 225.5h1M40 226.5h2M299 226.5h1M301 226.5h1M37 227.5h2M302 227.5h1M304 227.5h1M34 228.5h2M305 228.5h1M31 229.5h2M307 229.5h2M29 230.5h1M310 230.5h2M26 231.5h1M28 231.5h1M313 231.5h2M25 232.5h1M316 232.5h1M22 233.5h2M317 233.5h1M19 234.5h2M319 234.5h2M17 235.5h1M322 235.5h2M16 236.5h1M325 236.5h1M13 237.5h2M326 237.5h1M328 237.5h1M10 238.5h2M329 238.5h1M8 239.5h1M331 239.5h2M7 240.5h1M334 240.5h1M4 241.5h2M335 241.5h1M2 242.5h1M337 242.5h2M1 243.5h1M340 243.5h1M341 244.5h1M343 245.5h2M346 246.5h1M347 247.5h1M349 248.5h2M352 249.5h1M353 250.5h1M355 251.5h1M356 252.5h1M358 253.5h2M361 255.5h2M364 256.5h1M365 257.5h1M367 258.5h1M368 259.5h1M370 260.5h2M373 262.5h2M376 264.5h2M379 266.5h2M382 268.5h2M385 270.5h2M388 272.5h2M391 274.5h1M392 275.5h1M394 276.5h1M395 277.5h1M397 278.5h1M398 279.5h1M400 280.5h1M401 281.5h1M403 283.5h1M404 284.5h1M406 285.5h1M407 286.5h1M409 288.5h2M412 290.5h1M413 291.5h1M415 292.5h1M416 293.5h1M418 295.5h1M419 296.5h1M421 298.5h2M424 300.5h1M425 301.5h1M427 303.5h1M428 304.5h1M430 306.5h1M431 307.5h1M433 309.5h1M434 310.5h1M436 312.5h2M439 314.5h1M440 315.5h1M442 317.5h1M443 318.5h1M445 320.5h1M446 321.5h1M448 323.5h1M449 324.5h1M451 326.5h1M452 327.5h1M454 329.5h1M454 330.5h1M456 332.5h1M457 333.5h1M459 335.5h1M460 336.5h1M461 338.5h1M462 339.5h1M464 341.5h1M465 342.5h1M466 344.5h1M467 345.5h1M469 347.5h1M470 348.5h1M471 350.5h1M472 351.5h1M473 353.5h1M474 354.5h1M476 356.5h1M476 357.5h1M478 359.5h1M479 360.5h1M480 362.5h1M481 363.5h1M482 365.5h1M483 366.5h1M484 368.5h1M485 369.5h1M486 371.5h1M487 372.5h1M488 374.5h1M489 375.5h1M490 377.5h1M491 378.5h1M492 380.5h1M493 381.5h1M494 383.5h1M495 384.5h1M496 386.5h1M496 387.5h1M498 389.5h1M498 390.5h1M499 392.5h1M500 393.5h1M501 395.5h1M502 396.5h1M503 398.5h1M503 399.5h1M504 401.5h1M505 402.5h1M506 404.5h1M507 405.5h1M508 407.5h1M508 408.5h1M509 410.5h1M510 411.5h1M511 413.5h1M511 414.5h1M512 416.5h1M513 417.5h1M514 419.5h1M514 420.5h1M515 422.5h1M516 423.5h1M516 425.5h1M517 426.5h1M518 428.5h1M518 429.5h1M519 431.5h1M520 432.5h1M520 434.5h1M521 435.5h1M522 437.5h1M522 438.5h1M523 440.5h1M523 441.5h1M524 443.5h1M525 444.5h1M525 446.5h1M526 447.5h1M526 449.5h1M527 450.5h1M528 452.5h1M528 453.5h1M529 455.5h1M529 456.5h1M530 458.5h1M530 459.5h1M531 461.5h1M531 462.5h1M532 464.5h1M532 465.5h1M533 467.5h1M533 468.5h1M534 470.5h1M534 471.5h1M535 473.5h1M535 474.5h1M535 476.5h1M536 477.5h1M536 479.5h1M537 480.5h1M537 482.5h1M537 483.5h1M538 485.5h1M538 486.5h1M539 488.5h1M539 489.5h1M540 491.5h1M540 492.5h1M540 494.5h1M541 495.5h1M541 497.5h1M541 498.5h1M542 500.5h1M542 501.5h1M542 503.5h1M543 504.5h1M543 506.5h1M543 507.5h1M544 509.5h1M544 510.5h1M544 512.5h1M544 513.5h1M545 515.5h1M545 516.5h1M545 518.5h1M545 519.5h1M546 521.5h1M546 522.5h1M546 524.5h1M546 525.5h1M547 527.5h1M547 528.5h1M547 530.5h1M547 531.5h1M548 533.5h1M548 534.5h1M548 536.5h1M548 537.5h1M548 539.5h1M548 540.5h1M549 542.5h1M549 543.5h1M549 545.5h1M549 546.5h1M549 548.5h1M549 549.5h1M550 551.5h1M550 552.5h1M550 554.5h1M550 555.5h1M550 557.5h1M550 558.5h1M550 560.5h1M550 561.5h1M550 563.5h1M550 564.5h1M551 566.5h1M551 567.5h1M551 569.5h1M551 570.5h1M551 572.5h1M551 573.5h1M551 575.5h1M551 576.5h1M551 578.5h1M551 579.5h1M551 581.5h1M551 582.5h1M551 584.5h1M551 587.5h1M551 590.5h1M551 593.5h1M551 596.5h1M551 599.5h1M550 602.5h1M550 605.5h1M550 608.5h1M550 611.5h1M550 614.5h1M549 617.5h1M549 620.5h1M549 623.5h1M549 626.5h1M548 629.5h1M548 632.5h1M547 635.5h1M547 638.5h1M546 641.5h1M546 644.5h1M546 647.5h1M545 650.5h1M544 653.5h1M544 656.5h1M543 659.5h1M543 662.5h1M542 665.5h1M541 668.5h1M541 671.5h1M540 674.5h1M539 677.5h1M538 680.5h1M538 683.5h1M537 686.5h1M536 689.5h1M535 692.5h1M534 695.5h1M533 698.5h1M532 701.5h1M531 704.5h1M530 707.5h1M529 710.5h1M528 713.5h1M527 716.5h1M526 719.5h1M525 722.5h1M524 725.5h1M522 728.5h1M521 731.5h1M520 734.5h1M518 737.5h1M517 740.5h1M516 743.5h1M514 746.5h1M513 749.5h1M511 752.5h1M510 755.5h1M508 758.5h1M507 761.5h1M505 764.5h1M504 767.5h1M502 770.5h1M500 773.5h1M498 776.5h1M497 779.5h1M495 782.5h1M493 785.5h1M491 788.5h1M489 791.5h1M487 794.5h1M485 797.5h1M483 800.5h1M481 803.5h1M479 806.5h1M477 809.5h1M474 812.5h1M472 815.5h1M470 818.5h1M467 821.5h1M465 824.5h1M463 827.5h1M460 830.5h1M457 833.5h1M455 836.5h1M452 839.5h1M449 842.5h1M447 845.5h1M444 848.5h1" stroke="#3c0a0a" style="shape-rendering:auto"/>
<path d="M502 393.5h1M504 393.5h2M507 393.5h2M510 393.5h2M513 393.5h2M516 393.5h2M519 393.5h2M522 393.5h2M525 393.5h2M528 393.5h2M531 393.5h2M534 393.5h2M537 393.5h2M540 393.5h2M543 393.5h2M492 394.5h2M495 394.5h2M498 394.5h2M501 394.5h1M546 394.5h2M549 394.5h2M552 394.5h2M555 394.5h2M483 395.5h2M486 395.5h2M489 395.5h2M558 395.5h2M561 395.5h2M564 395.5h1M477 396.5h2M480 396.5h2M565 396.5h1M567 396.5h2M570 396.5h2M471 397.5h2M474 397.5h2M573 397.5h2M576 397.5h2M465 398.5h2M468 398.5h2M579 398.5h2M582 398.5h1M460 399.5h1M462 399.5h2M583 399.5h1M585 399.5h2M456 400.5h2M459 400.5h1M588 400.5h2M591 400.5h2M451 401.5h1M453 401.5h2M594 401.5h2M447 402.5h2M450 402.5h1M597 402.5h2M600 402.5h1M444 403.5h2M601 403.5h1M603 403.5h2M441 404.5h2M606 404.5h2M438 405.5h2M609 405.5h2M433 406.5h1M435 406.5h2M612 406.5h2M430 407.5h1M432 407.5h1M615 407.5h2M427 408.5h1M429 408.5h1M618 408.5h2M424 409.5h1M426 409.5h1M621 409.5h2M423 410.5h1M624 410.5h2M420 411.5h2M627 411.5h2M417 412.5h2M630 412.5h2M414 413.5h2M633 413.5h2M411 414.5h2M636 414.5h1M408 415.5h2M637 415.5h1M639 415.5h1M406 416.5h1M640 416.5h1M405 417.5h1M642 417.5h2M402 418.5h2M645 418.5h2M399 419.5h2M648 419.5h1M397 420.5h1M649 420.5h1M396 421.5h1M651 421.5h2M393 422.5h2M654 422.5h2M391 423.5h1M657 423.5h1M390 424.5h1M658 424.5h1M387 425.5h2M660 425.5h2M385 426.5h1M663 426.5h1M384 427.5h1M664 427.5h1M381 428.5h2M666 428.5h1M379 429.5h1M667 429.5h1M378 430.5h1M669 430.5h2M375 431.5h2M672 431.5h1M373 432.5h1M673 432.5h1M372 433.5h1M675 433.5h2M370 434.5h1M369 435.5h1M678 435.5h2M367 436.5h1M681 436.5h1M366 437.5h1M682 437.5h1M363 438.5h2M684 438.5h1M685 439.5h1M360 440.5h2M687 440.5h1M688 441.5h1M357 442.5h2M690 442.5h1M355 443.5h1M691 443.5h1M354 444.5h1M693 444.5h1M694 445.5h1M351 446.5h2M696 446.5h1M697 447.5h1M348 448.5h2M699 448.5h1M700 449.5h1M345 450.5h2M702 450.5h1M703 451.5h1M343 452.5h1M342 453.5h1M705 453.5h2M340 454.5h1M339 455.5h1M708 455.5h1M337 456.5h1M709 456.5h1M336 457.5h1M711 457.5h1M712 458.5h1M334 459.5h1M714 459.5h1M333 460.5h1M715 460.5h1M331 461.5h1M330 462.5h1M717 462.5h1M718 463.5h1M327 464.5h2M720 464.5h1M721 465.5h1M325 466.5h1M324 467.5h1M723 467.5h1M724 468.5h1M322 469.5h1M321 470.5h1M726 470.5h2M319 472.5h1M729 472.5h1M318 473.5h1M730 473.5h1M316 475.5h1M732 475.5h1M315 476.5h1M733 476.5h1M313 478.5h1M735 478.5h1M312 479.5h1M736 479.5h1M310 481.5h1M738 481.5h1M309 482.5h1M739 482.5h1M307 484.5h1M741 484.5h1M306 485.5h1M742 485.5h1M304 487.5h1M744 487.5h1M303 488.5h1M745 488.5h1M301 490.5h1M747 490.5h1M300 491.5h1M748 491.5h1M298 493.5h1M750 493.5h1M297 494.5h1M751 494.5h1M296 496.5h1M753 496.5h1M295 497.5h1M754 497.5h1M293 499.5h1M756 499.5h1M292 500.5h1M757 500.5h1M290 502.5h1M758 502.5h1M290 503.5h1M759 503.5h1M288 505.5h1M761 505.5h1M287 506.5h1M762 506.5h1M286 508.5h1M763 508.5h1M285 509.5h1M764 509.5h1M283 511.5h1M766 511.5h1M282 512.5h1M766 512.5h1M281 514.5h1M768 514.5h1M280 515.5h1M769 515.5h1M279 517.5h1M770 517.5h1M278 518.5h1M771 518.5h1M276 520.5h1M772 520.5h1M276 521.5h1M773 521.5h1M274 523.5h1M774 523.5h1M274 524.5h1M775 524.5h1M272 526.5h1M776 526.5h1M271 527.5h1M777 527.5h1M270 529.5h1M778 529.5h1M270 530.5h1M779 530.5h1M268 532.5h1M780 532.5h1M268 533.5h1M781 533.5h1M266 535.5h1M782 535.5h1M266 536.5h1M783 536.5h1M264 538.5h1M784 538.5h1M264 539.5h1M785 539.5h1M263 541.5h1M786 541.5h1M262 542.5h1M786 542.5h1M261 544.5h1M788 544.5h1M260 545.5h1M788 545.5h1M259 547.5h1M789 547.5h1M259 548.5h1M790 548.5h1M257 550.5h1M791 550.5h1M257 551.5h1M792 551.5h1M256 553.5h1M793 553.5h1M255 554.5h1M793 554.5h1M254 556.5h1M794 556.5h1M254 557.5h1M795 557.5h1M253 559.5h1M796 559.5h1M252 560.5h1M796 560.5h1M251 562.5h1M797 562.5h1M251 563.5h1M798 563.5h1M250 565.5h1M799 565.5h1M249 566.5h1M799 566.5h1M248 568.5h1M800 568.5h1M248 569.5h1M801 569.5h1M247 571.5h1M802 571.5h1M246 572.5h1M802 572.5h1M245 574.5h1M803 574.5h1M245 575.5h1M803 575.5h1M244 577.5h1M804 577.5h1M244 578.5h1M805 578.5h1M243 580.5h1M805 580.5h1M242 581.5h1M806 581.5h1M242 583.5h1M807 583.5h1M241 584.5h1M807 584.5h1M240 586.5h1M808 586.5h1M240 587.5h1M808 587.5h1M239 589.5h1M809 589.5h1M239 590.5h1M809 590.5h1M238 592.5h1M810 592.5h1M238 593.5h1M811 593.5h1M237 595.5h1M811 595.5h1M237 596.5h1M812 596.5h1M236 598.5h1M812 598.5h1M236 599.5h1M813 599.5h1M235 601.5h1M813 601.5h1M235 602.5h1M814 602.5h1M234 604.5h1M814 604.5h1M234 605.5h1M815 605.5h1M233 607.5h1M815 607.5h1M233 608.5h1M816 608.5h1M232 610.5h1M816 610.5h1M232 611.5h1M817 611.5h1M231 613.5h1M817 613.5h1M231 614.5h1M817 614.5h1M230 616.5h1M818 616.5h1M230 617.5h1M818 617.5h1M229 619.5h1M819 619.5h1M229 620.5h1M819 620.5h1M229 622.5h1M820 622.5h1M228 623.5h1M820 623.5h1M228 625.5h1M820 625.5h1M228 626.5h1M821 626.5h1M227 628.5h1M821 628.5h1M227 629.5h1M821 629.5h1M226 631.5h1M822 631.5h1M226 632.5h1M822 632.5h1M226 634.5h1M822 634.5h1M226 635.5h1M823 635.5h1M225 637.5h1M823 637.5h1M225 638.5h1M823 638.5h1M225 640.5h1M824 640.5h1M224 641.5h1M824 641.5h1M224 643.5h1M824 643.5h1M224 644.5h1M824 644.5h1M223 646.5h1M825 646.5h1M223 647.5h1M825 647.5h1M223 649.5h1M825 649.5h1M223 650.5h1M825 650.5h1M223 652.5h1M826 652.5h1M222 653.5h1M826 653.5h1M222 655.5h1M826 655.5h1M222 656.5h1M826 656.5h1M222 658.5h1M826 658.5h1M222 659.5h1M827 659.5h1M221 661.5h1M827 661.5h1M221 662.5h1M827 662.5h1M221 664.5h1M827 664.5h1M221 665.5h1M827 665.5h1M221 667.5h1M828 667.5h1M220 668.5h1M828 668.5h1M220 670.5h1M828 670.5h1M220 671.5h1M828 671.5h1M220 673.5h1M828 673.5h1M220 674.5h1M828 674.5h1M220 676.5h1M828 676.5h1M220 677.5h1M828 677.5h1M220 679.5h1M828 679.5h1M220 680.5h1M829 680.5h1M219 682.5h1M829 682.5h1M219 683.5h1M829 683.5h1M219 685.5h1M829 685.5h1M219 686.5h1M829 686.5h1M219 688.5h1M829 688.5h1M219 689.5h1M829 689.5h1M219 691.5h1M829 691.5h1M219 692.5h1M829 692.5h1M219 694.5h1M829 694.5h1M219 695.5h1M829 695.5h1M219 697.5h1M829 697.5h1M219 698.5h1M829 698.5h1M219 699.5h1M829 701.5h1M219 702.5h1M829 704.5h1M219 705.5h1M829 707.5h1M219 708.5h1M829 710.5h1M219 711.5h1M829 713.5h1M219 714.5h1M828 716.5h1M220 717.5h1M828 719.5h1M220 720.5h1M828 722.5h1M220 723.5h1M828 725.5h1M220 726.5h1M827 728.5h1M221 729.5h1M827 731.5h1M221 732.5h1M827 734.5h1M221 735.5h1M826 737.5h1M222 738.5h1M826 740.5h1M222 741.5h1M826 743.5h1M222 744.5h1M825 746.5h1M223 747.5h1M825 749.5h1M223 750.5h1M824 752.5h1M224 753.5h1M823 755.5h1M225 756.5h1M823 758.5h1M225 759.5h1M822 761.5h1M226 762.5h1M822 764.5h1M226 765.5h1M821 767.5h1M227 768.5h1M820 770.5h1M228 771.5h1M819 773.5h1M229 774.5h1M819 776.5h1M229 777.5h1M818 779.5h1M230 780.5h1M817 782.5h1M231 783.5h1M816 785.5h1M232 786.5h1M815 788.5h1M233 789.5h1M814 791.5h1M234 792.5h1M813 794.5h1M235 795.5h1M812 797.5h1M236 798.5h1M811 800.5h1M237 801.5h1M810 803.5h1M238 804.5h1M809 806.5h1M239 807.5h1M808 809.5h1M240 810.5h1M807 812.5h1M241 813.5h1M805 815.5h1M243 816.5h1M804 818.5h1M244 819.5h1M803 821.5h1M245 822.5h1M801 824.5h1M247 825.5h1M800 827.5h1M248 828.5h1M799 830.5h1M249 831.5h1M797 833.5h1M251 834.5h1M796 836.5h1M252 837.5h1M794 839.5h1M254 840.5h1M792 842.5h1M256 843.5h1M791 845.5h1M257 846.5h1M789 848.5h1M259 849.5h1" stroke="#0000ff" style="shape-rendering:auto"/>
<path d="M584 345.5h2M587 345.5h2M590 345.5h2M593 345.5h2M596 345.5h2M599 345.5h2M602 345.5h2M605 345.5h2M608 345.5h2M611 345.5h2M614 345.5h2M617 345.5h2M620 345.5h2M623 345.5h2M570 346.5h1M572 346.5h2M575 346.5h2M578 346.5h2M581 346.5h2M626 346.5h2M629 346.5h2M632 346.5h2M635 346.5h2M638 346.5h2M561 347.5h1M563 347.5h2M566 347.5h2M569 347.5h1M641 347.5h2M644 347.5h2M647 347.5h2M554 348.5h2M557 348.5h2M560 348.5h1M650 348.5h2M653 348.5h2M656 348.5h1M546 349.5h1M548 349.5h2M551 349.5h2M657 349.5h1M659 349.5h2M662 349.5h2M540 350.5h1M542 350.5h2M545 350.5h1M665 350.5h2M668 350.5h2M534 351.5h1M536 351.5h2M539 351.5h1M671 351.5h2M674 351.5h2M530 352.5h2M533 352.5h1M677 352.5h2M680 352.5h1M525 353.5h1M527 353.5h2M681 353.5h1M683 353.5h2M521 354.5h2M524 354.5h1M686 354.5h2M689 354.5h1M516 355.5h1M518 355.5h2M690 355.5h1M692 355.5h2M512 356.5h2M515 356.5h1M695 356.5h2M509 357.5h2M698 357.5h2M701 357.5h1M504 358.5h1M506 358.5h2M702 358.5h1M704 358.5h2M501 359.5h1M503 359.5h1M707 359.5h2M497 360.5h2M500 360.5h1M710 360.5h2M494 361.5h2M713 361.5h2M491 362.5h2M716 362.5h2M488 363.5h2M719 363.5h2M722 363.5h1M485 364.5h2M723 364.5h1M725 364.5h1M482 365.5h2M726 365.5h1M728 365.5h1M479 366.5h2M729 366.5h1M476 367.5h2M731 367.5h2M473 368.5h2M734 368.5h2M470 369.5h2M737 369.5h2M468 370.5h1M740 370.5h2M465 371.5h1M467 371.5h1M743 371.5h2M464 372.5h1M746 372.5h1M461 373.5h2M747 373.5h1M749 373.5h1M458 374.5h2M750 374.5h1M456 375.5h1M752 375.5h2M453 376.5h1M455 376.5h1M755 376.5h2M452 377.5h1M758 377.5h1M449 378.5h2M759 378.5h1M446 379.5h2M761 379.5h2M444 380.5h1M764 380.5h2M443 381.5h1M767 381.5h1M440 382.5h2M768 382.5h1M438 383.5h1M770 383.5h2M437 384.5h1M773 384.5h1M434 385.5h2M774 385.5h1M432 386.5h1M776 386.5h2M431 387.5h1M779 387.5h1M428 388.5h2M780 388.5h1M426 389.5h1M782 389.5h2M425 390.5h1M785 390.5h1M423 391.5h1M786 391.5h1M422 392.5h1M788 392.5h1M419 393.5h2M789 393.5h1M417 394.5h1M791 394.5h2M416 395.5h1M794 395.5h1M414 396.5h1M795 396.5h1M413 397.5h1M797 397.5h1M410 398.5h2M798 398.5h1M800 399.5h1M407 400.5h2M801 400.5h1M405 401.5h1M803 401.5h2M404 402.5h1M402 403.5h1M806 403.5h2M401 404.5h1M399 405.5h1M809 405.5h2M398 406.5h1M812 406.5h1M396 407.5h1M813 407.5h1M395 408.5h1M815 408.5h1M393 409.5h1M816 409.5h1M392 410.5h1M818 410.5h1M390 411.5h1M819 411.5h1M389 412.5h1M387 413.5h1M821 413.5h2M386 414.5h1M384 415.5h1M824 415.5h2M383 416.5h1M381 417.5h1M827 417.5h2M380 418.5h1M830 419.5h1M377 420.5h2M831 420.5h1M833 421.5h1M375 422.5h1M834 422.5h1M374 423.5h1M836 423.5h1M372 424.5h1M837 424.5h1M371 425.5h1M839 426.5h1M368 427.5h2M840 427.5h1M842 428.5h1M366 429.5h1M843 429.5h1M365 430.5h1M363 431.5h1M845 431.5h2M362 432.5h1M848 433.5h1M360 434.5h1M849 434.5h1M359 435.5h1M357 436.5h1M356 437.5h1M354 439.5h1M353 440.5h1M351 442.5h1M350 443.5h1M348 445.5h1M347 446.5h1M345 448.5h1M344 449.5h1M342 451.5h1M341 452.5h1M339 454.5h1M338 455.5h1M336 457.5h1M335 458.5h1M333 460.5h1M332 461.5h1M330 463.5h1M329 464.5h1M327 466.5h1M326 467.5h1M324 469.5h1M323 470.5h1M321 472.5h1M321 473.5h1M319 475.5h1M318 476.5h1M316 478.5h1M315 479.5h1M314 481.5h1M313 482.5h1M311 484.5h1M310 485.5h1M309 487.5h1M308 488.5h1M306 490.5h1M305 491.5h1M304 493.5h1M303 494.5h1M302 496.5h1M301 497.5h1M299 499.5h1M299 500.5h1M297 502.5h1M296 503.5h1M295 505.5h1M294 506.5h1M293 508.5h1M292 509.5h1M291 511.5h1M290 512.5h1M289 514.5h1M288 515.5h1M287 517.5h1M286 518.5h1M285 520.5h1M284 521.5h1M283 523.5h1M282 524.5h1M281 526.5h1M281 527.5h1M279 529.5h1M279 530.5h1M277 532.5h1M277 533.5h1M276 535.5h1M275 536.5h1M274 538.5h1M273 539.5h1M272 541.5h1M272 542.5h1M271 544.5h1M270 545.5h1M269 547.5h1M269 548.5h1M267 550.5h1M267 551.5h1M266 553.5h1M265 554.5h1M264 556.5h1M264 557.5h1M263 559.5h1M262 560.5h1M261 562.5h1M261 563.5h1M260 565.5h1M260 566.5h1M259 568.5h1M258 569.5h1M257 571.5h1M257 572.5h1M256 574.5h1M256 575.5h1M255 577.5h1M254 578.5h1M253 580.5h1M253 581.5h1M252 583.5h1M252 584.5h1M251 586.5h1M251 587.5h1M250 589.5h1M249 590.5h1M249 592.5h1M248 593.5h1M248 595.5h1M247 596.5h1M246 598.5h1M246 599.5h1M245 601.5h1M245 602.5h1M244 604.5h1M244 605.5h1M243 607.5h1M243 608.5h1M242 610.5h1M242 611.5h1M242 613.5h1M241 614.5h1M241 616.5h1M240 617.5h1M240 619.5h1M239 620.5h1M239 622.5h1M239 623.5h1M238 625.5h1M238 626.5h1M237 628.5h1M237 629.5h1M236 631.5h1M236 632.5h1M236 634.5h1M235 635.5h1M235 637.5h1M235 638.5h1M234 640.5h1M234 641.5h1M234 643.5h1M233 644.5h1M233 646.5h1M233 647.5h1M232 649.5h1M232 650.5h1M232 652.5h1M231 653.5h1M231 655.5h1M231 656.5h1M231 658.5h1M230 659.5h1M230 661.5h1M230 662.5h1M229 664.5h1M229 665.5h1M229 667.5h1M229 668.5h1M229 670.5h1M228 671.5h1M228 673.5h1M228 674.5h1M228 676.5h1M228 677.5h1M227 679.5h1M227 680.5h1M227 682.5h1M227 683.5h1M227 685.5h1M226 686.5h1M226 688.5h1M226 689.5h1M226 691.5h1M226 692.5h1M226 694.5h1M226 695.5h1M225 697.5h1M225 698.5h1M225 700.5h1M225 701.5h1M225 703.5h1M225 704.5h1M225 706.5h1M225 707.5h1M225 709.5h1M225 710.5h1M225 712.5h1M225 713.5h1M225 715.5h1M225 716.5h1M224 718.5h1M224 719.5h1M224 721.5h1M224 722.5h1M224 724.5h1M224 725.5h1M224 727.5h1M224 730.5h1M224 733.5h1M225 736.5h1M225 739.5h1M225 742.5h1M225 745.5h1M225 748.5h1M225 751.5h1M225 754.5h1M226 757.5h1M226 760.5h1M226 763.5h1M227 766.5h1M227 769.5h1M227 772.5h1M228 775.5h1M228 778.5h1M228 781.5h1M229 784.5h1M229 787.5h1M230 790.5h1M230 793.5h1M231 796.5h1M232 799.5h1M232 802.5h1M233 805.5h1M233 808.5h1M234 811.5h1M235 814.5h1M235 817.5h1M236 820.5h1M237 823.5h1M238 826.5h1M239 829.5h1M240 832.5h1M240 835.5h1M241 838.5h1M242 841.5h1M243 844.5h1M244 847.5h1" stroke="#800000" style="shape-rendering:auto"/>
<path d="M246 340.5h2M249 340.5h2M252 340.5h2M255 340.5h2M258 340.5h2M261 340.5h2M264 340.5h2M267 340.5h2M270 340.5h2M231 341.5h2M234 341.5h2M237 341.5h2M240 341.5h2M243 341.5h2M273 341.5h2M276 341.5h2M279 341.5h2M282 341.5h2M285 341.5h2M222 342.5h2M225 342.5h2M228 342.5h2M288 342.5h2M291 342.5h2M294 342.5h2M216 343.5h2M219 343.5h2M297 343.5h2M300 343.5h2M303 343.5h1M208 344.5h1M210 344.5h2M213 344.5h2M304 344.5h1M306 344.5h2M309 344.5h2M204 345.5h2M207 345.5h1M312 345.5h2M315 345.5h1M198 346.5h2M201 346.5h2M316 346.5h1M318 346.5h2M193 347.5h1M195 347.5h2M321 347.5h2M324 347.5h2M189 348.5h2M192 348.5h1M327 348.5h2M186 349.5h2M330 349.5h2M333 349.5h1M181 350.5h1M183 350.5h2M334 350.5h1M336 350.5h2M177 351.5h2M180 351.5h1M339 351.5h2M174 352.5h2M342 352.5h2M171 353.5h2M345 353.5h2M348 353.5h1M168 354.5h2M349 354.5h1M351 354.5h1M165 355.5h2M352 355.5h1M354 355.5h1M162 356.5h2M355 356.5h1M357 356.5h1M159 357.5h2M358 357.5h1M360 357.5h1M156 358.5h2M361 358.5h1M363 358.5h1M153 359.5h2M364 359.5h1M150 360.5h2M366 360.5h2M148 361.5h1M369 361.5h2M145 362.5h1M147 362.5h1M372 362.5h2M144 363.5h1M375 363.5h1M141 364.5h2M376 364.5h1M378 364.5h1M138 365.5h2M379 365.5h1M136 366.5h1M381 366.5h2M133 367.5h1M135 367.5h1M384 367.5h2M132 368.5h1M387 368.5h1M129 369.5h2M388 369.5h1M127 370.5h1M390 370.5h2M126 371.5h1M393 371.5h1M123 372.5h2M394 372.5h1M121 373.5h1M396 373.5h2M120 374.5h1M399 374.5h1M117 375.5h2M400 375.5h1M115 376.5h1M402 376.5h2M114 377.5h1M405 377.5h1M112 378.5h1M406 378.5h1M111 379.5h1M408 379.5h1M108 380.5h2M409 380.5h1M106 381.5h1M411 381.5h2M105 382.5h1M414 382.5h1M103 383.5h1M415 383.5h1M102 384.5h1M417 384.5h1M100 385.5h1M418 385.5h1M99 386.5h1M420 386.5h1M96 387.5h2M421 387.5h1M423 388.5h1M93 389.5h2M424 389.5h1M426 390.5h1M90 391.5h2M427 391.5h1M429 392.5h1M87 393.5h2M430 393.5h1M432 394.5h1M84 395.5h2M433 395.5h1M435 396.5h1M82 397.5h1M436 397.5h1M81 398.5h1M438 398.5h1M79 399.5h1M439 399.5h1M78 400.5h1M441 400.5h1M76 401.5h1M442 401.5h1M75 402.5h1M73 403.5h1M444 403.5h2M72 404.5h1M447 405.5h1M70 406.5h1M448 406.5h1M69 407.5h1M450 407.5h1M67 408.5h1M451 408.5h1M66 409.5h1M453 410.5h1M63 411.5h2M454 411.5h1M456 412.5h1M61 413.5h1M457 413.5h1M60 414.5h1M459 415.5h1M58 416.5h1M460 416.5h1M57 417.5h1M462 418.5h1M55 419.5h1M463 419.5h1M54 420.5h1M465 420.5h1M466 421.5h1M52 422.5h1M51 423.5h1M468 423.5h1M469 424.5h1M49 425.5h1M48 426.5h1M471 426.5h1M472 427.5h1M46 428.5h1M45 429.5h1M474 429.5h1M475 430.5h1M43 431.5h1M42 432.5h1M477 432.5h1M478 433.5h1M40 434.5h1M39 435.5h1M480 435.5h1M481 436.5h1M37 437.5h1M36 438.5h1M483 438.5h1M484 439.5h1M34 440.5h1M33 441.5h1M486 441.5h1M487 442.5h1M31 443.5h1M31 444.5h1M489 444.5h1M490 445.5h1M29 446.5h1M28 447.5h1M492 447.5h1M492 448.5h1M26 449.5h1M25 450.5h1M494 450.5h1M495 451.5h1M24 452.5h1M23 453.5h1M496 453.5h1M497 454.5h1M21 455.5h1M20 456.5h1M499 456.5h1M500 457.5h1M19 458.5h1M18 459.5h1M501 459.5h1M502 460.5h1M17 461.5h1M16 462.5h1M504 462.5h1M504 463.5h1M14 464.5h1M14 465.5h1M506 465.5h1M507 466.5h1M12 467.5h1M11 468.5h1M508 468.5h1M509 469.5h1M10 470.5h1M9 471.5h1M510 471.5h1M511 472.5h1M8 473.5h1M7 474.5h1M512 474.5h1M513 475.5h1M6 476.5h1M5 477.5h1M514 477.5h1M515 478.5h1M4 479.5h1M3 480.5h1M516 480.5h1M517 481.5h1M2 482.5h1M1 483.5h1M518 483.5h1M519 484.5h1M0 485.5h1M0 486.5h1M520 486.5h1M520 487.5h1M522 489.5h1M522 490.5h1M523 492.5h1M524 493.5h1M525 495.5h1M526 496.5h1M527 498.5h1M527 499.5h1M528 501.5h1M529 502.5h1M530 504.5h1M530 505.5h1M531 507.5h1M532 508.5h1M533 510.5h1M533 511.5h1M534 513.5h1M535 514.5h1M536 516.5h1M536 517.5h1M537 519.5h1M538 520.5h1M539 522.5h1M539 523.5h1M540 525.5h1M540 526.5h1M541 528.5h1M542 529.5h1M542 531.5h1M543 532.5h1M544 534.5h1M544 535.5h1M545 537.5h1M545 538.5h1M546 540.5h1M546 541.5h1M547 543.5h1M547 544.5h1M548 546.5h1M548 547.5h1M549 549.5h1M549 550.5h1M550 552.5h1M550 553.5h1M551 555.5h1M551 556.5h1M552 558.5h1M552 559.5h1M553 561.5h1M553 562.5h1M554 564.5h1M554 565.5h1M554 567.5h1M555 568.5h1M555 570.5h1M555 571.5h1M556 573.5h1M556 574.5h1M557 576.5h1M557 577.5h1M557 579.5h1M557 580.5h1M558 582.5h1M558 583.5h1M558 585.5h1M559 586.5h1M559 588.5h1M559 589.5h1M560 591.5h1M560 592.5h1M560 594.5h1M560 595.5h1M561 597.5h1M561 598.5h1M561 600.5h1M561 601.5h1M562 603.5h1M562 604.5h1M562 606.5h1M562 607.5h1M562 609.5h1M562 610.5h1M563 612.5h1M563 613.5h1M563 615.5h1M563 616.5h1M563 618.5h1M563 619.5h1M563 621.5h1M564 622.5h1M564 624.5h1M564 625.5h1M564 627.5h1M564 628.5h1M564 630.5h1M564 631.5h1M564 633.5h1M564 634.5h1M564 636.5h1M564 637.5h1M564 639.5h1M564 640.5h1M564 642.5h1M564 643.5h1M564 645.5h1M564 648.5h1M564 651.5h1M564 654.5h1M564 657.5h1M564 660.5h1M564 663.5h1M564 666.5h1M563 669.5h1M563 672.5h1M563 675.5h1M563 678.5h1M562 681.5h1M562 684.5h1M561 687.5h1M561 690.5h1M561 693.5h1M560 696.5h1M560 699.5h1M559 702.5h1M558 705.5h1M558 708.5h1M557 711.5h1M556 714.5h1M556 717.5h1M555 720.5h1M554 723.5h1M553 726.5h1M553 729.5h1M552 732.5h1M551 735.5h1M550 738.5h1M549 741.5h1M548 744.5h1M547 747.5h1M546 750.5h1M545 753.5h1M543 756.5h1M542 759.5h1M541 762.5h1M540 765.5h1M538 768.5h1M537 771.5h1M536 774.5h1M534 777.5h1M533 780.5h1M531 783.5h1M530 786.5h1M528 789.5h1M527 792.5h1M525 795.5h1M523 798.5h1M521 801.5h1M520 804.5h1M0 806.5h1M518 807.5h1M2 809.5h1M516 810.5h1M4 812.5h1M514 813.5h1M6 815.5h1M512 816.5h1M8 818.5h1M510 819.5h1M10 821.5h1M508 822.5h1M12 824.5h1M505 825.5h1M14 827.5h1M503 828.5h1M16 830.5h1M501 831.5h1M19 833.5h1M499 834.5h1M21 836.5h1M496 837.5h1M24 839.5h1M494 840.5h1M26 842.5h1M491 843.5h1M29 845.5h1M489 846.5h1M31 848.5h1M486 849.5h1" stroke="#2a8a8a" style="shape-rendering:auto"/>
<path d="M269 339.5h2M272 339.5h2M275 339.5h2M278 339.5h2M281 339.5h2M284 339.5h2M287 339.5h2M290 339.5h2M293 339.5h2M296 339.5h2M299 339.5h2M302 339.5h2M305 339.5h2M308 339.5h2M311 339.5h2M255 340.5h1M257 340.5h2M260 340.5h2M263 340.5h2M266 340.5h2M314 340.5h2M317 340.5h2M320 340.5h2M323 340.5h2M326 340.5h1M246 341.5h1M248 341.5h2M251 341.5h2M254 341.5h1M327 341.5h1M329 341.5h2M332 341.5h2M335 341.5h1M239 342.5h2M242 342.5h2M245 342.5h1M336 342.5h1M338 342.5h2M341 342.5h2M231 343.5h1M233 343.5h2M236 343.5h2M344 343.5h2M347 343.5h2M225 344.5h1M227 344.5h2M230 344.5h1M350 344.5h2M353 344.5h2M221 345.5h2M224 345.5h1M356 345.5h2M359 345.5h2M215 346.5h2M218 346.5h2M362 346.5h2M365 346.5h2M210 347.5h1M212 347.5h2M368 347.5h2M371 347.5h1M206 348.5h2M209 348.5h1M372 348.5h1M374 348.5h2M201 349.5h1M203 349.5h2M377 349.5h2M197 350.5h2M200 350.5h1M380 350.5h2M383 350.5h1M194 351.5h2M384 351.5h1M386 351.5h2M189 352.5h1M191 352.5h2M389 352.5h2M186 353.5h1M188 353.5h1M392 353.5h2M182 354.5h2M185 354.5h1M395 354.5h2M398 354.5h1M179 355.5h2M399 355.5h1M401 355.5h1M176 356.5h2M402 356.5h1M404 356.5h1M173 357.5h2M405 357.5h1M407 357.5h2M170 358.5h2M410 358.5h2M167 359.5h2M413 359.5h1M164 360.5h2M414 360.5h1M416 360.5h1M161 361.5h2M417 361.5h1M419 361.5h1M159 362.5h1M420 362.5h1M422 362.5h1M156 363.5h1M158 363.5h1M423 363.5h1M153 364.5h1M155 364.5h1M425 364.5h2M152 365.5h1M428 365.5h2M149 366.5h2M431 366.5h2M146 367.5h2M434 367.5h2M143 368.5h2M437 368.5h1M141 369.5h1M438 369.5h1M440 369.5h1M140 370.5h1M441 370.5h1M137 371.5h2M443 371.5h2M134 372.5h2M446 372.5h1M132 373.5h1M447 373.5h1M131 374.5h1M449 374.5h2M128 375.5h2M452 375.5h2M126 376.5h1M455 376.5h1M125 377.5h1M456 377.5h1M122 378.5h2M458 378.5h2M120 379.5h1M461 379.5h1M119 380.5h1M462 380.5h1M116 381.5h2M464 381.5h2M114 382.5h1M467 382.5h1M113 383.5h1M468 383.5h1M110 384.5h2M470 384.5h2M108 385.5h1M107 386.5h1M473 386.5h2M105 387.5h1M476 387.5h1M104 388.5h1M477 388.5h1M101 389.5h2M479 389.5h2M99 390.5h1M98 391.5h1M482 391.5h2M96 392.5h1M485 392.5h1M95 393.5h1M486 393.5h1M92 394.5h2M488 394.5h1M489 395.5h1M89 396.5h2M491 396.5h1M492 397.5h1M86 398.5h2M494 398.5h1M495 399.5h1M83 400.5h2M497 400.5h1M81 401.5h1M498 401.5h1M80 402.5h1M500 402.5h1M78 403.5h1M501 403.5h1M77 404.5h1M503 404.5h1M75 405.5h1M504 405.5h1M74 406.5h1M506 406.5h1M507 407.5h1M71 408.5h2M509 408.5h1M510 409.5h1M68 410.5h2M512 410.5h1M513 411.5h1M66 412.5h1M515 412.5h1M65 413.5h1M516 413.5h1M63 414.5h1M518 414.5h1M62 415.5h1M519 415.5h1M60 416.5h1M59 417.5h1M521 417.5h2M56 419.5h2M524 419.5h1M525 420.5h1M54 421.5h1M53 422.5h1M527 422.5h2M51 423.5h1M50 424.5h1M530 424.5h1M531 425.5h1M48 426.5h1M533 426.5h1M47 427.5h1M534 427.5h1M45 428.5h1M44 429.5h1M536 429.5h1M537 430.5h1M42 431.5h1M539 431.5h1M41 432.5h1M540 432.5h1M38 434.5h2M542 434.5h1M543 435.5h1M36 436.5h1M35 437.5h1M545 437.5h1M546 438.5h1M33 439.5h1M548 439.5h1M32 440.5h1M549 440.5h1M30 442.5h1M551 442.5h1M29 443.5h1M552 443.5h1M27 445.5h1M554 445.5h1M26 446.5h1M555 446.5h1M24 448.5h1M557 448.5h1M23 449.5h1M558 449.5h1M21 451.5h1M560 451.5h1M20 452.5h1M561 452.5h1M18 454.5h1M563 454.5h1M17 455.5h1M564 455.5h1M15 457.5h1M566 457.5h1M14 458.5h1M567 458.5h1M12 460.5h1M569 460.5h1M12 461.5h1M570 461.5h1M10 463.5h1M572 463.5h1M9 464.5h1M573 464.5h1M7 466.5h1M575 466.5h1M6 467.5h1M576 467.5h1M4 469.5h1M578 469.5h1M3 470.5h1M578 470.5h1M2 472.5h1M580 472.5h1M1 473.5h1M581 473.5h1M583 475.5h1M583 476.5h1M585 478.5h1M586 479.5h1M588 481.5h1M588 482.5h1M590 484.5h1M591 485.5h1M592 487.5h1M593 488.5h1M595 490.5h1M595 491.5h1M597 493.5h1M598 494.5h1M599 496.5h1M600 497.5h1M601 499.5h1M602 500.5h1M603 502.5h1M604 503.5h1M605 505.5h1M606 506.5h1M607 508.5h1M608 509.5h1M609 511.5h1M610 512.5h1M611 514.5h1M612 515.5h1M613 517.5h1M614 518.5h1M615 520.5h1M616 521.5h1M617 523.5h1M617 524.5h1M619 526.5h1M619 527.5h1M620 529.5h1M621 530.5h1M622 532.5h1M623 533.5h1M624 535.5h1M624 536.5h1M625 538.5h1M626 539.5h1M627 541.5h1M627 542.5h1M629 544.5h1M629 545.5h1M630 547.5h1M631 548.5h1M632 550.5h1M632 551.5h1M633 553.5h1M634 554.5h1M634 556.5h1M635 557.5h1M636 559.5h1M636 560.5h1M637 562.5h1M638 563.5h1M639 565.5h1M639 566.5h1M640 568.5h1M640 569.5h1M641 571.5h1M642 572.5h1M642 574.5h1M643 575.5h1M644 577.5h1M644 578.5h1M645 580.5h1M645 581.5h1M646 583.5h1M646 584.5h1M647 586.5h1M647 587.5h1M648 589.5h1M649 590.5h1M649 592.5h1M650 593.5h1M650 595.5h1M651 596.5h1M651 598.5h1M652 599.5h1M652 601.5h1M653 602.5h1M653 604.5h1M654 605.5h1M654 607.5h1M655 608.5h1M655 610.5h1M655 611.5h1M656 613.5h1M656 614.5h1M657 616.5h1M657 617.5h1M658 619.5h1M658 620.5h1M659 622.5h1M659 623.5h1M659 625.5h1M660 626.5h1M660 628.5h1M660 629.5h1M661 631.5h1M661 632.5h1M661 634.5h1M662 635.5h1M662 637.5h1M662 638.5h1M663 640.5h1M663 641.5h1M663 643.5h1M664 644.5h1M664 646.5h1M664 647.5h1M665 649.5h1M665 650.5h1M665 652.5h1M665 653.5h1M666 655.5h1M666 656.5h1M666 658.5h1M666 659.5h1M667 661.5h1M667 662.5h1M667 664.5h1M667 665.5h1M668 667.5h1M668 668.5h1M668 670.5h1M668 671.5h1M668 673.5h1M668 674.5h1M669 676.5h1M669 677.5h1M669 679.5h1M669 680.5h1M669 682.5h1M669 683.5h1M670 685.5h1M670 686.5h1M670 688.5h1M670 689.5h1M670 691.5h1M670 692.5h1M670 694.5h1M670 695.5h1M670 697.5h1M671 698.5h1M671 700.5h1M671 701.5h1M671 703.5h1M671 704.5h1M671 706.5h1M671 707.5h1M671 709.5h1M671 710.5h1M671 712.5h1M671 713.5h1M671 715.5h1M671 716.5h1M671 718.5h1M671 719.5h1M671 722.5h1M671 725.5h1M671 728.5h1M671 731.5h1M671 734.5h1M671 737.5h1M671 740.5h1M670 743.5h1M670 746.5h1M670 749.5h1M670 752.5h1M669 755.5h1M669 758.5h1M669 761.5h1M668 764.5h1M668 767.5h1M668 770.5h1M667 773.5h1M667 776.5h1M666 779.5h1M666 782.5h1M665 785.5h1M665 788.5h1M664 791.5h1M664 794.5h1M663 797.5h1M662 800.5h1M662 803.5h1M661 806.5h1M660 809.5h1M660 812.5h1M659 815.5h1M658 818.5h1M657 821.5h1M656 824.5h1M655 827.5h1M655 830.5h1M654 833.5h1M653 836.5h1M652 839.5h1M651 842.5h1M650 845.5h1M649 848.5h1" stroke="#006800" style="shape-rendering:auto"/>
<path d="M263 348.5h2M266 348.5h2M269 348.5h2M272 348.5h2M275 348.5h2M278 348.5h2M281 348.5h2M284 348.5h2M287 348.5h2M290 348.5h2M293 348.5h2M296 348.5h2M299 348.5h2M302 348.5h2M305 348.5h2M308 348.5h2M311 348.5h2M251 349.5h2M254 349.5h2M257 349.5h2M260 349.5h2M314 349.5h2M317 349.5h2M320 349.5h2M323 349.5h2M242 350.5h2M245 350.5h2M248 350.5h2M326 350.5h2M329 350.5h2M332 350.5h2M234 351.5h1M236 351.5h2M239 351.5h2M335 351.5h2M338 351.5h2M341 351.5h1M227 352.5h2M230 352.5h2M233 352.5h1M342 352.5h1M344 352.5h2M347 352.5h2M221 353.5h2M224 353.5h2M350 353.5h2M353 353.5h2M216 354.5h1M218 354.5h2M356 354.5h2M359 354.5h1M212 355.5h2M215 355.5h1M360 355.5h1M362 355.5h2M206 356.5h2M209 356.5h2M365 356.5h2M368 356.5h2M203 357.5h2M371 357.5h2M198 358.5h1M200 358.5h2M374 358.5h2M377 358.5h1M194 359.5h2M197 359.5h1M378 359.5h1M380 359.5h2M191 360.5h2M383 360.5h2M186 361.5h1M188 361.5h2M386 361.5h2M389 361.5h1M183 362.5h1M185 362.5h1M390 362.5h1M392 362.5h1M179 363.5h2M182 363.5h1M393 363.5h1M395 363.5h2M176 364.5h2M398 364.5h2M173 365.5h2M401 365.5h2M170 366.5h2M404 366.5h2M167 367.5h2M407 367.5h2M164 368.5h2M410 368.5h2M161 369.5h2M413 369.5h2M158 370.5h2M416 370.5h2M155 371.5h2M419 371.5h2M153 372.5h1M422 372.5h1M150 373.5h1M152 373.5h1M423 373.5h1M425 373.5h1M147 374.5h1M149 374.5h1M426 374.5h1M428 374.5h1M146 375.5h1M429 375.5h1M143 376.5h2M431 376.5h2M140 377.5h2M434 377.5h2M138 378.5h1M437 378.5h1M135 379.5h1M137 379.5h1M438 379.5h1M440 379.5h1M134 380.5h1M441 380.5h1M131 381.5h2M443 381.5h2M129 382.5h1M446 382.5h1M128 383.5h1M447 383.5h1M125 384.5h2M449 384.5h2M122 385.5h2M452 385.5h2M120 386.5h1M455 386.5h1M119 387.5h1M456 387.5h1M116 388.5h2M458 388.5h2M114 389.5h1M461 389.5h1M113 390.5h1M462 390.5h1M111 391.5h1M464 391.5h1M110 392.5h1M465 392.5h1M107 393.5h2M467 393.5h2M105 394.5h1M470 394.5h1M104 395.5h1M471 395.5h1M101 396.5h2M473 396.5h2M98 398.5h2M476 398.5h2M96 399.5h1M479 399.5h1M95 400.5h1M480 400.5h1M93 401.5h1M482 401.5h1M92 402.5h1M483 402.5h1M90 403.5h1M485 403.5h1M89 404.5h1M486 404.5h1M86 405.5h2M488 405.5h2M83 407.5h2M491 407.5h2M494 408.5h1M80 409.5h2M495 409.5h1M78 410.5h1M497 410.5h1M77 411.5h1M498 411.5h1M75 412.5h1M500 412.5h1M74 413.5h1M501 413.5h1M71 415.5h2M503 415.5h2M68 417.5h2M506 417.5h2M65 419.5h2M509 419.5h2M63 421.5h1M512 421.5h1M62 422.5h1M513 422.5h1M60 423.5h1M515 423.5h1M59 424.5h1M516 424.5h1M57 425.5h1M518 425.5h1M56 426.5h1M519 426.5h1M53 428.5h2M521 428.5h2M51 430.5h1M524 430.5h1M50 431.5h1M525 431.5h1M48 432.5h1M527 432.5h1M47 433.5h1M528 433.5h1M45 435.5h1M530 435.5h1M44 436.5h1M531 436.5h1M42 437.5h1M533 437.5h1M41 438.5h1M534 438.5h1M39 440.5h1M536 440.5h1M38 441.5h1M537 441.5h1M36 442.5h1M539 442.5h1M35 443.5h1M540 443.5h1M33 445.5h1M542 445.5h1M32 446.5h1M543 446.5h1M30 448.5h1M545 448.5h1M29 449.5h1M546 449.5h1M27 451.5h1M548 451.5h1M26 452.5h1M549 452.5h1M24 454.5h1M551 454.5h1M23 455.5h1M552 455.5h1M554 456.5h1M21 457.5h1M555 457.5h1M20 458.5h1M557 459.5h1M18 460.5h1M558 460.5h1M17 461.5h1M560 462.5h1M15 463.5h1M561 463.5h1M14 464.5h1M563 465.5h1M12 466.5h1M564 466.5h1M11 467.5h1M566 468.5h1M10 469.5h1M567 469.5h1M9 470.5h1M569 471.5h1M7 472.5h1M570 472.5h1M6 473.5h1M571 474.5h1M4 475.5h1M572 475.5h1M3 476.5h1M574 477.5h1M2 478.5h1M575 478.5h1M1 479.5h1M577 480.5h1M578 481.5h1M579 483.5h1M580 484.5h1M582 486.5h1M583 487.5h1M584 489.5h1M585 490.5h1M587 492.5h1M587 493.5h1M589 495.5h1M590 496.5h1M591 498.5h1M592 499.5h1M594 501.5h1M594 502.5h1M596 504.5h1M596 505.5h1M598 507.5h1M599 508.5h1M600 510.5h1M601 511.5h1M602 513.5h1M603 514.5h1M604 516.5h1M605 517.5h1M606 519.5h1M607 520.5h1M608 522.5h1M609 523.5h1M610 525.5h1M611 526.5h1M612 528.5h1M612 529.5h1M614 531.5h1M614 532.5h1M615 534.5h1M616 535.5h1M617 537.5h1M618 538.5h1M619 540.5h1M619 541.5h1M621 543.5h1M621 544.5h1M622 546.5h1M623 547.5h1M624 549.5h1M624 550.5h1M625 552.5h1M626 553.5h1M627 555.5h1M627 556.5h1M628 558.5h1M629 559.5h1M630 561.5h1M630 562.5h1M631 564.5h1M632 565.5h1M633 567.5h1M633 568.5h1M634 570.5h1M635 571.5h1M636 573.5h1M636 574.5h1M637 576.5h1M637 577.5h1M638 579.5h1M639 580.5h1M639 582.5h1M640 583.5h1M641 585.5h1M641 586.5h1M642 588.5h1M642 589.5h1M643 591.5h1M643 592.5h1M644 594.5h1M645 595.5h1M645 597.5h1M646 598.5h1M646 600.5h1M647 601.5h1M647 603.5h1M648 604.5h1M648 606.5h1M649 607.5h1M649 609.5h1M650 610.5h1M650 612.5h1M651 613.5h1M651 615.5h1M652 616.5h1M652 618.5h1M653 619.5h1M653 621.5h1M653 622.5h1M654 624.5h1M654 625.5h1M655 627.5h1M655 628.5h1M656 630.5h1M656 631.5h1M656 633.5h1M657 634.5h1M657 636.5h1M657 637.5h1M658 639.5h1M658 640.5h1M659 642.5h1M659 643.5h1M659 645.5h1M660 646.5h1M660 648.5h1M660 649.5h1M661 651.5h1M661 652.5h1M661 654.5h1M661 655.5h1M662 657.5h1M662 658.5h1M662 660.5h1M663 661.5h1M663 663.5h1M663 664.5h1M663 666.5h1M664 667.5h1M664 669.5h1M664 670.5h1M664 672.5h1M664 673.5h1M665 675.5h1M665 676.5h1M665 678.5h1M665 679.5h1M666 681.5h1M666 682.5h1M666 684.5h1M666 685.5h1M666 687.5h1M666 688.5h1M667 690.5h1M667 691.5h1M667 693.5h1M667 694.5h1M667 696.5h1M667 697.5h1M667 699.5h1M667 700.5h1M668 702.5h1M668 703.5h1M668 705.5h1M668 706.5h1M668 708.5h1M668 709.5h1M668 711.5h1M668 712.5h1M668 714.5h1M668 715.5h1M668 717.5h1M668 718.5h1M668 720.5h1M668 721.5h1M668 723.5h1M668 724.5h1M668 726.5h1M668 727.5h1M668 728.5h1M668 731.5h1M668 734.5h1M668 737.5h1M668 740.5h1M668 743.5h1M668 746.5h1M668 749.5h1M668 752.5h1M667 755.5h1M667 758.5h1M667 761.5h1M667 764.5h1M666 767.5h1M666 770.5h1M666 773.5h1M665 776.5h1M665 779.5h1M665 782.5h1M664 785.5h1M664 788.5h1M663 791.5h1M663 794.5h1M662 797.5h1M661 800.5h1M661 803.5h1M660 806.5h1M660 809.5h1M659 812.5h1M658 815.5h1M658 818.5h1M657 821.5h1M656 824.5h1M655 827.5h1M654 830.5h1M654 833.5h1M653 836.5h1M652 839.5h1M651 842.5h1M650 845.5h1M649 848.5h1" stroke="#800000" style="shape-rendering:auto"/>
<path d="M227 350.5h2M230 350.5h2M233 350.5h2M236 350.5h2M239 350.5h2M242 350.5h2M245 350.5h2M248 350.5h2M251 350.5h2M254 350.5h2M257 350.5h2M260 350.5h2M263 350.5h2M266 350.5h2M269 350.5h2M272 350.5h2M275 350.5h2M278 350.5h2M281 350.5h1M216 351.5h1M218 351.5h2M221 351.5h2M224 351.5h2M282 351.5h1M284 351.5h2M287 351.5h2M290 351.5h2M293 351.5h1M207 352.5h1M209 352.5h2M212 352.5h2M215 352.5h1M294 352.5h1M296 352.5h2M299 352.5h2M302 352.5h1M200 353.5h2M203 353.5h2M206 353.5h1M303 353.5h1M305 353.5h2M308 353.5h2M194 354.5h2M197 354.5h2M311 354.5h2M314 354.5h2M188 355.5h2M191 355.5h2M317 355.5h2M320 355.5h2M182 356.5h2M185 356.5h2M323 356.5h2M326 356.5h1M177 357.5h1M179 357.5h2M327 357.5h1M329 357.5h2M332 357.5h1M173 358.5h2M176 358.5h1M333 358.5h1M335 358.5h2M168 359.5h1M170 359.5h2M338 359.5h2M341 359.5h1M164 360.5h2M167 360.5h1M342 360.5h1M344 360.5h2M161 361.5h2M347 361.5h2M156 362.5h1M158 362.5h2M350 362.5h2M353 362.5h1M153 363.5h1M155 363.5h1M354 363.5h1M356 363.5h1M149 364.5h2M152 364.5h1M357 364.5h1M359 364.5h2M146 365.5h2M362 365.5h2M143 366.5h2M365 366.5h2M140 367.5h2M368 367.5h2M137 368.5h2M371 368.5h2M134 369.5h2M374 369.5h2M131 370.5h2M377 370.5h2M128 371.5h2M380 371.5h2M125 372.5h2M383 372.5h2M122 373.5h2M386 373.5h2M119 374.5h2M389 374.5h2M117 375.5h1M392 375.5h1M114 376.5h1M116 376.5h1M393 376.5h1M395 376.5h1M113 377.5h1M396 377.5h1M110 378.5h2M398 378.5h2M107 379.5h2M401 379.5h2M104 380.5h2M404 380.5h1M102 381.5h1M405 381.5h1M407 381.5h1M101 382.5h1M408 382.5h1M98 383.5h2M410 383.5h2M95 384.5h2M413 384.5h1M93 385.5h1M414 385.5h1M92 386.5h1M416 386.5h2M89 387.5h2M419 387.5h2M87 388.5h1M422 388.5h1M86 389.5h1M423 389.5h1M83 390.5h2M425 390.5h2M81 391.5h1M428 391.5h1M80 392.5h1M429 392.5h1M77 393.5h2M431 393.5h2M75 394.5h1M74 395.5h1M434 395.5h2M72 396.5h1M437 396.5h1M71 397.5h1M438 397.5h1M68 398.5h2M440 398.5h2M66 399.5h1M65 400.5h1M443 400.5h2M63 401.5h1M446 401.5h1M62 402.5h1M447 402.5h1M59 403.5h2M449 403.5h1M450 404.5h1M56 405.5h2M452 405.5h2M53 407.5h2M455 407.5h2M51 408.5h1M50 409.5h1M458 409.5h2M48 410.5h1M461 410.5h1M47 411.5h1M462 411.5h1M45 412.5h1M464 412.5h1M44 413.5h1M465 413.5h1M42 414.5h1M467 414.5h1M41 415.5h1M468 415.5h1M39 416.5h1M470 416.5h1M38 417.5h1M471 417.5h1M36 418.5h1M35 419.5h1M473 419.5h2M32 421.5h2M476 421.5h2M29 423.5h2M479 423.5h1M480 424.5h1M27 425.5h1M482 425.5h1M26 426.5h1M483 426.5h1M24 427.5h1M485 427.5h1M23 428.5h1M486 428.5h1M21 429.5h1M20 430.5h1M488 430.5h2M18 432.5h1M491 432.5h1M17 433.5h1M492 433.5h1M15 434.5h1M494 434.5h1M14 435.5h1M495 435.5h1M12 437.5h1M497 437.5h1M11 438.5h1M498 438.5h1M9 439.5h1M500 439.5h1M8 440.5h1M501 440.5h1M6 442.5h1M503 442.5h1M5 443.5h1M504 443.5h1M3 444.5h1M2 445.5h1M506 445.5h2M0 447.5h1M509 447.5h1M510 448.5h1M512 450.5h1M513 451.5h1M515 453.5h1M516 454.5h1M518 456.5h1M519 457.5h1M521 458.5h1M522 459.5h1M524 461.5h1M525 462.5h1M527 464.5h1M528 465.5h1M530 467.5h1M531 468.5h1M533 470.5h1M534 471.5h1M536 473.5h1M537 474.5h1M538 476.5h1M539 477.5h1M541 479.5h1M542 480.5h1M544 482.5h1M545 483.5h1M546 485.5h1M547 486.5h1M549 488.5h1M550 489.5h1M551 491.5h1M552 492.5h1M554 494.5h1M554 495.5h1M556 497.5h1M557 498.5h1M558 500.5h1M559 501.5h1M560 503.5h1M561 504.5h1M563 506.5h1M563 507.5h1M565 509.5h1M566 510.5h1M567 512.5h1M568 513.5h1M569 515.5h1M570 516.5h1M571 518.5h1M572 519.5h1M573 521.5h1M574 522.5h1M575 524.5h1M576 525.5h1M577 527.5h1M577 528.5h1M579 530.5h1M579 531.5h1M581 533.5h1M581 534.5h1M582 536.5h1M583 537.5h1M584 539.5h1M585 540.5h1M586 542.5h1M586 543.5h1M588 545.5h1M588 546.5h1M589 548.5h1M590 549.5h1M591 551.5h1M591 552.5h1M592 554.5h1M593 555.5h1M594 557.5h1M594 558.5h1M595 560.5h1M596 561.5h1M597 563.5h1M597 564.5h1M598 566.5h1M599 567.5h1M600 569.5h1M600 570.5h1M601 572.5h1M602 573.5h1M602 575.5h1M603 576.5h1M604 578.5h1M604 579.5h1M605 581.5h1M606 582.5h1M606 584.5h1M607 585.5h1M608 587.5h1M608 588.5h1M609 590.5h1M609 591.5h1M610 593.5h1M610 594.5h1M611 596.5h1M611 597.5h1M612 599.5h1M613 600.5h1M613 602.5h1M614 603.5h1M614 605.5h1M615 606.5h1M615 608.5h1M616 609.5h1M616 611.5h1M617 612.5h1M617 614.5h1M618 615.5h1M618 617.5h1M619 618.5h1M619 620.5h1M619 621.5h1M620 623.5h1M620 624.5h1M621 626.5h1M621 627.5h1M622 629.5h1M622 630.5h1M623 632.5h1M623 633.5h1M623 635.5h1M624 636.5h1M624 638.5h1M624 639.5h1M625 641.5h1M625 642.5h1M626 644.5h1M626 645.5h1M626 647.5h1M626 648.5h1M627 650.5h1M627 651.5h1M627 653.5h1M628 654.5h1M628 656.5h1M628 657.5h1M629 659.5h1M629 660.5h1M629 662.5h1M629 663.5h1M630 665.5h1M630 666.5h1M630 668.5h1M630 669.5h1M631 671.5h1M631 672.5h1M631 674.5h1M631 675.5h1M632 677.5h1M632 678.5h1M632 680.5h1M632 681.5h1M632 683.5h1M633 684.5h1M633 686.5h1M633 687.5h1M633 689.5h1M633 690.5h1M633 692.5h1M634 693.5h1M634 695.5h1M634 696.5h1M634 698.5h1M634 699.5h1M634 701.5h1M634 702.5h1M634 704.5h1M634 705.5h1M635 707.5h1M635 708.5h1M635 710.5h1M635 711.5h1M635 713.5h1M635 714.5h1M635 716.5h1M635 717.5h1M635 719.5h1M635 720.5h1M635 722.5h1M635 723.5h1M635 725.5h1M635 726.5h1M635 728.5h1M635 729.5h1M635 730.5h1M635 733.5h1M635 736.5h1M635 739.5h1M635 742.5h1M635 745.5h1M635 748.5h1M635 751.5h1M635 754.5h1M634 757.5h1M634 760.5h1M634 763.5h1M634 766.5h1M633 769.5h1M633 772.5h1M633 775.5h1M632 778.5h1M632 781.5h1M631 784.5h1M631 787.5h1M630 790.5h1M630 793.5h1M629 796.5h1M629 799.5h1M628 802.5h1M628 805.5h1M627 808.5h1M626 811.5h1M626 814.5h1M625 817.5h1M624 820.5h1M624 823.5h1M623 826.5h1M622 829.5h1M621 832.5h1M620 835.5h1M620 838.5h1M619 841.5h1M618 844.5h1M617 847.5h1" stroke="#000000" style="shape-rendering:auto"/>
<path d="M0.0 227.5 C6.7 226.2 27.5 221.7 40.0 220.0 C52.5 218.3 60.8 217.8 75.0 217.5 C89.2 217.2 104.2 216.0 125.0 218.5 C145.8 221.0 179.2 227.2 200.0 232.5 C220.8 237.8 233.3 243.3 250.0 250.0 C266.7 256.7 282.3 262.3 300.0 272.5 C317.7 282.7 341.0 299.4 356.0 311.0 C371.0 322.6 380.3 332.3 390.0 342.0 C399.7 351.7 410.0 364.5 414.0 369.0" stroke="#000090"/>
<path d="M458.0 388.0 C460.0 386.5 461.3 384.3 470.0 379.0 C478.7 373.7 498.2 362.2 510.0 356.0 C521.8 349.8 527.7 347.3 541.0 342.0 C554.3 336.7 573.5 328.6 590.0 324.0 C606.5 319.4 620.0 316.9 640.0 314.4 C660.0 311.9 686.4 308.4 709.7 309.0 C733.0 309.6 756.6 313.5 780.0 318.0 C803.4 322.5 838.3 332.8 850.0 335.8" stroke="#000090"/>
<path d="M536.0 291.0 C538.0 289.8 544.0 286.2 548.0 284.0 C552.0 281.8 553.8 281.1 560.0 277.5 C566.2 273.9 574.2 267.9 585.0 262.5 C595.8 257.1 612.5 250.4 625.0 245.0 C637.5 239.6 643.4 235.2 660.0 230.0 C676.6 224.8 703.6 217.4 724.7 214.0 C745.8 210.6 765.6 209.7 786.5 209.5 C807.4 209.3 839.4 212.4 850.0 213.0" stroke="#006800"/>
<path d="M515.0 0.0 C517.0 5.0 523.5 20.0 527.0 30.0 C530.5 40.0 532.2 43.7 536.0 60.0 C539.8 76.3 546.8 106.8 549.6 128.0 C552.4 149.2 553.3 168.2 553.0 187.0 C552.7 205.8 550.0 224.4 548.0 240.6 C546.0 256.8 543.0 275.4 541.0 284.0 C539.0 292.6 536.8 290.7 536.0 292.0" stroke="#000058"/>
<path d="M531.0 308.0 C530.5 309.0 528.5 313.0 528.0 314.0" stroke="#000058"/>
<path d="M518.0 343.0 C516.7 345.3 514.0 349.2 510.0 357.0 C506.0 364.8 496.7 384.5 494.0 390.0" stroke="#000058"/>
<path d="M485.0 405.0 C482.5 408.2 472.5 420.8 470.0 424.0" stroke="#000058"/>
<path d="M461.0 13.4 C466.0 23.4 482.7 53.5 491.0 73.5 C499.3 93.5 506.5 114.7 511.0 133.6 C515.5 152.5 517.2 170.3 518.0 187.0 C518.8 203.7 517.2 217.8 516.0 234.0 C514.8 250.2 513.7 270.7 511.0 284.0 C508.3 297.3 501.8 309.0 500.0 314.0" stroke="#00a000"/>
<path d="M490.0 338.0 C489.7 339.3 489.5 342.3 488.0 346.0 C486.5 349.7 484.0 354.3 481.0 360.0 C478.0 365.7 473.2 374.7 470.0 380.0 C466.8 385.3 467.3 384.5 462.0 392.0 C456.7 399.5 446.0 414.7 438.0 425.0 C430.0 435.3 423.7 444.2 414.0 454.0 C404.3 463.8 393.3 474.5 380.0 484.0 C366.7 493.5 344.3 505.2 334.0 511.0 C323.7 516.8 327.7 515.0 318.0 519.0 C308.3 523.0 290.7 530.5 276.0 535.0 C261.3 539.5 244.3 543.3 230.0 546.0 C215.7 548.7 203.3 550.3 190.0 551.0 C176.7 551.7 158.3 550.2 150.0 550.0 C141.7 549.8 150.0 551.3 140.0 550.0 C130.0 548.7 106.7 546.0 90.0 542.0 C73.3 538.0 55.0 532.0 40.0 526.0 C25.0 520.0 6.7 509.3 0.0 506.0" stroke="#00a000"/>
<path d="M444.0 0.0 C446.3 4.0 453.8 16.3 458.0 24.0 C462.2 31.7 464.8 35.8 469.0 46.0 C473.2 56.2 478.8 71.3 483.0 85.0 C487.2 98.7 491.2 114.3 494.0 128.0 C496.8 141.7 499.2 150.5 499.5 167.0 C499.8 183.5 498.2 207.5 496.0 227.0 C493.8 246.5 489.3 269.8 486.0 284.0 C482.7 298.2 477.7 307.3 476.0 312.0" stroke="#2a8a8a"/>
<path d="M464.0 342.0 C461.3 346.3 450.7 363.7 448.0 368.0" stroke="#2a8a8a"/>
<path d="M390.0 441.0 C386.7 443.8 378.3 451.2 370.0 458.0 C361.7 464.8 350.0 475.5 340.0 482.0 C330.0 488.5 317.3 493.5 310.0 497.0 C302.7 500.5 298.3 502.0 296.0 503.0" stroke="#2a8a8a"/>
<path d="M251.0 521.6 C244.2 523.0 223.5 527.7 210.0 530.0 C196.5 532.3 183.3 534.8 170.0 535.6 C156.7 536.4 145.0 536.3 130.0 535.0 C115.0 533.7 96.7 531.8 80.0 528.0 C63.3 524.2 43.3 516.7 30.0 512.0 C16.7 507.3 5.0 502.0 0.0 500.0" stroke="#2a8a8a"/>
<path d="M0.0 327.4 C9.3 324.8 38.7 315.2 56.0 311.6 C73.3 308.0 89.3 306.6 104.0 305.6 C118.7 304.6 133.0 305.1 144.0 305.6 C155.0 306.1 159.0 306.7 170.0 308.6 C181.0 310.5 193.3 312.1 210.0 317.0 C226.7 321.9 256.5 332.7 270.0 338.0 C283.5 343.3 287.5 347.2 291.0 349.0" stroke="#823082"/>
<path d="M310.0 360.0 C316.7 366.0 337.3 385.0 350.0 396.0 C362.7 407.0 380.0 421.0 386.0 426.0" stroke="#823082"/>
<path d="M0.0 581.0 C7.2 582.7 33.1 588.6 43.4 591.0 C53.7 593.4 47.0 593.8 62.0 595.4 C77.0 597.0 110.5 600.8 133.6 600.4 C156.7 600.0 185.9 594.4 200.5 592.7 C215.1 591.0 209.4 593.1 221.0 590.0 C232.6 586.9 253.8 579.8 270.0 574.0 C286.2 568.2 304.7 561.0 318.0 555.0 C331.3 549.0 336.3 547.2 350.0 538.0 C363.7 528.8 386.7 510.7 400.0 500.0 C413.3 489.3 420.3 483.0 430.0 474.0 C439.7 465.0 453.3 450.7 458.0 446.0" stroke="#000058"/>
<path d="M396.0 442.0 C390.0 449.3 371.0 471.0 360.0 486.0 C349.0 501.0 338.3 517.3 330.0 532.0 C321.7 546.7 314.3 564.3 310.0 574.0 C305.7 583.7 307.2 580.2 304.0 590.0 C300.8 599.8 295.2 612.0 291.0 633.0 C286.8 654.0 280.2 688.2 279.0 716.0 C277.8 743.8 282.3 779.8 284.0 800.0 C285.7 820.2 288.2 830.8 289.0 837.0" stroke="#000090"/>
<path d="M398.0 442.0 C402.0 447.7 413.3 460.3 422.0 476.0 C430.7 491.7 443.3 518.7 450.0 536.0 C456.7 553.3 458.8 563.8 462.0 580.0 C465.2 596.2 468.7 613.0 469.4 633.0 C470.1 653.0 469.6 677.2 466.0 700.0 C462.4 722.8 455.8 747.2 447.7 770.0 C439.6 792.8 422.6 825.5 417.6 836.6" stroke="#823082"/>
<path d="M410.0 441.0 C407.3 447.5 399.3 466.2 394.0 480.0 C388.7 493.8 382.5 507.3 378.0 524.0 C373.5 540.7 369.6 561.8 367.0 580.0 C364.4 598.2 361.8 611.3 362.5 633.0 C363.2 654.7 365.8 683.3 371.0 710.0 C376.2 736.7 386.8 771.9 394.0 793.0 C401.2 814.1 410.7 829.3 414.0 836.6" stroke="#006800"/>
<path d="M202.0 447.6 C209.3 447.7 231.3 446.8 246.0 448.0 C260.7 449.2 277.7 452.7 290.0 455.0 C302.3 457.3 310.0 459.0 320.0 462.0 C330.0 465.0 338.3 468.0 350.0 473.0 C361.7 478.0 376.7 484.2 390.0 492.0 C403.3 499.8 415.8 508.7 430.0 520.0 C444.2 531.3 463.3 548.3 475.0 560.0 C486.7 571.7 490.7 576.8 500.0 590.0 C509.3 603.2 522.5 622.8 531.0 639.5 C539.5 656.2 546.0 675.2 551.0 690.0 C556.0 704.8 558.5 713.8 561.0 728.0 C563.5 742.2 565.2 761.0 566.0 775.0 C566.8 789.0 566.4 801.7 566.0 812.0 C565.6 822.3 563.9 832.8 563.5 837.0" stroke="#0000b4"/>
<path d="M458.0 442.0 C459.3 442.7 464.0 444.2 466.0 446.0 C468.0 447.8 466.0 444.0 470.0 453.0 C474.0 462.0 484.5 483.8 490.0 500.0 C495.5 516.2 499.5 535.0 503.0 550.0 C506.5 565.0 509.1 573.4 511.0 590.0 C512.9 606.6 514.5 634.5 514.5 649.5 C514.5 664.5 512.1 668.2 511.0 680.0 C509.9 691.8 510.6 705.2 508.0 720.0 C505.4 734.8 500.3 754.0 495.7 768.7 C491.1 783.5 485.2 797.3 480.4 808.5 C475.6 819.7 469.0 831.4 466.7 836.0" stroke="#000090"/>
<path d="M138.0 439.0 C140.0 438.3 138.0 438.2 150.0 435.0 C162.0 431.8 191.3 423.2 210.0 420.0 C228.7 416.8 243.7 415.7 262.0 416.0 C280.3 416.3 305.3 420.0 320.0 422.0 C334.7 424.0 345.0 427.0 350.0 428.0" stroke="#7da07d"/>
<path d="M410.0 448.0 C416.7 452.0 440.0 465.5 450.0 472.0 C460.0 478.5 462.8 482.2 470.0 487.2 C477.2 492.1 485.4 495.2 493.0 501.7 C500.6 508.2 509.0 518.3 515.9 526.2 C522.8 534.1 529.4 542.9 534.2 549.0 C539.1 555.1 538.7 552.2 545.0 563.0 C551.3 573.8 565.4 601.4 572.0 614.0 C578.6 626.6 580.7 629.5 584.7 638.8 C588.7 648.1 592.6 656.5 596.0 670.0 C599.4 683.5 603.2 702.5 605.0 720.0 C606.8 737.5 607.8 755.5 607.0 775.0 C606.2 794.5 601.2 826.7 600.0 837.0" stroke="#7da07d"/>
<path d="M173.0 435.0 C182.5 433.3 213.8 427.0 230.0 425.0 C246.2 423.0 255.0 422.5 270.0 423.0 C285.0 423.5 306.0 426.0 320.0 428.0 C334.0 430.0 348.3 433.8 354.0 435.0" stroke="#823082"/>
<path d="M374.0 441.0 C383.3 445.2 414.0 457.7 430.0 466.0 C446.0 474.3 459.5 484.0 470.0 491.0 C480.5 498.0 485.4 501.5 493.0 507.9 C500.6 514.3 509.0 521.9 515.9 529.3 C522.8 536.7 529.6 546.6 534.2 552.2 C538.8 557.8 537.4 553.4 543.4 563.0 C549.4 572.6 563.1 597.4 570.0 610.0 C576.9 622.6 580.7 630.5 584.7 638.8 C588.7 647.1 590.5 648.3 594.0 660.0 C597.5 671.7 603.1 693.7 606.0 709.0 C608.9 724.3 610.6 737.9 611.5 752.0 C612.4 766.1 612.6 779.3 611.5 793.5 C610.4 807.7 606.1 829.8 605.0 837.0" stroke="#823082"/>
<path d="M0.0 580.0 C3.3 575.7 8.5 565.5 20.0 554.0 C31.5 542.5 60.8 518.2 69.0 511.0" stroke="#a08080"/>
<path d="M88.0 497.0 C93.3 494.2 109.7 485.2 120.0 480.0 C130.3 474.8 137.0 470.6 150.0 465.6 C163.0 460.6 187.7 453.3 198.0 450.0 C208.3 446.7 201.3 447.7 212.0 446.0 C222.7 444.3 244.0 440.6 262.0 440.0 C280.0 439.4 302.0 440.4 320.0 442.4 C338.0 444.4 351.7 446.4 370.0 452.0 C388.3 457.6 413.3 468.3 430.0 476.0 C446.7 483.7 459.5 491.9 470.0 498.0 C480.5 504.1 485.4 506.5 493.0 512.5 C500.6 518.5 508.8 526.5 515.9 533.9 C523.0 541.3 531.4 551.7 535.7 556.8 C540.0 561.9 538.2 560.2 541.9 564.4 C545.5 568.6 552.1 574.4 557.6 582.0 C563.1 589.6 569.5 600.9 575.0 610.0 C580.5 619.1 584.8 623.5 590.6 636.5 C596.4 649.5 605.1 672.4 610.0 688.0 C614.9 703.6 617.4 714.0 620.0 730.0 C622.6 746.0 624.8 769.3 625.6 784.0 C626.4 798.7 624.9 812.3 624.7 818.0" stroke="#a08080"/>
<path d="M150.0 368.0 C158.3 366.5 182.7 361.2 200.0 359.0 C217.3 356.8 245.0 355.7 254.0 355.0" stroke="#7da07d"/>
<path d="M310.0 360.0 C316.7 361.3 343.3 366.7 350.0 368.0" stroke="#7da07d"/>
<path d="M486.8 441.4 C491.6 446.9 507.2 464.1 515.9 474.2 C524.6 484.2 532.2 492.8 538.8 501.7 C545.4 510.6 550.4 519.8 555.6 527.7 C560.8 535.6 566.7 543.6 570.0 549.0 C573.3 554.4 572.5 553.7 575.3 560.0 C578.1 566.3 583.7 577.2 587.0 587.0 C590.3 596.8 593.2 610.3 595.3 619.0 C597.4 627.7 598.3 630.5 599.4 639.0 C600.5 647.5 601.6 659.3 602.0 670.0 C602.4 680.7 602.0 690.3 602.0 703.0 C602.0 715.7 603.0 732.5 602.0 746.0 C601.0 759.5 599.9 768.8 596.0 784.0 C592.1 799.2 581.5 828.2 578.6 837.0" stroke="#7da07d"/>
<path d="M150.0 399.0 C157.3 397.3 186.7 390.7 194.0 389.0" stroke="#4f8282"/>
<path d="M96.0 435.0 C100.0 432.8 111.7 426.7 120.0 422.0 C128.3 417.3 133.7 412.4 146.0 407.0 C158.3 401.6 186.0 392.3 194.0 389.4" stroke="#8c648c"/>
<path d="M74.0 432.0 C79.8 429.2 103.2 417.8 109.0 415.0" stroke="#4f8282"/>
<path d="M76.0 428.0 C81.2 425.8 101.8 417.2 107.0 415.0" stroke="#800000" stroke-dasharray="2 1"/>
<path d="M200.0 387.0 C207.3 386.3 229.7 383.8 244.0 383.0 C258.3 382.2 273.3 381.2 286.0 382.0 C298.7 382.8 306.0 384.0 320.0 388.0 C334.0 392.0 355.0 400.7 370.0 406.0 C385.0 411.3 403.3 417.7 410.0 420.0" stroke="#4f8282"/>
<path d="M446.5 441.5 C450.4 444.4 462.2 453.0 470.0 459.0 C477.8 465.0 485.4 470.2 493.0 477.3 C500.6 484.4 509.0 493.5 515.9 501.7 C522.8 509.9 528.6 518.3 534.2 526.2 C539.8 534.1 545.6 543.4 549.5 549.0 C553.4 554.6 553.3 552.3 557.6 560.0 C561.9 567.7 570.4 584.3 575.3 595.3 C580.2 606.3 584.5 618.7 587.0 626.0 C589.5 633.3 588.8 630.0 590.6 639.0 C592.4 648.0 595.8 669.3 598.0 680.0 C600.2 690.7 603.0 690.3 604.0 703.0 C605.0 715.7 607.0 733.7 604.0 756.0 C601.0 778.3 589.0 823.5 586.0 837.0" stroke="#4f8282"/>
<path d="M96.0 440.0 C101.7 436.7 121.0 424.8 130.0 420.0 C139.0 415.2 138.3 415.5 150.0 411.0 C161.7 406.5 184.7 397.5 200.0 393.0 C215.3 388.5 230.3 385.8 242.0 384.0 C253.7 382.2 257.0 382.3 270.0 382.0 C283.0 381.7 305.0 380.8 320.0 382.0 C335.0 383.2 345.7 385.7 360.0 389.0 C374.3 392.3 389.7 396.0 406.0 402.0 C422.3 408.0 449.3 421.2 458.0 425.0" stroke="#0000ff"/>
<path d="M483.0 441.4 C488.5 445.3 506.6 457.5 515.9 465.0 C525.2 472.5 532.2 479.6 538.8 486.5 C545.4 493.4 550.4 500.1 555.6 506.3 C560.8 512.5 563.9 515.0 570.0 524.0 C576.1 533.0 587.4 552.0 592.4 560.0 C597.4 568.0 597.6 567.2 600.0 571.8 C602.4 576.4 603.8 580.7 606.5 587.6 C609.2 594.5 613.6 604.4 616.5 613.0 C619.4 621.6 621.2 627.2 624.0 639.0 C626.8 650.8 631.2 673.3 633.0 684.0 C634.8 694.7 634.3 694.2 635.0 703.0 C635.7 711.8 637.5 723.5 637.0 737.0 C636.5 750.5 635.0 767.3 632.0 784.0 C629.0 800.7 621.2 828.2 619.0 837.0" stroke="#0000ff"/>
<path d="M200.0 386.0 C208.3 384.3 235.0 378.2 250.0 376.0 C265.0 373.8 278.3 373.3 290.0 373.0 C301.7 372.7 310.0 373.2 320.0 374.0 C330.0 374.8 345.0 377.3 350.0 378.0" stroke="#8c648c"/>
<path d="M370.0 382.0 C372.7 382.5 383.3 384.5 386.0 385.0" stroke="#8c648c"/>
<path d="M498.3 439.8 C502.0 442.7 513.5 451.1 520.5 457.4 C527.5 463.6 534.4 471.2 540.3 477.3 C546.1 483.4 550.6 488.6 555.6 494.0 C560.6 499.4 562.5 498.4 570.0 509.4 C577.5 520.4 594.3 549.6 600.6 560.0 C606.9 570.4 605.5 567.2 607.6 571.8 C609.8 576.4 610.6 580.7 613.5 587.6 C616.4 594.5 621.9 604.4 624.7 613.0 C627.6 621.6 628.4 627.8 630.6 639.0 C632.8 650.2 636.4 665.2 638.0 680.0 C639.6 694.8 640.7 708.7 640.0 727.6 C639.3 746.5 637.0 775.3 634.0 793.5 C631.0 811.7 624.0 829.8 622.0 837.0" stroke="#8c648c"/>
<path d="M177.0 374.0 C185.8 373.2 219.5 369.8 230.0 369.0 C240.5 368.2 232.7 368.3 240.0 369.0 C247.3 369.7 260.7 370.8 274.0 373.0 C287.3 375.2 307.3 379.3 320.0 382.0 C332.7 384.7 338.3 385.3 350.0 389.0 C361.7 392.7 376.7 398.2 390.0 404.0 C403.3 409.8 423.3 420.7 430.0 424.0" stroke="#3c0a0a"/>
<path d="M455.3 441.5 C457.8 443.1 463.7 446.6 470.0 451.3 C476.3 456.0 485.4 463.2 493.0 469.6 C500.6 476.0 508.3 481.9 515.9 489.5 C523.5 497.1 532.2 507.6 538.8 515.5 C545.4 523.4 550.4 530.5 555.6 537.0 C560.8 543.5 567.0 550.7 570.0 554.5 C573.0 558.3 570.7 555.6 573.5 560.0 C576.3 564.4 584.1 576.4 587.0 581.0 C589.9 585.6 587.9 582.3 590.6 587.6 C593.4 592.9 599.4 604.4 603.5 613.0 C607.6 621.6 612.2 632.7 615.3 639.0 C618.3 645.3 619.2 643.3 621.8 651.0 C624.4 658.7 629.5 679.3 631.0 685.0" stroke="#3c0a0a"/>
<path d="M638.0 718.0 C638.9 725.2 642.6 754.2 643.5 761.5" stroke="#3c0a0a"/>
<path d="M644.5 778.5 C644.2 788.2 642.9 827.2 642.6 837.0" stroke="#3c0a0a"/>
<path d="M150.0 374.0 C159.3 373.0 188.7 369.8 206.0 368.0 C223.3 366.2 246.0 363.8 254.0 363.0" stroke="#800000"/>
<path d="M310.0 362.0 C317.0 363.0 345.0 367.0 352.0 368.0" stroke="#800000"/>
<path d="M517.4 436.0 C521.0 438.6 532.4 446.5 538.8 451.3 C545.2 456.1 550.4 460.7 555.6 465.0 C560.8 469.3 565.9 473.8 570.0 477.3 C574.1 480.8 578.3 484.6 580.0 486.0" stroke="#800000"/>
<path d="M590.0 498.0 C594.0 502.3 605.7 512.7 614.0 524.0 C622.3 535.3 631.3 551.0 640.0 566.0 C648.7 581.0 659.0 599.3 666.0 614.0 C673.0 628.7 677.5 639.7 682.0 654.0 C686.5 668.3 689.5 680.9 693.0 699.6 C696.5 718.4 701.9 741.4 703.0 766.5 C704.1 791.6 700.2 836.1 699.6 850.0" stroke="#800000"/>
<path d="M274.0 383.0 C281.7 384.0 304.0 385.5 320.0 389.0 C336.0 392.5 353.0 398.8 370.0 404.0 C387.0 409.2 413.3 417.3 422.0 420.0" stroke="#800000" stroke-dasharray="2 1"/>
<path d="M470.0 447.5 C473.8 450.2 485.4 457.8 493.0 463.5 C500.6 469.2 508.3 474.8 515.9 481.9 C523.5 489.0 532.2 498.9 538.8 506.3 C545.4 513.7 550.4 520.1 555.6 526.2 C560.8 532.3 565.8 537.4 570.0 543.0 C574.2 548.6 577.8 555.2 580.6 560.0 C583.4 564.8 584.4 567.2 587.0 571.8 C589.6 576.4 593.0 580.7 596.5 587.6 C600.0 594.5 604.5 604.4 608.0 613.0 C611.5 621.6 614.3 628.5 617.6 639.0 C620.9 649.5 626.3 669.8 628.0 676.0" stroke="#800000" stroke-dasharray="2 1"/>
<path d="M70.0 396.0 C75.0 394.3 89.7 389.0 100.0 386.0 C110.3 383.0 126.7 379.3 132.0 378.0" stroke="#3c0a0a"/>
<path d="M101.0 399.6 C107.2 397.5 131.8 389.1 138.0 387.0" stroke="#800000"/>
<path d="M0.0 426.0 C6.5 423.2 32.5 411.8 39.0 409.0" stroke="#3c0a0a"/>
<path d="M0.0 470.0 C5.3 465.0 26.7 445.0 32.0 440.0" stroke="#7da07d"/>
<path d="M41.0 496.0 C47.5 491.7 68.2 477.7 80.0 470.0 C91.8 462.3 106.7 453.3 112.0 450.0" stroke="#7da07d"/>
<path d="M31.0 496.0 C35.8 491.7 51.2 477.7 60.0 470.0 C68.8 462.3 80.0 453.3 84.0 450.0" stroke="#0000ff"/>
<path d="M28.0 496.0 C36.3 488.3 69.7 457.7 78.0 450.0" stroke="#8c648c"/>
<path d="M40.0 496.0 C46.7 492.7 67.7 481.2 80.0 476.0 C92.3 470.8 108.3 466.8 114.0 465.0" stroke="#0000b4"/>
<path d="M120.0 462.0 C124.7 460.8 143.3 456.2 148.0 455.0" stroke="#0000b4"/>
<path d="M52.0 496.0 C57.7 492.3 74.7 480.8 86.0 474.0 C97.3 467.2 114.3 458.2 120.0 455.0" stroke="#823082"/>
<path d="M0.0 525.0 C4.3 521.2 21.7 505.8 26.0 502.0" stroke="#0000ff"/>
<path d="M0.0 536.0 C4.0 531.3 20.0 512.7 24.0 508.0" stroke="#0000ff"/>
<path d="M0.0 545.0 C5.7 539.5 28.3 517.5 34.0 512.0" stroke="#823082"/>
<path d="M0.0 495.0 C8.7 487.5 43.3 457.5 52.0 450.0" stroke="#4f8282"/>
<path d="M0.0 470.0 C5.3 465.3 26.7 446.7 32.0 442.0" stroke="#800000" stroke-dasharray="2 1"/>
<path d="M0.0 482.0 C7.7 476.7 38.3 455.3 46.0 450.0" stroke="#800000" stroke-dasharray="2 1"/>
<path d="M0.0 476.0 C6.7 471.0 33.3 451.0 40.0 446.0" stroke="#006800" stroke-dasharray="3 2"/>
<path d="M168.0 451.0 C169.7 450.8 176.3 450.2 178.0 450.0" stroke="#0000ff"/>
<path d="M89 400.5h4M95 400.5h4" stroke="#0000ff"/>
<path d="M155.0 451.0 C156.7 451.0 163.3 451.0 165.0 451.0" stroke="#2a8a8a"/>
<path d="M410 425L438 398L458 425" stroke="#000090"/>
<path d="M518.0 308.0 C516.5 309.0 510.5 313.0 509.0 314.0" stroke="#00a000"/>
<path d="M490.0 332.0 C487.8 334.3 479.2 343.7 477.0 346.0" stroke="#00a000"/>
<path d="M446.5 397.4 C450.4 399.2 462.6 404.4 470.0 408.0 C477.4 411.6 487.5 417.2 491.0 419.0" stroke="#800000"/>
<path d="M437.0 405.0 C440.5 406.7 451.3 411.6 458.0 415.0 C464.7 418.4 473.8 423.8 477.0 425.6" stroke="#8c648c"/>
<path d="M430.0 402.6 C433.3 404.5 443.5 410.2 450.0 414.0 C456.5 417.8 465.8 423.7 469.0 425.6" stroke="#7da07d"/>
<path d="M446.5 401.5 C451.2 404.6 470.0 417.2 474.7 420.3" stroke="#3c0a0a" stroke-dasharray="2 1"/>
<path d="M452.4 385.0 C457.1 387.3 475.9 396.7 480.6 399.0" stroke="#800000" stroke-dasharray="2 1"/>
<path d="M461.8 385.0 C459.8 386.4 452.0 391.8 450.0 393.2" stroke="#000090"/>
<path d="M471.0 385.0 C472.8 385.9 480.0 389.4 481.8 390.3" stroke="#006800" stroke-dasharray="2 1"/>
<path d="M488.0 405.0 C491.3 407.1 504.3 415.3 507.6 417.4" stroke="#800000" stroke-dasharray="2 1"/>
<path d="M506.5 405.6 C507.7 407.5 512.3 414.9 513.5 416.8" stroke="#000000" stroke-dasharray="2 1"/>
<path d="M511.0 408.5 C513.2 410.2 521.8 416.8 524.0 418.5" stroke="#006800" stroke-dasharray="2 1"/>
<path d="M436.5 397.7 C433.4 401.8 421.1 417.9 418.0 422.0" stroke="#006800"/>
<path d="M428.7 397.7 C425.2 401.8 411.4 417.9 408.0 422.0" stroke="#2a8a8a"/>
<path d="M638.0 778.5 C637.6 783.4 636.4 798.4 635.5 808.0 C634.6 817.6 633.1 831.3 632.6 836.0" stroke="#800000" stroke-dasharray="1 2"/>
<path d="M425.5 395V456M395 425.5H458" stroke="#000"/>
<path d="M810.5 20V51M810.5 20L800 30.5M810.5 20L821 30.5" stroke="#000"/>
<path d="M750 827.5H800" stroke="#000"/>
<path d="M75 7.5H98" stroke="#000"/>
</g>
<defs><filter id="t"><feComponentTransfer><feFuncA type="discrete" tableValues="0 1"/></feComponentTransfer></filter><filter id="g"><feOffset dx="0" dy="0"/></filter></defs>
<g>
<path d="M133 641.0L136 638.0L139 641.0L136 644.0Z" fill="#000"/>
<svg x="140" y="636" width="122" height="7"><text x="0" y="8" fill="#000000">Lincoln County rural</text></svg>
<svg x="140" y="643" width="122" height="6"><text x="0" y="2" fill="#000000">Lincoln County rural</text></svg>
<path d="M287 684.0L290 681.0L293 684.0L290 687.0Z" fill="#000"/>
<svg x="294" y="679" width="128" height="7"><text x="0" y="8" fill="#000000">Flathead County rural</text></svg>
<svg x="294" y="686" width="128" height="6"><text x="0" y="2" fill="#000000">Flathead County rural</text></svg>
<path d="M260 703.0L263 700.0L266 703.0L263 706.0Z" fill="#000"/>
<svg x="267" y="698" width="56" height="7"><text x="0" y="8" fill="#000000">Kalispell</text></svg>
<svg x="267" y="705" width="56" height="6"><text x="0" y="2" fill="#000000">Kalispell</text></svg>
<path d="M788 635.0L791 632.0L794 635.0L791 638.0Z" fill="#000"/>
<svg x="795" y="630" width="32" height="7"><text x="0" y="8" fill="#000000">Havre</text></svg>
<svg x="795" y="637" width="32" height="6"><text x="0" y="2" fill="#000000">Havre</text></svg>
<path d="M611 820.0L614 817.0L617 820.0L614 823.0Z" fill="#000"/>
<svg x="618" y="815" width="68" height="7"><text x="0" y="8" fill="#000000">Great Falls</text></svg>
<svg x="618" y="822" width="68" height="6"><text x="0" y="2" fill="#000000">Great Falls</text></svg>
<svg x="77" y="2" width="62" height="7"><text x="0" y="8" fill="#8a8468">CJCO-DT 38</text></svg>
<svg x="77" y="9" width="62" height="6"><text x="0" y="2" fill="#8a8468">CJCO-DT 38</text></svg>
<svg x="6" y="2" width="62" height="7"><text x="0" y="8" fill="#000000">--- Zone I</text></svg>
<svg x="6" y="9" width="62" height="6"><text x="0" y="2" fill="#000000">--- Zone I</text></svg>
<svg x="99" y="2" width="110" height="7"><text x="0" y="8" fill="#000000">Zone II Collisions</text></svg>
<svg x="99" y="9" width="110" height="6"><text x="0" y="2" fill="#000000">Zone II Collisions</text></svg>
<rect x="16" y="51" width="60" height="13" fill="#fff"/>
<svg x="16" y="53" width="62" height="7"><text x="0" y="8" fill="#4f8282">CKCS-DT 32</text></svg>
<svg x="16" y="60" width="62" height="6"><text x="0" y="2" fill="#4f8282">CKCS-DT 32</text></svg>
<rect x="-1" y="204" width="60" height="13" fill="#fff"/>
<svg x="-1" y="206" width="62" height="7"><text x="0" y="8" fill="#2a8a8a">CFCN-DT 29</text></svg>
<svg x="-1" y="213" width="62" height="6"><text x="0" y="2" fill="#2a8a8a">CFCN-DT 29</text></svg>
<rect x="171" y="203" width="54" height="13" fill="#fff"/>
<svg x="171" y="205" width="56" height="7"><text x="0" y="8" fill="#3c0a0a">K02AO-D 2</text></svg>
<svg x="171" y="212" width="56" height="6"><text x="0" y="2" fill="#3c0a0a">K02AO-D 2</text></svg>
<rect x="-1" y="361" width="60" height="13" fill="#fff"/>
<svg x="-1" y="363" width="62" height="7"><text x="0" y="8" fill="#2a8a8a">CFCN-14 26</text></svg>
<svg x="-1" y="370" width="62" height="6"><text x="0" y="2" fill="#2a8a8a">CFCN-14 26</text></svg>
<rect x="255" y="350" width="54" height="13" fill="#fff"/>
<svg x="255" y="352" width="56" height="7"><text x="0" y="8" fill="#000000">K02RJ-D 2</text></svg>
<svg x="255" y="359" width="56" height="6"><text x="0" y="2" fill="#000000">K02RJ-D 2</text></svg>
<rect x="139" y="375" width="60" height="13" fill="#fff"/>
<svg x="139" y="377" width="62" height="7"><text x="0" y="8" fill="#7da07d">KTMF-LD 36</text></svg>
<svg x="139" y="384" width="62" height="6"><text x="0" y="2" fill="#7da07d">KTMF-LD 36</text></svg>
<rect x="351" y="368" width="54" height="13" fill="#fff"/>
<svg x="351" y="370" width="56" height="7"><text x="0" y="8" fill="#000000">K03DJ-D 3</text></svg>
<svg x="351" y="377" width="56" height="6"><text x="0" y="2" fill="#000000">K03DJ-D 3</text></svg>
<rect x="414" y="369" width="54" height="13" fill="#fff"/>
<svg x="414" y="371" width="56" height="7"><text x="0" y="8" fill="#000058">K07ZP-D 7</text></svg>
<svg x="414" y="378" width="56" height="6"><text x="0" y="2" fill="#000058">K07ZP-D 7</text></svg>
<rect x="388" y="383" width="60" height="13" fill="#fff"/>
<svg x="388" y="385" width="62" height="7"><text x="0" y="8" fill="#8c648c">K33PR-D 33</text></svg>
<svg x="388" y="392" width="62" height="6"><text x="0" y="2" fill="#8c648c">K33PR-D 33</text></svg>
<rect x="39" y="397" width="42" height="13" fill="#fff"/>
<svg x="39" y="399" width="44" height="7"><text x="0" y="8" fill="#0000ff">CICT-DT</text></svg>
<svg x="39" y="406" width="44" height="6"><text x="0" y="2" fill="#0000ff">CICT-DT</text></svg>
<rect x="83" y="401" width="60" height="13" fill="#fff"/>
<svg x="83" y="403" width="62" height="7"><text x="0" y="8" fill="#a08080">KEXI-LD 35</text></svg>
<svg x="83" y="410" width="62" height="6"><text x="0" y="2" fill="#a08080">KEXI-LD 35</text></svg>
<rect x="35" y="435" width="60" height="13" fill="#fff"/>
<svg x="35" y="437" width="62" height="7"><text x="0" y="8" fill="#88885c">KMJD-LD 34</text></svg>
<svg x="35" y="444" width="62" height="6"><text x="0" y="2" fill="#88885c">KMJD-LD 34</text></svg>
<rect x="112" y="441" width="42" height="13" fill="#fff"/>
<svg x="112" y="443" width="44" height="7"><text x="0" y="8" fill="#2a8a8a">CKAL-DT</text></svg>
<svg x="112" y="450" width="44" height="6"><text x="0" y="2" fill="#2a8a8a">CKAL-DT</text></svg>
<rect x="141" y="436" width="60" height="13" fill="#fff"/>
<svg x="141" y="438" width="62" height="7"><text x="0" y="8" fill="#7da07d">K36KR-D 36</text></svg>
<svg x="141" y="445" width="62" height="6"><text x="0" y="2" fill="#7da07d">K36KR-D 36</text></svg>
<rect x="103" y="486" width="60" height="13" fill="#fff"/>
<svg x="103" y="488" width="62" height="7"><text x="0" y="8" fill="#a08080">K35NB-D 35</text></svg>
<svg x="103" y="495" width="62" height="6"><text x="0" y="2" fill="#a08080">K35NB-D 35</text></svg>
<rect x="26" y="497" width="60" height="13" fill="#fff"/>
<svg x="26" y="499" width="62" height="7"><text x="0" y="8" fill="#8c648c">K33OH-D 33</text></svg>
<svg x="26" y="506" width="62" height="6"><text x="0" y="2" fill="#8c648c">K33OH-D 33</text></svg>
<rect x="-1" y="556" width="60" height="13" fill="#fff"/>
<svg x="-1" y="558" width="62" height="7"><text x="0" y="8" fill="#4f8282">K32HH-D 32</text></svg>
<svg x="-1" y="565" width="62" height="6"><text x="0" y="2" fill="#4f8282">K32HH-D 32</text></svg>
<rect x="222" y="504" width="6" height="13" fill="#fff"/>
<svg x="222" y="506" width="8" height="7"><text x="0" y="8" fill="#00dc00">C</text></svg>
<svg x="222" y="513" width="8" height="6"><text x="0" y="2" fill="#00dc00">C</text></svg>
<rect x="290" y="505" width="42" height="13" fill="#fff"/>
<svg x="290" y="507" width="44" height="7"><text x="0" y="8" fill="#e00000">L-DT 20</text></svg>
<svg x="290" y="514" width="44" height="6"><text x="0" y="2" fill="#e00000">L-DT 20</text></svg>
<rect x="230" y="507" width="60" height="13" fill="#fff"/>
<svg x="230" y="509" width="62" height="7"><text x="0" y="8" fill="#823082">K30MW-D 30</text></svg>
<svg x="230" y="516" width="62" height="6"><text x="0" y="2" fill="#823082">K30MW-D 30</text></svg>
<rect x="-1" y="592" width="60" height="13" fill="#fff"/>
<svg x="-1" y="594" width="62" height="7"><text x="0" y="8" fill="#823082">K30MJ-D 30</text></svg>
<svg x="-1" y="601" width="62" height="6"><text x="0" y="2" fill="#823082">K30MJ-D 30</text></svg>
<rect x="-1" y="611" width="60" height="13" fill="#fff"/>
<svg x="-1" y="613" width="62" height="7"><text x="0" y="8" fill="#8a8a30">K31PD-D 31</text></svg>
<svg x="-1" y="620" width="62" height="6"><text x="0" y="2" fill="#8a8a30">K31PD-D 31</text></svg>
<rect x="-1" y="645" width="72" height="13" fill="#fff"/>
<svg x="-1" y="647" width="74" height="7"><text x="0" y="8" fill="#2a8a8a">DDK29AA-D 29</text></svg>
<svg x="-1" y="654" width="74" height="6"><text x="0" y="2" fill="#2a8a8a">DDK29AA-D 29</text></svg>
<rect x="-1" y="669" width="60" height="13" fill="#fff"/>
<svg x="-1" y="671" width="62" height="7"><text x="0" y="8" fill="#823082">K30PT-D 30</text></svg>
<svg x="-1" y="678" width="62" height="6"><text x="0" y="2" fill="#823082">K30PT-D 30</text></svg>
<rect x="-1" y="787" width="60" height="13" fill="#fff"/>
<svg x="-1" y="789" width="62" height="7"><text x="0" y="8" fill="#2a8a8a">K29LQ-D 29</text></svg>
<svg x="-1" y="796" width="62" height="6"><text x="0" y="2" fill="#2a8a8a">K29LQ-D 29</text></svg>
<rect x="-1" y="825" width="60" height="13" fill="#fff"/>
<svg x="-1" y="827" width="62" height="7"><text x="0" y="8" fill="#2a8a8a">K26LM-D 26</text></svg>
<svg x="-1" y="834" width="62" height="6"><text x="0" y="2" fill="#2a8a8a">K26LM-D 26</text></svg>
<rect x="-1" y="837" width="60" height="13" fill="#fff"/>
<svg x="-1" y="839" width="62" height="7"><text x="0" y="8" fill="#823082">K27MS-D 27</text></svg>
<svg x="-1" y="846" width="62" height="6"><text x="0" y="2" fill="#823082">K27MS-D 27</text></svg>
<rect x="69" y="837" width="60" height="13" fill="#fff"/>
<svg x="69" y="839" width="62" height="7"><text x="0" y="8" fill="#00dc00">K24ID-D 24</text></svg>
<svg x="69" y="846" width="62" height="6"><text x="0" y="2" fill="#00dc00">K24ID-D 24</text></svg>
<rect x="171" y="837" width="60" height="13" fill="#fff"/>
<svg x="171" y="839" width="62" height="7"><text x="0" y="8" fill="#0000ff">K22MG-D 22</text></svg>
<svg x="171" y="846" width="62" height="6"><text x="0" y="2" fill="#0000ff">K22MG-D 22</text></svg>
<rect x="232" y="837" width="60" height="13" fill="#fff"/>
<svg x="232" y="839" width="62" height="7"><text x="0" y="8" fill="#00dc00">K21KA-D 21</text></svg>
<svg x="232" y="846" width="62" height="6"><text x="0" y="2" fill="#00dc00">K21KA-D 21</text></svg>
<rect x="291" y="837" width="60" height="13" fill="#fff"/>
<svg x="291" y="839" width="62" height="7"><text x="0" y="8" fill="#0000ff">K25MZ-D 25</text></svg>
<svg x="291" y="846" width="62" height="6"><text x="0" y="2" fill="#0000ff">K25MZ-D 25</text></svg>
<rect x="351" y="837" width="24" height="13" fill="#fff"/>
<svg x="351" y="839" width="26" height="7"><text x="0" y="8" fill="#0000b4">D 19</text></svg>
<svg x="351" y="846" width="26" height="6"><text x="0" y="2" fill="#0000b4">D 19</text></svg>
<rect x="371" y="837" width="60" height="13" fill="#fff"/>
<svg x="371" y="839" width="62" height="7"><text x="0" y="8" fill="#e00000">K23LX-D 23</text></svg>
<svg x="371" y="846" width="62" height="6"><text x="0" y="2" fill="#e00000">K23LX-D 23</text></svg>
<rect x="434" y="837" width="54" height="13" fill="#fff"/>
<svg x="434" y="839" width="56" height="7"><text x="0" y="8" fill="#e00000">CFW-TV 17</text></svg>
<svg x="434" y="846" width="56" height="6"><text x="0" y="2" fill="#e00000">CFW-TV 17</text></svg>
<rect x="490" y="837" width="12" height="13" fill="#fff"/>
<svg x="490" y="839" width="14" height="7"><text x="0" y="8" fill="#000090">16</text></svg>
<svg x="490" y="846" width="14" height="6"><text x="0" y="2" fill="#000090">16</text></svg>
<rect x="502" y="837" width="60" height="13" fill="#fff"/>
<svg x="502" y="839" width="62" height="7"><text x="0" y="8" fill="#000090">K16GJ-D 16</text></svg>
<svg x="502" y="846" width="62" height="6"><text x="0" y="2" fill="#000090">K16GJ-D 16</text></svg>
<rect x="571" y="837" width="12" height="13" fill="#fff"/>
<svg x="571" y="839" width="14" height="7"><text x="0" y="8" fill="#00a000">15</text></svg>
<svg x="571" y="846" width="14" height="6"><text x="0" y="2" fill="#00a000">15</text></svg>
<rect x="583" y="837" width="36" height="13" fill="#fff"/>
<svg x="583" y="839" width="38" height="7"><text x="0" y="8" fill="#800000">14LT-D</text></svg>
<svg x="583" y="846" width="38" height="6"><text x="0" y="2" fill="#800000">14LT-D</text></svg>
<rect x="627" y="837" width="60" height="13" fill="#fff"/>
<svg x="627" y="839" width="62" height="7"><text x="0" y="8" fill="#00dc00">K18KM-D 18</text></svg>
<svg x="627" y="846" width="62" height="6"><text x="0" y="2" fill="#00dc00">K18KM-D 18</text></svg>
<rect x="719" y="837" width="60" height="13" fill="#fff"/>
<svg x="719" y="839" width="62" height="7"><text x="0" y="8" fill="#000090">K16KB-D 16</text></svg>
<svg x="719" y="846" width="62" height="6"><text x="0" y="2" fill="#000090">K16KB-D 16</text></svg>
<rect x="837" y="837" width="12" height="13" fill="#fff"/>
<svg x="837" y="839" width="14" height="7"><text x="0" y="8" fill="#000090">13</text></svg>
<svg x="837" y="846" width="14" height="6"><text x="0" y="2" fill="#000090">13</text></svg>
<svg x="10" y="831" width="296" height="7"><text x="0" y="8" fill="#000000">Lat 49.78 Lon -112.872 04/26/2024 RabbitEars.info</text></svg>
<svg x="10" y="838" width="296" height="6"><text x="0" y="2" fill="#000000">Lat 49.78 Lon -112.872 04/26/2024 RabbitEars.info</text></svg>
<svg x="749" y="832" width="86" height="7"><text x="0" y="8" fill="#000000">Scale 20 miles</text></svg>
<svg x="749" y="839" width="86" height="6"><text x="0" y="2" fill="#000000">Scale 20 miles</text></svg>
<rect x="229" y="613" width="60" height="13" fill="#fff"/>
<svg x="229" y="615" width="62" height="7"><text x="0" y="8" fill="#8a8a30">K28KO-D 28</text></svg>
<svg x="229" y="622" width="62" height="6"><text x="0" y="2" fill="#8a8a30">K28KO-D 28</text></svg>
<rect x="335" y="684" width="60" height="13" fill="#fff"/>
<svg x="335" y="686" width="62" height="7"><text x="0" y="8" fill="#823082">K27JW-D 27</text></svg>
<svg x="335" y="693" width="62" height="6"><text x="0" y="2" fill="#823082">K27JW-D 27</text></svg>
<rect x="296" y="756" width="60" height="13" fill="#fff"/>
<svg x="296" y="758" width="62" height="7"><text x="0" y="8" fill="#0000ff">K25NJ-D 25</text></svg>
<svg x="296" y="765" width="62" height="6"><text x="0" y="2" fill="#0000ff">K25NJ-D 25</text></svg>
<rect x="488" y="787" width="60" height="13" fill="#fff"/>
<svg x="488" y="789" width="62" height="7"><text x="0" y="8" fill="#000090">K13KV-D 13</text></svg>
<svg x="488" y="796" width="62" height="6"><text x="0" y="2" fill="#000090">K13KV-D 13</text></svg>
<rect x="513" y="642" width="60" height="13" fill="#fff"/>
<svg x="513" y="644" width="62" height="7"><text x="0" y="8" fill="#800000">K11KP-D 11</text></svg>
<svg x="513" y="651" width="62" height="6"><text x="0" y="2" fill="#800000">K11KP-D 11</text></svg>
<rect x="575" y="645" width="6" height="13" fill="#fff"/>
<svg x="575" y="647" width="8" height="7"><text x="0" y="8" fill="#000000">y</text></svg>
<svg x="575" y="654" width="8" height="6"><text x="0" y="2" fill="#000000">y</text></svg>
<rect x="576" y="689" width="60" height="13" fill="#fff"/>
<svg x="576" y="691" width="62" height="7"><text x="0" y="8" fill="#e00000">CJIL-DT 17</text></svg>
<svg x="576" y="698" width="62" height="6"><text x="0" y="2" fill="#e00000">CJIL-DT 17</text></svg>
<rect x="587" y="573" width="54" height="13" fill="#fff"/>
<svg x="587" y="575" width="56" height="7"><text x="0" y="8" fill="#800000">K08PQ-D 8</text></svg>
<svg x="587" y="582" width="56" height="6"><text x="0" y="2" fill="#800000">K08PQ-D 8</text></svg>
<rect x="674" y="591" width="60" height="13" fill="#fff"/>
<svg x="674" y="593" width="62" height="7"><text x="0" y="8" fill="#000090">K10LH-D 10</text></svg>
<svg x="674" y="600" width="62" height="6"><text x="0" y="2" fill="#000090">K10LH-D 10</text></svg>
<rect x="771" y="563" width="54" height="13" fill="#fff"/>
<svg x="771" y="565" width="56" height="7"><text x="0" y="8" fill="#000090">CFCN-5 13</text></svg>
<svg x="771" y="572" width="56" height="6"><text x="0" y="2" fill="#000090">CFCN-5 13</text></svg>
<rect x="795" y="489" width="54" height="13" fill="#fff"/>
<svg x="795" y="491" width="56" height="7"><text x="0" y="8" fill="#006800">K09ZB-D 9</text></svg>
<svg x="795" y="498" width="56" height="6"><text x="0" y="2" fill="#006800">K09ZB-D 9</text></svg>
<rect x="580" y="484" width="54" height="13" fill="#fff"/>
<svg x="580" y="486" width="56" height="7"><text x="0" y="8" fill="#000058">K07EN-D 7</text></svg>
<svg x="580" y="493" width="56" height="6"><text x="0" y="2" fill="#000058">K07EN-D 7</text></svg>
<rect x="591" y="413" width="54" height="13" fill="#fff"/>
<svg x="591" y="415" width="56" height="7"><text x="0" y="8" fill="#000058">K07IT-D 7</text></svg>
<svg x="591" y="422" width="56" height="6"><text x="0" y="2" fill="#000058">K07IT-D 7</text></svg>
<rect x="490" y="419" width="54" height="13" fill="#fff"/>
<svg x="490" y="421" width="56" height="7"><text x="0" y="8" fill="#3c0a0a">K05NE-D 5</text></svg>
<svg x="490" y="428" width="56" height="6"><text x="0" y="2" fill="#3c0a0a">K05NE-D 5</text></svg>
<rect x="482" y="391" width="54" height="13" fill="#fff"/>
<svg x="482" y="393" width="56" height="7"><text x="0" y="8" fill="#3c0a0a">K05MW-D 5</text></svg>
<svg x="482" y="400" width="56" height="6"><text x="0" y="2" fill="#3c0a0a">K05MW-D 5</text></svg>
<rect x="490" y="328" width="54" height="13" fill="#fff"/>
<svg x="490" y="330" width="56" height="7"><text x="0" y="8" fill="#3c0a0a">K05FC-D 5</text></svg>
<svg x="490" y="337" width="56" height="6"><text x="0" y="2" fill="#3c0a0a">K05FC-D 5</text></svg>
<rect x="469" y="315" width="60" height="13" fill="#fff"/>
<svg x="469" y="317" width="62" height="7"><text x="0" y="8" fill="#a08080">K35OF-D 35</text></svg>
<svg x="469" y="324" width="62" height="6"><text x="0" y="2" fill="#a08080">K35OF-D 35</text></svg>
<rect x="517" y="293" width="60" height="13" fill="#fff"/>
<svg x="517" y="295" width="62" height="7"><text x="0" y="8" fill="#7da07d">K36DK-D 36</text></svg>
<svg x="517" y="302" width="62" height="6"><text x="0" y="2" fill="#7da07d">K36DK-D 36</text></svg>
<rect x="426" y="346" width="60" height="13" fill="#fff"/>
<svg x="426" y="348" width="62" height="7"><text x="0" y="8" fill="#88885c">K34PM-D 34</text></svg>
<svg x="426" y="355" width="62" height="6"><text x="0" y="2" fill="#88885c">K34PM-D 34</text></svg>
<rect x="358" y="427" width="60" height="13" fill="#fff"/>
<svg x="358" y="429" width="62" height="7"><text x="0" y="8" fill="#4f8282">K32NN-D 32</text></svg>
<svg x="358" y="436" width="62" height="6"><text x="0" y="2" fill="#4f8282">K32NN-D 32</text></svg>
<rect x="431" y="427" width="6" height="13" fill="#fff"/>
<svg x="431" y="429" width="8" height="7"><text x="0" y="8" fill="#3c0a0a">K</text></svg>
<svg x="431" y="436" width="8" height="6"><text x="0" y="2" fill="#3c0a0a">K</text></svg>
<rect x="436" y="427" width="60" height="13" fill="#fff"/>
<svg x="436" y="429" width="62" height="7"><text x="0" y="8" fill="#00a000">CFCN-13 15</text></svg>
<svg x="436" y="436" width="62" height="6"><text x="0" y="2" fill="#00a000">CFCN-13 15</text></svg>
<rect x="452" y="0" width="48" height="13" fill="#fff"/>
<svg x="452" y="2" width="50" height="7"><text x="0" y="8" fill="#000058">CFCN-2 7</text></svg>
<svg x="452" y="9" width="50" height="6"><text x="0" y="2" fill="#000058">CFCN-2 7</text></svg>
<rect x="715" y="180" width="54" height="13" fill="#fff"/>
<svg x="715" y="182" width="56" height="7"><text x="0" y="8" fill="#000058">CISA-DT 7</text></svg>
<svg x="715" y="189" width="56" height="6"><text x="0" y="2" fill="#000058">CISA-DT 7</text></svg>
<rect x="668" y="728" width="60" height="13" fill="#fff"/>
<svg x="668" y="730" width="62" height="7"><text x="0" y="8" fill="#800000">K11NE-D 11</text></svg>
<svg x="668" y="737" width="62" height="6"><text x="0" y="2" fill="#800000">K11NE-D 11</text></svg>
<rect x="674" y="723" width="60" height="13" fill="#fff"/>
<svg x="674" y="725" width="62" height="7"><text x="0" y="8" fill="#00a000">K12LU-D 12</text></svg>
<svg x="674" y="732" width="62" height="6"><text x="0" y="2" fill="#00a000">K12LU-D 12</text></svg>
<rect x="789" y="725" width="60" height="13" fill="#fff"/>
<svg x="789" y="727" width="62" height="7"><text x="0" y="8" fill="#800000">K11WQ-D 11</text></svg>
<svg x="789" y="734" width="62" height="6"><text x="0" y="2" fill="#800000">K11WQ-D 11</text></svg>
<svg x="837" y="736" width="14" height="7"><text x="0" y="8" fill="#800000">11</text></svg>
<svg x="837" y="743" width="14" height="6"><text x="0" y="2" fill="#800000">11</text></svg>
<rect x="639" y="763" width="60" height="13" fill="#fff"/>
<svg x="639" y="765" width="62" height="7"><text x="0" y="8" fill="#800000">K11RX-D 11</text></svg>
<svg x="639" y="772" width="62" height="6"><text x="0" y="2" fill="#800000">K11RX-D 11</text></svg>
<rect x="727" y="787" width="36" height="13" fill="#fff"/>
<svg x="727" y="789" width="38" height="7"><text x="0" y="8" fill="#800000">D-D 11</text></svg>
<svg x="727" y="796" width="38" height="6"><text x="0" y="2" fill="#800000">D-D 11</text></svg>
<rect x="666" y="787" width="60" height="13" fill="#fff"/>
<svg x="666" y="789" width="62" height="7"><text x="0" y="8" fill="#00a000">K12LO-D 12</text></svg>
<svg x="666" y="796" width="62" height="6"><text x="0" y="2" fill="#00a000">K12LO-D 12</text></svg>
<text class="n" x="806" y="68" fill="#000">N</text>
</g>
</svg>
</body></html>
